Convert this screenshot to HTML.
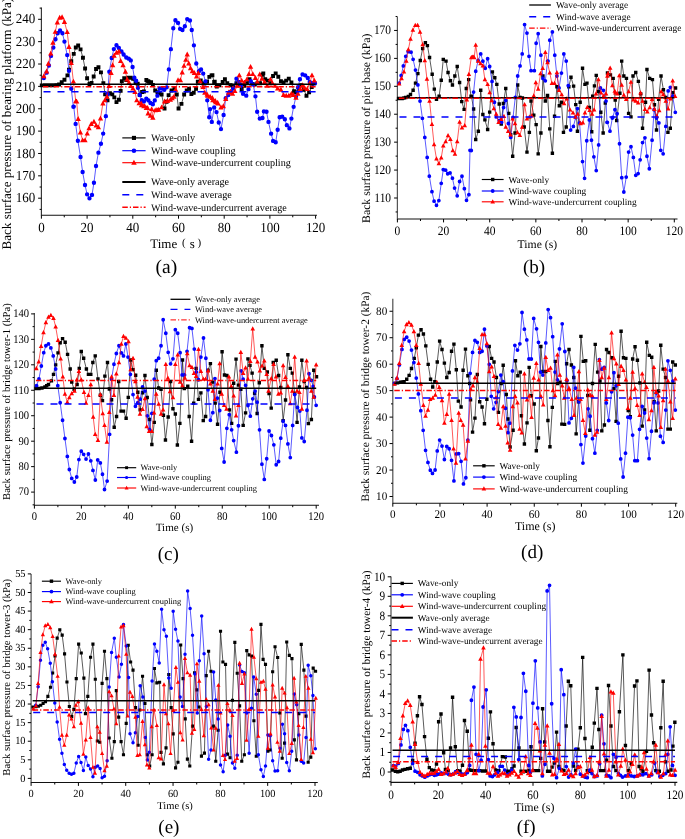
<!DOCTYPE html>
<html><head><meta charset="utf-8"><style>
html,body{margin:0;padding:0;background:#fff;overflow:hidden}
svg{display:block;filter:blur(0.35px);font-family:"Liberation Serif",serif;text-rendering:geometricPrecision}
</style></head><body>
<svg width="685" height="839" viewBox="0 0 685 839"><path d="M41.4 7.6V215.8" fill="none" stroke="#333" stroke-width="1.15"/>
<path d="M41.4 215.3H317" fill="none" stroke="#111" stroke-width="1.1"/>
<path d="M41.4 209.38H39.6M41.4 198.2H38.1M41.4 187.02H39.6M41.4 175.84H38.1M41.4 164.66H39.6M41.4 153.47H38.1M41.4 142.29H39.6M41.4 131.11H38.1M41.4 119.93H39.6M41.4 108.75H38.1M41.4 97.57H39.6M41.4 86.39H38.1M41.4 75.21H39.6M41.4 64.02H38.1M41.4 52.84H39.6M41.4 41.66H38.1M41.4 30.48H39.6M41.4 19.3H38.1M41.4 8.12H39.6M41.4 215.3V218.7M64.25 215.3V217.3M87.1 215.3V218.7M109.95 215.3V217.3M132.8 215.3V218.7M155.65 215.3V217.3M178.5 215.3V218.7M201.35 215.3V217.3M224.2 215.3V218.7M247.05 215.3V217.3M269.9 215.3V218.7M292.75 215.3V217.3M315.6 215.3V218.7" stroke="#000" stroke-width="1" fill="none"/>
<text transform="translate(35.3 202.32) scale(0.94 1)" font-size="13.8" text-anchor="end">160</text>
<text transform="translate(35.3 179.96) scale(0.94 1)" font-size="13.8" text-anchor="end">170</text>
<text transform="translate(35.3 157.6) scale(0.94 1)" font-size="13.8" text-anchor="end">180</text>
<text transform="translate(35.3 135.24) scale(0.94 1)" font-size="13.8" text-anchor="end">190</text>
<text transform="translate(35.3 112.87) scale(0.94 1)" font-size="13.8" text-anchor="end">200</text>
<text transform="translate(35.3 90.51) scale(0.94 1)" font-size="13.8" text-anchor="end">210</text>
<text transform="translate(35.3 68.15) scale(0.94 1)" font-size="13.8" text-anchor="end">220</text>
<text transform="translate(35.3 45.79) scale(0.94 1)" font-size="13.8" text-anchor="end">230</text>
<text transform="translate(35.3 23.42) scale(0.94 1)" font-size="13.8" text-anchor="end">240</text>
<text transform="translate(41.4 232.22) scale(0.94 1)" font-size="13.8" text-anchor="middle">0</text>
<text transform="translate(87.1 232.22) scale(0.94 1)" font-size="13.8" text-anchor="middle">20</text>
<text transform="translate(132.8 232.22) scale(0.94 1)" font-size="13.8" text-anchor="middle">40</text>
<text transform="translate(178.5 232.22) scale(0.94 1)" font-size="13.8" text-anchor="middle">60</text>
<text transform="translate(224.2 232.22) scale(0.94 1)" font-size="13.8" text-anchor="middle">80</text>
<text transform="translate(269.9 232.22) scale(0.94 1)" font-size="13.8" text-anchor="middle">100</text>
<text transform="translate(315.6 232.22) scale(0.94 1)" font-size="13.8" text-anchor="middle">120</text>
<text transform="translate(11.2 249.5) rotate(-90)" font-size="13.1">Back surface pressure of bearing platform (kPa)</text>
<path d="M397.4 16.8V219.5" fill="none" stroke="#555" stroke-width="1.25"/>
<path d="M397.4 219H677.5" fill="none" stroke="#111" stroke-width="1.1"/>
<path d="M397.4 211.96H395.6M397.4 198H394.1M397.4 184.04H395.6M397.4 170.07H394.1M397.4 156.11H395.6M397.4 142.15H394.1M397.4 128.19H395.6M397.4 114.23H394.1M397.4 100.26H395.6M397.4 86.3H394.1M397.4 72.34H395.6M397.4 58.38H394.1M397.4 44.41H395.6M397.4 30.45H394.1M397.4 16.49H395.6M397.4 219V222.4M420.47 219V221M443.55 219V222.4M466.62 219V221M489.7 219V222.4M512.77 219V221M535.85 219V222.4M558.92 219V221M582 219V222.4M605.07 219V221M628.15 219V222.4M651.22 219V221M674.3 219V222.4" stroke="#000" stroke-width="1" fill="none"/>
<text transform="translate(391.1 201.82) scale(0.89 1)" font-size="12.9" text-anchor="end">110</text>
<text transform="translate(391.1 173.9) scale(0.89 1)" font-size="12.9" text-anchor="end">120</text>
<text transform="translate(391.1 145.97) scale(0.89 1)" font-size="12.9" text-anchor="end">130</text>
<text transform="translate(391.1 118.05) scale(0.89 1)" font-size="12.9" text-anchor="end">140</text>
<text transform="translate(391.1 90.12) scale(0.89 1)" font-size="12.9" text-anchor="end">150</text>
<text transform="translate(391.1 62.2) scale(0.89 1)" font-size="12.9" text-anchor="end">160</text>
<text transform="translate(391.1 34.27) scale(0.89 1)" font-size="12.9" text-anchor="end">170</text>
<text transform="translate(397.4 234.72) scale(0.89 1)" font-size="12.9" text-anchor="middle">0</text>
<text transform="translate(443.55 234.72) scale(0.89 1)" font-size="12.9" text-anchor="middle">20</text>
<text transform="translate(489.7 234.72) scale(0.89 1)" font-size="12.9" text-anchor="middle">40</text>
<text transform="translate(535.85 234.72) scale(0.89 1)" font-size="12.9" text-anchor="middle">60</text>
<text transform="translate(582 234.72) scale(0.89 1)" font-size="12.9" text-anchor="middle">80</text>
<text transform="translate(628.15 234.72) scale(0.89 1)" font-size="12.9" text-anchor="middle">100</text>
<text transform="translate(674.3 234.72) scale(0.89 1)" font-size="12.9" text-anchor="middle">120</text>
<text transform="translate(369.5 222.9) rotate(-90)" font-size="11.75">Back surface pressure of pier base (kPa)</text>
<path d="M34.4 313V505.7" fill="none" stroke="#555" stroke-width="1.25"/>
<path d="M34.4 505.2H319" fill="none" stroke="#111" stroke-width="1.1"/>
<path d="M34.4 504.83H32.6M34.4 492.1H31.1M34.4 479.37H32.6M34.4 466.64H31.1M34.4 453.91H32.6M34.4 441.19H31.1M34.4 428.46H32.6M34.4 415.73H31.1M34.4 403H32.6M34.4 390.27H31.1M34.4 377.54H32.6M34.4 364.81H31.1M34.4 352.09H32.6M34.4 339.36H31.1M34.4 326.63H32.6M34.4 313.9H31.1M34.4 505.2V508.6M57.88 505.2V507.2M81.37 505.2V508.6M104.85 505.2V507.2M128.33 505.2V508.6M151.82 505.2V507.2M175.3 505.2V508.6M198.78 505.2V507.2M222.27 505.2V508.6M245.75 505.2V507.2M269.23 505.2V508.6M292.72 505.2V507.2M316.2 505.2V508.6" stroke="#000" stroke-width="1" fill="none"/>
<text transform="translate(29 495.49) scale(0.91 1)" font-size="11.6" text-anchor="end">70</text>
<text transform="translate(29 470.03) scale(0.91 1)" font-size="11.6" text-anchor="end">80</text>
<text transform="translate(29 444.57) scale(0.91 1)" font-size="11.6" text-anchor="end">90</text>
<text transform="translate(29 419.11) scale(0.91 1)" font-size="11.6" text-anchor="end">100</text>
<text transform="translate(29 393.66) scale(0.91 1)" font-size="11.6" text-anchor="end">110</text>
<text transform="translate(29 368.2) scale(0.91 1)" font-size="11.6" text-anchor="end">120</text>
<text transform="translate(29 342.74) scale(0.91 1)" font-size="11.6" text-anchor="end">130</text>
<text transform="translate(29 317.29) scale(0.91 1)" font-size="11.6" text-anchor="end">140</text>
<text transform="translate(34.4 519.89) scale(0.91 1)" font-size="11.6" text-anchor="middle">0</text>
<text transform="translate(81.37 519.89) scale(0.91 1)" font-size="11.6" text-anchor="middle">20</text>
<text transform="translate(128.33 519.89) scale(0.91 1)" font-size="11.6" text-anchor="middle">40</text>
<text transform="translate(175.3 519.89) scale(0.91 1)" font-size="11.6" text-anchor="middle">60</text>
<text transform="translate(222.27 519.89) scale(0.91 1)" font-size="11.6" text-anchor="middle">80</text>
<text transform="translate(269.23 519.89) scale(0.91 1)" font-size="11.6" text-anchor="middle">100</text>
<text transform="translate(316.2 519.89) scale(0.91 1)" font-size="11.6" text-anchor="middle">120</text>
<text transform="translate(9.6 500) rotate(-90)" font-size="10.7">Back surface pressure of bridge tower-1 (kPa)</text>
<path d="M392.8 298.75V503.8" fill="none" stroke="#555" stroke-width="1.25"/>
<path d="M392.8 503.3H677.3" fill="none" stroke="#111" stroke-width="1.1"/>
<path d="M392.8 496.5H389.5M392.8 483.27H391M392.8 470.04H389.5M392.8 456.8H391M392.8 443.57H389.5M392.8 430.34H391M392.8 417.11H389.5M392.8 403.88H391M392.8 390.64H389.5M392.8 377.41H391M392.8 364.18H389.5M392.8 350.95H391M392.8 337.71H389.5M392.8 324.48H391M392.8 311.25H389.5M392.8 503.3V506.7M416.38 503.3V505.3M439.95 503.3V506.7M463.53 503.3V505.3M487.1 503.3V506.7M510.68 503.3V505.3M534.25 503.3V506.7M557.83 503.3V505.3M581.4 503.3V506.7M604.98 503.3V505.3M628.55 503.3V506.7M652.12 503.3V505.3M675.7 503.3V506.7" stroke="#000" stroke-width="1" fill="none"/>
<text transform="translate(387.2 499.97) scale(0.94 1)" font-size="11.85" text-anchor="end">10</text>
<text transform="translate(387.2 473.51) scale(0.94 1)" font-size="11.85" text-anchor="end">20</text>
<text transform="translate(387.2 447.04) scale(0.94 1)" font-size="11.85" text-anchor="end">30</text>
<text transform="translate(387.2 420.58) scale(0.94 1)" font-size="11.85" text-anchor="end">40</text>
<text transform="translate(387.2 394.11) scale(0.94 1)" font-size="11.85" text-anchor="end">50</text>
<text transform="translate(387.2 367.65) scale(0.94 1)" font-size="11.85" text-anchor="end">60</text>
<text transform="translate(387.2 341.18) scale(0.94 1)" font-size="11.85" text-anchor="end">70</text>
<text transform="translate(387.2 314.72) scale(0.94 1)" font-size="11.85" text-anchor="end">80</text>
<text transform="translate(392.8 517.97) scale(0.94 1)" font-size="11.85" text-anchor="middle">0</text>
<text transform="translate(439.95 517.97) scale(0.94 1)" font-size="11.85" text-anchor="middle">20</text>
<text transform="translate(487.1 517.97) scale(0.94 1)" font-size="11.85" text-anchor="middle">40</text>
<text transform="translate(534.25 517.97) scale(0.94 1)" font-size="11.85" text-anchor="middle">60</text>
<text transform="translate(581.4 517.97) scale(0.94 1)" font-size="11.85" text-anchor="middle">80</text>
<text transform="translate(628.55 517.97) scale(0.94 1)" font-size="11.85" text-anchor="middle">100</text>
<text transform="translate(675.7 517.97) scale(0.94 1)" font-size="11.85" text-anchor="middle">120</text>
<text transform="translate(369.3 501.4) rotate(-90)" font-size="11.4">Back surface pressure of bridge tower-2 (kPa)</text>
<path d="M31.1 574V783" fill="none" stroke="#555" stroke-width="1.25"/>
<path d="M31.1 782.5H317.8" fill="none" stroke="#111" stroke-width="1.1"/>
<path d="M31.1 778.4H27.8M31.1 769.1H29.3M31.1 759.81H27.8M31.1 750.51H29.3M31.1 741.22H27.8M31.1 731.92H29.3M31.1 722.63H27.8M31.1 713.33H29.3M31.1 704.04H27.8M31.1 694.74H29.3M31.1 685.45H27.8M31.1 676.15H29.3M31.1 666.85H27.8M31.1 657.56H29.3M31.1 648.26H27.8M31.1 638.97H29.3M31.1 629.67H27.8M31.1 620.38H29.3M31.1 611.08H27.8M31.1 601.79H29.3M31.1 592.49H27.8M31.1 583.2H29.3M31.1 573.9H27.8M31.1 782.5V785.9M54.76 782.5V784.5M78.42 782.5V785.9M102.07 782.5V784.5M125.73 782.5V785.9M149.39 782.5V784.5M173.05 782.5V785.9M196.71 782.5V784.5M220.37 782.5V785.9M244.02 782.5V784.5M267.68 782.5V785.9M291.34 782.5V784.5M315 782.5V785.9" stroke="#000" stroke-width="1" fill="none"/>
<text transform="translate(25.5 781.55) scale(0.95 1)" font-size="10.9" text-anchor="end">0</text>
<text transform="translate(25.5 762.96) scale(0.95 1)" font-size="10.9" text-anchor="end">5</text>
<text transform="translate(25.5 744.37) scale(0.95 1)" font-size="10.9" text-anchor="end">10</text>
<text transform="translate(25.5 725.78) scale(0.95 1)" font-size="10.9" text-anchor="end">15</text>
<text transform="translate(25.5 707.19) scale(0.95 1)" font-size="10.9" text-anchor="end">20</text>
<text transform="translate(25.5 688.6) scale(0.95 1)" font-size="10.9" text-anchor="end">25</text>
<text transform="translate(25.5 670.01) scale(0.95 1)" font-size="10.9" text-anchor="end">30</text>
<text transform="translate(25.5 651.42) scale(0.95 1)" font-size="10.9" text-anchor="end">35</text>
<text transform="translate(25.5 632.82) scale(0.95 1)" font-size="10.9" text-anchor="end">40</text>
<text transform="translate(25.5 614.23) scale(0.95 1)" font-size="10.9" text-anchor="end">45</text>
<text transform="translate(25.5 595.64) scale(0.95 1)" font-size="10.9" text-anchor="end">50</text>
<text transform="translate(25.5 577.05) scale(0.95 1)" font-size="10.9" text-anchor="end">55</text>
<text transform="translate(31.1 796.85) scale(0.95 1)" font-size="10.9" text-anchor="middle">0</text>
<text transform="translate(78.42 796.85) scale(0.95 1)" font-size="10.9" text-anchor="middle">20</text>
<text transform="translate(125.73 796.85) scale(0.95 1)" font-size="10.9" text-anchor="middle">40</text>
<text transform="translate(173.05 796.85) scale(0.95 1)" font-size="10.9" text-anchor="middle">60</text>
<text transform="translate(220.37 796.85) scale(0.95 1)" font-size="10.9" text-anchor="middle">80</text>
<text transform="translate(267.68 796.85) scale(0.95 1)" font-size="10.9" text-anchor="middle">100</text>
<text transform="translate(315 796.85) scale(0.95 1)" font-size="10.9" text-anchor="middle">120</text>
<text transform="translate(10 775.7) rotate(-90)" font-size="10.7">Back surface pressure of bridge tower-3 (kPa)</text>
<path d="M391 576.5V782.9" fill="none" stroke="#555" stroke-width="1.25"/>
<path d="M391 782.4H677.3" fill="none" stroke="#111" stroke-width="1.1"/>
<path d="M391 781.76H389.2M391 772H387.7M391 762.24H389.2M391 752.48H387.7M391 742.72H389.2M391 732.96H387.7M391 723.2H389.2M391 713.44H387.7M391 703.68H389.2M391 693.92H387.7M391 684.16H389.2M391 674.4H387.7M391 664.64H389.2M391 654.88H387.7M391 645.12H389.2M391 635.36H387.7M391 625.6H389.2M391 615.84H387.7M391 606.08H389.2M391 596.32H387.7M391 586.56H389.2M391 576.8H387.7M391 782.4V785.8M414.67 782.4V784.4M438.33 782.4V785.8M462 782.4V784.4M485.67 782.4V785.8M509.33 782.4V784.4M533 782.4V785.8M556.67 782.4V784.4M580.33 782.4V785.8M604 782.4V784.4M627.67 782.4V785.8M651.33 782.4V784.4M675 782.4V785.8" stroke="#000" stroke-width="1" fill="none"/>
<text transform="translate(385.2 775.75) scale(0.89 1)" font-size="12.7" text-anchor="end">0</text>
<text transform="translate(385.2 756.23) scale(0.89 1)" font-size="12.7" text-anchor="end">1</text>
<text transform="translate(385.2 736.71) scale(0.89 1)" font-size="12.7" text-anchor="end">2</text>
<text transform="translate(385.2 717.19) scale(0.89 1)" font-size="12.7" text-anchor="end">3</text>
<text transform="translate(385.2 697.67) scale(0.89 1)" font-size="12.7" text-anchor="end">4</text>
<text transform="translate(385.2 678.15) scale(0.89 1)" font-size="12.7" text-anchor="end">5</text>
<text transform="translate(385.2 658.63) scale(0.89 1)" font-size="12.7" text-anchor="end">6</text>
<text transform="translate(385.2 639.11) scale(0.89 1)" font-size="12.7" text-anchor="end">7</text>
<text transform="translate(385.2 619.59) scale(0.89 1)" font-size="12.7" text-anchor="end">8</text>
<text transform="translate(385.2 600.07) scale(0.89 1)" font-size="12.7" text-anchor="end">9</text>
<text transform="translate(385.2 580.55) scale(0.89 1)" font-size="12.7" text-anchor="end">10</text>
<text transform="translate(391 798.65) scale(0.89 1)" font-size="12.7" text-anchor="middle">0</text>
<text transform="translate(438.33 798.65) scale(0.89 1)" font-size="12.7" text-anchor="middle">20</text>
<text transform="translate(485.67 798.65) scale(0.89 1)" font-size="12.7" text-anchor="middle">40</text>
<text transform="translate(533 798.65) scale(0.89 1)" font-size="12.7" text-anchor="middle">60</text>
<text transform="translate(580.33 798.65) scale(0.89 1)" font-size="12.7" text-anchor="middle">80</text>
<text transform="translate(627.67 798.65) scale(0.89 1)" font-size="12.7" text-anchor="middle">100</text>
<text transform="translate(675 798.65) scale(0.89 1)" font-size="12.7" text-anchor="middle">120</text>
<text transform="translate(369.8 778.6) rotate(-90)" font-size="11.3">Back surface pressure of bridge tower-4 (kPa)</text>
<path d="M122.3 137.9H145.6" stroke="#000" stroke-width="1.15"/>
<path d="M131.91 135.86h4.08v4.08h-4.08z" fill="#000"/>
<text x="150.9" y="141.25" font-size="10.15" text-anchor="start">Wave-only</text>
<path d="M122.3 150.7H145.6" stroke="#00f" stroke-width="1.15"/>
<path d="M131.67 150.7a2.28 2.28 0 1 0 4.56 0a2.28 2.28 0 1 0 -4.56 0z" fill="#00f"/>
<text x="150.9" y="154.05" font-size="10.15" text-anchor="start">Wind-wave coupling</text>
<path d="M122.3 162.7H145.6" stroke="#f00" stroke-width="1.15"/>
<path d="M133.95 159.66L136.71 164.77L131.19 164.77z" fill="#f00"/>
<text x="150.9" y="166.05" font-size="10.15" text-anchor="start">Wind-wave-undercurrent coupling</text>
<path d="M122.3 182H145.6" stroke="#000" stroke-width="2"/>
<text x="150.9" y="185.35" font-size="10.15" text-anchor="start">Wave-only average</text>
<path d="M122.3 194.7H145.6" stroke="#00f" stroke-width="1.5" stroke-dasharray="7 7"/>
<text x="150.9" y="198.05" font-size="10.15" text-anchor="start">Wind-wave average</text>
<path d="M122.3 207.2H145.6" stroke="#f00" stroke-width="1.5" stroke-dasharray="5.5 2 1.2 2"/>
<text x="150.9" y="210.55" font-size="10.15" text-anchor="start">Wind-wave-undercurrent average</text>
<path d="M529.2 5H550.9" stroke="#000" stroke-width="1.3"/>
<text x="556" y="8.09" font-size="9.35" text-anchor="start">Wave-only average</text>
<path d="M529.2 16.8H550.9" stroke="#00f" stroke-width="1.4" stroke-dasharray="7 7"/>
<text x="556" y="19.89" font-size="9.35" text-anchor="start">Wind-wave average</text>
<path d="M529.2 28.1H550.9" stroke="#f00" stroke-width="1.2" stroke-dasharray="5.5 2 1.2 2"/>
<text x="556" y="31.19" font-size="9.35" text-anchor="start">Wind-wave-undercurrent average</text>
<path d="M481.8 179.5H503.6" stroke="#000" stroke-width="1.15"/>
<path d="M491 177.8h3.4v3.4h-3.4z" fill="#000"/>
<text x="508.6" y="182.56" font-size="9.27" text-anchor="start">Wave-only</text>
<path d="M481.8 191H503.6" stroke="#00f" stroke-width="1.15"/>
<path d="M490.8 191a1.9 1.9 0 1 0 3.8 0a1.9 1.9 0 1 0 -3.8 0z" fill="#00f"/>
<text x="508.6" y="194.06" font-size="9.27" text-anchor="start">Wind-wave coupling</text>
<path d="M481.8 201.8H503.6" stroke="#f00" stroke-width="1.15"/>
<path d="M492.7 199.27L495 203.53L490.4 203.53z" fill="#f00"/>
<text x="508.6" y="204.86" font-size="9.27" text-anchor="start">Wind-wave-undercurrent coupling</text>
<path d="M170.5 299.3H190.4" stroke="#000" stroke-width="1.3"/>
<text x="195" y="302.08" font-size="8.42" text-anchor="start">Wave-only average</text>
<path d="M170.5 309.4H190.4" stroke="#00f" stroke-width="1.3" stroke-dasharray="7 7"/>
<text x="195" y="312.18" font-size="8.42" text-anchor="start">Wind-wave average</text>
<path d="M170.5 319.9H190.4" stroke="#f00" stroke-width="1" stroke-dasharray="5.5 2 1.2 2"/>
<text x="195" y="322.68" font-size="8.42" text-anchor="start">Wind-wave-undercurrent average</text>
<path d="M117 467.7H136.2" stroke="#000" stroke-width="1.15"/>
<path d="M125.16 466.25h2.89v2.89h-2.89z" fill="#000"/>
<text x="140.4" y="470.49" font-size="8.45" text-anchor="start">Wave-only</text>
<path d="M117 477.5H136.2" stroke="#00f" stroke-width="1.15"/>
<path d="M124.98 477.5a1.61 1.61 0 1 0 3.23 0a1.61 1.61 0 1 0 -3.23 0z" fill="#00f"/>
<text x="140.4" y="480.29" font-size="8.45" text-anchor="start">Wind-wave coupling</text>
<path d="M117 488H136.2" stroke="#f00" stroke-width="1.15"/>
<path d="M126.6 485.85L128.56 489.47L124.64 489.47z" fill="#f00"/>
<text x="140.4" y="490.79" font-size="8.45" text-anchor="start">Wind-wave-undercurrent coupling</text>
<path d="M473.1 465.8H494.7" stroke="#000" stroke-width="1.15"/>
<path d="M482.2 464.1h3.4v3.4h-3.4z" fill="#000"/>
<text x="499.4" y="468.87" font-size="9.3" text-anchor="start">Wave-only</text>
<path d="M473.1 477.1H494.7" stroke="#00f" stroke-width="1.15"/>
<path d="M482 477.1a1.9 1.9 0 1 0 3.8 0a1.9 1.9 0 1 0 -3.8 0z" fill="#00f"/>
<text x="499.4" y="480.17" font-size="9.3" text-anchor="start">Wind-wave coupling</text>
<path d="M473.1 488.9H494.7" stroke="#f00" stroke-width="1.15"/>
<path d="M483.9 486.37L486.2 490.62L481.6 490.62z" fill="#f00"/>
<text x="499.4" y="491.97" font-size="9.3" text-anchor="start">Wind-wave-undercurrent coupling</text>
<path d="M41.9 581.2H61" stroke="#000" stroke-width="1.15"/>
<path d="M49.75 579.5h3.4v3.4h-3.4z" fill="#000"/>
<text x="65.5" y="583.97" font-size="8.4" text-anchor="start">Wave-only</text>
<path d="M41.9 591.6H61" stroke="#00f" stroke-width="1.15"/>
<path d="M49.55 591.6a1.9 1.9 0 1 0 3.8 0a1.9 1.9 0 1 0 -3.8 0z" fill="#00f"/>
<text x="65.5" y="594.37" font-size="8.4" text-anchor="start">Wind-wave coupling</text>
<path d="M41.9 601.6H61" stroke="#f00" stroke-width="1.15"/>
<path d="M51.45 599.07L53.75 603.33L49.15 603.33z" fill="#f00"/>
<text x="65.5" y="604.37" font-size="8.4" text-anchor="start">Wind-wave-undercurrent coupling</text>
<path d="M391.5 583.4H412.9" stroke="#000" stroke-width="1.15"/>
<path d="M400.5 581.7h3.4v3.4h-3.4z" fill="#000"/>
<text x="417.8" y="586.47" font-size="9.3" text-anchor="start">Wave-only</text>
<path d="M391.5 594.8H412.9" stroke="#00f" stroke-width="1.15"/>
<path d="M400.3 594.8a1.9 1.9 0 1 0 3.8 0a1.9 1.9 0 1 0 -3.8 0z" fill="#00f"/>
<text x="417.8" y="597.87" font-size="9.3" text-anchor="start">Wind-wave coupling</text>
<path d="M391.5 606.3H412.9" stroke="#f00" stroke-width="1.15"/>
<path d="M402.2 603.77L404.5 608.02L399.9 608.02z" fill="#f00"/>
<text x="417.8" y="609.37" font-size="9.3" text-anchor="start">Wind-wave-undercurrent coupling</text>
<path d="M391.5 617.7H412.9" stroke="#000" stroke-width="2"/>
<text x="417.8" y="620.77" font-size="9.3" text-anchor="start">Wave-only average</text>
<path d="M391.5 629.8H412.9" stroke="#00f" stroke-width="1.5" stroke-dasharray="7 7"/>
<text x="417.8" y="632.87" font-size="9.3" text-anchor="start">Wind-wave average</text>
<path d="M391.5 641.1H412.9" stroke="#f00" stroke-width="1.5" stroke-dasharray="5.5 2 1.2 2"/>
<text x="417.8" y="644.17" font-size="9.3" text-anchor="start">Wind-wave-undercurrent average</text>
<text x="150.2" y="247.9" font-size="13" text-anchor="start">Time</text>
<text x="182" y="245.9" font-size="11" text-anchor="start">(</text>
<text x="189.8" y="247.9" font-size="13" text-anchor="start">s</text>
<text x="197.6" y="245.9" font-size="11" text-anchor="start">)</text>
<text x="517.6" y="247.8" font-size="11.7" text-anchor="start">Time (s)</text>
<text x="155.7" y="531.1" font-size="11.1" text-anchor="start">Time (s)</text>
<text x="514.9" y="530.2" font-size="12" text-anchor="start">Time (s)</text>
<text x="157.3" y="808.9" font-size="10.5" text-anchor="start">Time (s)</text>
<text x="514.2" y="811.3" font-size="11.9" text-anchor="start">Time (s)</text>
<text x="166.4" y="272.8" font-size="19.5" text-anchor="middle">(a)</text>
<text x="534" y="273.1" font-size="19" text-anchor="middle">(b)</text>
<text x="168.3" y="560.2" font-size="19" text-anchor="middle">(c)</text>
<text x="532.2" y="557.5" font-size="19" text-anchor="middle">(d)</text>
<text x="168.9" y="832.9" font-size="19" text-anchor="middle">(e)</text>
<text x="526.2" y="832.9" font-size="19" text-anchor="middle">(f)</text>
<path d="M41.79 85.39 44.18 85.39 46.56 85.39 48.95 85.39 51.33 85.39 53.72 85.39 56.46 85.15 59.09 84.56 61.71 82.17 64.45 79.78 67.44 75.37 68.99 69.64 71.25 61.29 73.76 53.9 75.79 47.58 78.17 45.55 80.56 49.37 82.94 57.72 85.09 68.45 87.12 78.23 89.5 83.96 91.53 83 93.68 76.56 96.07 69.05 98.45 67.26 100.96 72.35 103.35 83.08 105.14 94.42 107.53 100.38 109.91 93.22 112.3 94.42 114.32 97.4 116.47 102.17 118.86 99.78 120.65 90.84 121.84 81.29 124.23 78.31 126.25 80.1 128.4 77.72 130.79 77.72 133.17 78.91 135.56 82.49 137.71 83.68 139.73 95.01 142.12 92.03 143.91 91.43 146.36 80.01 148.08 81.29 148.76 81.68 150.47 82.49 151.09 82.26 152.85 85.02 155.18 90.44 157.52 92.19 161.61 94.53 164.53 108.54 168.61 95.11 171.53 90.44 174.45 88.69 176.79 94.53 178.54 108.54 181.46 103.87 184.15 94.53 186.72 90.44 189.05 88.69 191.39 93.94 193.72 92.77 196.06 88.69 197.81 81.68 200.73 80.51 203.65 83.43 207.06 81.8 209.34 76.85 211.55 75.37 212.41 75.26 214.17 81.92 214.74 81.68 216.79 86.51 217.66 85.18 219.41 85.2 222.69 81.92 224.91 79.3 227.27 83.23 230.55 85.2 233.17 86.51 236.44 83.23 239.72 84.54 241.68 89.13 244.3 85.85 246.92 83.23 249.54 79.3 252.16 83.89 254.78 84.54 257.4 83.23 260.02 83.23 262.59 74.72 263.3 73.41 265.21 79.3 267.83 80.61 270.45 83.23 273.07 76.03 275.69 73.41 278.31 76.68 280.93 81.27 283.55 82.58 286.17 80.61 288.79 78.65 291.41 82.58 294.03 91.09 295.99 92.4 298.61 88.47 301.23 85.2 303.85 89.78 306.47 95.68 309.09 92.4 311.71 87.16 314.33 83.23" fill="none" stroke="#000" stroke-width="0.65" stroke-linejoin="round"/>
<path d="M39.83 83.44h3.91v3.91h-3.91zM42.22 83.44h3.91v3.91h-3.91zM44.61 83.44h3.91v3.91h-3.91zM46.99 83.44h3.91v3.91h-3.91zM49.38 83.44h3.91v3.91h-3.91zM51.76 83.44h3.91v3.91h-3.91zM54.51 83.2h3.91v3.91h-3.91zM57.13 82.6h3.91v3.91h-3.91zM59.76 80.21h3.91v3.91h-3.91zM62.5 77.83h3.91v3.91h-3.91zM65.48 73.42h3.91v3.91h-3.91zM67.03 67.69h3.91v3.91h-3.91zM69.3 59.34h3.91v3.91h-3.91zM71.8 51.94h3.91v3.91h-3.91zM73.83 45.62h3.91v3.91h-3.91zM76.22 43.59h3.91v3.91h-3.91zM78.6 47.41h3.91v3.91h-3.91zM80.99 55.76h3.91v3.91h-3.91zM83.14 66.5h3.91v3.91h-3.91zM85.16 76.28h3.91v3.91h-3.91zM87.55 82h3.91v3.91h-3.91zM89.58 81.05h3.91v3.91h-3.91zM91.73 74.61h3.91v3.91h-3.91zM94.11 67.09h3.91v3.91h-3.91zM96.5 65.3h3.91v3.91h-3.91zM99.01 70.39h3.91v3.91h-3.91zM101.4 81.13h3.91v3.91h-3.91zM103.18 92.46h3.91v3.91h-3.91zM105.57 98.43h3.91v3.91h-3.91zM107.96 91.27h3.91v3.91h-3.91zM110.34 92.46h3.91v3.91h-3.91zM112.37 95.44h3.91v3.91h-3.91zM114.52 100.21h3.91v3.91h-3.91zM116.9 97.83h3.91v3.91h-3.91zM118.69 88.88h3.91v3.91h-3.91zM119.89 79.34h3.91v3.91h-3.91zM122.27 76.36h3.91v3.91h-3.91zM124.3 78.15h3.91v3.91h-3.91zM126.45 75.76h3.91v3.91h-3.91zM128.83 75.76h3.91v3.91h-3.91zM131.22 76.95h3.91v3.91h-3.91zM133.6 80.53h3.91v3.91h-3.91zM135.75 81.73h3.91v3.91h-3.91zM137.78 93.06h3.91v3.91h-3.91zM140.16 90.08h3.91v3.91h-3.91zM141.95 89.48h3.91v3.91h-3.91zM144.4 78.06h3.91v3.91h-3.91zM146.13 79.34h3.91v3.91h-3.91zM146.8 79.72h3.91v3.91h-3.91zM148.51 80.53h3.91v3.91h-3.91zM149.14 80.31h3.91v3.91h-3.91zM150.9 83.06h3.91v3.91h-3.91zM153.23 88.48h3.91v3.91h-3.91zM155.56 90.23h3.91v3.91h-3.91zM157.61 91.4h3.91v3.91h-3.91zM159.65 92.57h3.91v3.91h-3.91zM162.57 106.59h3.91v3.91h-3.91zM164.61 99.87h3.91v3.91h-3.91zM166.66 93.15h3.91v3.91h-3.91zM169.58 88.48h3.91v3.91h-3.91zM172.5 86.73h3.91v3.91h-3.91zM174.83 92.57h3.91v3.91h-3.91zM176.59 106.59h3.91v3.91h-3.91zM179.5 101.91h3.91v3.91h-3.91zM182.19 92.57h3.91v3.91h-3.91zM184.76 88.48h3.91v3.91h-3.91zM187.1 86.73h3.91v3.91h-3.91zM189.43 91.99h3.91v3.91h-3.91zM191.77 90.82h3.91v3.91h-3.91zM194.1 86.73h3.91v3.91h-3.91zM195.86 79.72h3.91v3.91h-3.91zM198.77 78.56h3.91v3.91h-3.91zM201.69 81.48h3.91v3.91h-3.91zM205.1 79.85h3.91v3.91h-3.91zM207.39 74.89h3.91v3.91h-3.91zM209.6 73.42h3.91v3.91h-3.91zM210.45 73.3h3.91v3.91h-3.91zM212.22 79.97h3.91v3.91h-3.91zM212.79 79.72h3.91v3.91h-3.91zM214.84 84.55h3.91v3.91h-3.91zM215.71 83.23h3.91v3.91h-3.91zM217.46 83.24h3.91v3.91h-3.91zM220.73 79.97h3.91v3.91h-3.91zM222.96 77.35h3.91v3.91h-3.91zM225.32 81.28h3.91v3.91h-3.91zM228.59 83.24h3.91v3.91h-3.91zM231.21 84.55h3.91v3.91h-3.91zM234.49 81.28h3.91v3.91h-3.91zM237.76 82.59h3.91v3.91h-3.91zM239.73 87.17h3.91v3.91h-3.91zM242.35 83.9h3.91v3.91h-3.91zM244.97 81.28h3.91v3.91h-3.91zM247.59 77.35h3.91v3.91h-3.91zM250.21 81.93h3.91v3.91h-3.91zM252.83 82.59h3.91v3.91h-3.91zM255.45 81.28h3.91v3.91h-3.91zM258.07 81.28h3.91v3.91h-3.91zM260.63 72.76h3.91v3.91h-3.91zM261.34 71.45h3.91v3.91h-3.91zM263.25 77.35h3.91v3.91h-3.91zM265.87 78.66h3.91v3.91h-3.91zM268.49 81.28h3.91v3.91h-3.91zM271.11 74.07h3.91v3.91h-3.91zM273.73 71.45h3.91v3.91h-3.91zM276.35 74.73h3.91v3.91h-3.91zM278.97 79.31h3.91v3.91h-3.91zM281.59 80.62h3.91v3.91h-3.91zM284.21 78.66h3.91v3.91h-3.91zM286.83 76.69h3.91v3.91h-3.91zM289.45 80.62h3.91v3.91h-3.91zM292.07 89.14h3.91v3.91h-3.91zM294.04 90.45h3.91v3.91h-3.91zM296.66 86.52h3.91v3.91h-3.91zM299.28 83.24h3.91v3.91h-3.91zM301.9 87.83h3.91v3.91h-3.91zM304.52 93.72h3.91v3.91h-3.91zM307.14 90.45h3.91v3.91h-3.91zM309.76 85.21h3.91v3.91h-3.91zM312.38 81.28h3.91v3.91h-3.91z" fill="#000"/>
<path d="M43.82 77.99 46.56 72.63 48.95 65.47 50.97 55.93 53.36 47.58 55.51 39.23 57.65 33.26 60.04 30.52 62.43 33.26 64.45 41.61 67.2 55.09 68.99 70.84 71.25 88.73 73.4 106.8 73.76 106.62 75.63 123.92 77.87 140.74 80.54 156.97 82.63 172.01 85.01 184.96 87.1 194.34 89.48 198.36 92.01 194.93 93.94 182.72 96.03 166.05 98.41 152.65 100.94 143.72 103.17 133.6 105.85 116.18 109.31 71.75 111.7 58.03 113.85 49.09 116.47 45.27 118.86 47.89 121.48 51.47 123.63 54.45 126.25 57.44 128.76 58.63 130.79 60.42 132.58 66.98 134.37 77.72 136.15 80.7 137.94 87.86 139.73 95.01 141.76 100.14 143.91 101.57 146.29 98.59 148.44 100.38 150.47 103 152.86 104.2 154.77 100.43 157.4 95.66 159.54 88.5 161.93 88.5 164.31 89.7 166.7 87.31 168.85 69.42 170.88 49.14 173.26 28.26 175.41 20.27 178.03 22.89 180.06 28.86 182.45 30.05 184.83 26.23 187.22 19.08 189.96 20.51 191.75 30.05 193.9 45.32 196.28 63.45 198.91 71.21 201.06 69.42 203.2 73.59 205.47 81.34 207.26 100.31 209.19 117.3 210.07 109.12 211.81 121.88 214.17 107.42 216.53 112.06 218.76 122.54 220.98 129.09 223.6 114.94 225.7 98.3 228.32 95.02 230.81 91.75 233.17 88.47 236.44 78.65 238.8 81.92 241.03 85.2 242.99 93.71 246.27 95.68 248.5 89.13 250.85 81.27 253.21 84.54 255.44 96.33 257.14 111.79 259.76 118.61 262.48 117.95 263.9 111.4 266.52 111.79 268.48 121.88 271.1 133.67 273.07 140.88 275.69 142.19 277.65 129.74 279.62 117.3 282.24 116.64 284.86 119.26 286.82 125.16 289.44 128.43 291.41 118.61 293.63 106.82 295.99 96.33 297.96 87.16 299.92 79.3 302.54 74.32 305.16 75.37 307.78 77.99 309.75 81.92 312.37 83.23 314.99 83.23" fill="none" stroke="#00f" stroke-width="0.65" stroke-linejoin="round"/>
<path d="M41.63 77.99a2.18 2.18 0 1 0 4.37 0a2.18 2.18 0 1 0 -4.37 0zM44.38 72.63a2.18 2.18 0 1 0 4.37 0a2.18 2.18 0 1 0 -4.37 0zM46.76 65.47a2.18 2.18 0 1 0 4.37 0a2.18 2.18 0 1 0 -4.37 0zM48.79 55.93a2.18 2.18 0 1 0 4.37 0a2.18 2.18 0 1 0 -4.37 0zM51.18 47.58a2.18 2.18 0 1 0 4.37 0a2.18 2.18 0 1 0 -4.37 0zM53.32 39.23a2.18 2.18 0 1 0 4.37 0a2.18 2.18 0 1 0 -4.37 0zM55.47 33.26a2.18 2.18 0 1 0 4.37 0a2.18 2.18 0 1 0 -4.37 0zM57.86 30.52a2.18 2.18 0 1 0 4.37 0a2.18 2.18 0 1 0 -4.37 0zM60.24 33.26a2.18 2.18 0 1 0 4.37 0a2.18 2.18 0 1 0 -4.37 0zM62.27 41.61a2.18 2.18 0 1 0 4.37 0a2.18 2.18 0 1 0 -4.37 0zM65.01 55.09a2.18 2.18 0 1 0 4.37 0a2.18 2.18 0 1 0 -4.37 0zM66.8 70.84a2.18 2.18 0 1 0 4.37 0a2.18 2.18 0 1 0 -4.37 0zM69.07 88.73a2.18 2.18 0 1 0 4.37 0a2.18 2.18 0 1 0 -4.37 0zM71.21 106.8a2.18 2.18 0 1 0 4.37 0a2.18 2.18 0 1 0 -4.37 0zM71.57 106.62a2.18 2.18 0 1 0 4.37 0a2.18 2.18 0 1 0 -4.37 0zM73.45 123.92a2.18 2.18 0 1 0 4.37 0a2.18 2.18 0 1 0 -4.37 0zM75.68 140.74a2.18 2.18 0 1 0 4.37 0a2.18 2.18 0 1 0 -4.37 0zM78.36 156.97a2.18 2.18 0 1 0 4.37 0a2.18 2.18 0 1 0 -4.37 0zM80.44 172.01a2.18 2.18 0 1 0 4.37 0a2.18 2.18 0 1 0 -4.37 0zM82.83 184.96a2.18 2.18 0 1 0 4.37 0a2.18 2.18 0 1 0 -4.37 0zM84.91 194.34a2.18 2.18 0 1 0 4.37 0a2.18 2.18 0 1 0 -4.37 0zM87.29 198.36a2.18 2.18 0 1 0 4.37 0a2.18 2.18 0 1 0 -4.37 0zM89.82 194.93a2.18 2.18 0 1 0 4.37 0a2.18 2.18 0 1 0 -4.37 0zM91.76 182.72a2.18 2.18 0 1 0 4.37 0a2.18 2.18 0 1 0 -4.37 0zM93.84 166.05a2.18 2.18 0 1 0 4.37 0a2.18 2.18 0 1 0 -4.37 0zM96.23 152.65a2.18 2.18 0 1 0 4.37 0a2.18 2.18 0 1 0 -4.37 0zM98.76 143.72a2.18 2.18 0 1 0 4.37 0a2.18 2.18 0 1 0 -4.37 0zM100.99 133.6a2.18 2.18 0 1 0 4.37 0a2.18 2.18 0 1 0 -4.37 0zM103.67 116.18a2.18 2.18 0 1 0 4.37 0a2.18 2.18 0 1 0 -4.37 0zM105.4 93.96a2.18 2.18 0 1 0 4.37 0a2.18 2.18 0 1 0 -4.37 0zM107.13 71.75a2.18 2.18 0 1 0 4.37 0a2.18 2.18 0 1 0 -4.37 0zM109.52 58.03a2.18 2.18 0 1 0 4.37 0a2.18 2.18 0 1 0 -4.37 0zM111.66 49.09a2.18 2.18 0 1 0 4.37 0a2.18 2.18 0 1 0 -4.37 0zM114.29 45.27a2.18 2.18 0 1 0 4.37 0a2.18 2.18 0 1 0 -4.37 0zM116.67 47.89a2.18 2.18 0 1 0 4.37 0a2.18 2.18 0 1 0 -4.37 0zM119.3 51.47a2.18 2.18 0 1 0 4.37 0a2.18 2.18 0 1 0 -4.37 0zM121.44 54.45a2.18 2.18 0 1 0 4.37 0a2.18 2.18 0 1 0 -4.37 0zM124.07 57.44a2.18 2.18 0 1 0 4.37 0a2.18 2.18 0 1 0 -4.37 0zM126.57 58.63a2.18 2.18 0 1 0 4.37 0a2.18 2.18 0 1 0 -4.37 0zM128.6 60.42a2.18 2.18 0 1 0 4.37 0a2.18 2.18 0 1 0 -4.37 0zM130.39 66.98a2.18 2.18 0 1 0 4.37 0a2.18 2.18 0 1 0 -4.37 0zM132.18 77.72a2.18 2.18 0 1 0 4.37 0a2.18 2.18 0 1 0 -4.37 0zM133.97 80.7a2.18 2.18 0 1 0 4.37 0a2.18 2.18 0 1 0 -4.37 0zM135.76 87.86a2.18 2.18 0 1 0 4.37 0a2.18 2.18 0 1 0 -4.37 0zM137.55 95.01a2.18 2.18 0 1 0 4.37 0a2.18 2.18 0 1 0 -4.37 0zM139.58 100.14a2.18 2.18 0 1 0 4.37 0a2.18 2.18 0 1 0 -4.37 0zM141.72 101.57a2.18 2.18 0 1 0 4.37 0a2.18 2.18 0 1 0 -4.37 0zM144.11 98.59a2.18 2.18 0 1 0 4.37 0a2.18 2.18 0 1 0 -4.37 0zM146.26 100.38a2.18 2.18 0 1 0 4.37 0a2.18 2.18 0 1 0 -4.37 0zM148.28 103a2.18 2.18 0 1 0 4.37 0a2.18 2.18 0 1 0 -4.37 0zM150.67 104.2a2.18 2.18 0 1 0 4.37 0a2.18 2.18 0 1 0 -4.37 0zM152.59 100.43a2.18 2.18 0 1 0 4.37 0a2.18 2.18 0 1 0 -4.37 0zM155.21 95.66a2.18 2.18 0 1 0 4.37 0a2.18 2.18 0 1 0 -4.37 0zM157.36 88.5a2.18 2.18 0 1 0 4.37 0a2.18 2.18 0 1 0 -4.37 0zM159.74 88.5a2.18 2.18 0 1 0 4.37 0a2.18 2.18 0 1 0 -4.37 0zM162.13 89.7a2.18 2.18 0 1 0 4.37 0a2.18 2.18 0 1 0 -4.37 0zM164.52 87.31a2.18 2.18 0 1 0 4.37 0a2.18 2.18 0 1 0 -4.37 0zM166.66 69.42a2.18 2.18 0 1 0 4.37 0a2.18 2.18 0 1 0 -4.37 0zM168.69 49.14a2.18 2.18 0 1 0 4.37 0a2.18 2.18 0 1 0 -4.37 0zM171.08 28.26a2.18 2.18 0 1 0 4.37 0a2.18 2.18 0 1 0 -4.37 0zM173.22 20.27a2.18 2.18 0 1 0 4.37 0a2.18 2.18 0 1 0 -4.37 0zM175.85 22.89a2.18 2.18 0 1 0 4.37 0a2.18 2.18 0 1 0 -4.37 0zM177.88 28.86a2.18 2.18 0 1 0 4.37 0a2.18 2.18 0 1 0 -4.37 0zM180.26 30.05a2.18 2.18 0 1 0 4.37 0a2.18 2.18 0 1 0 -4.37 0zM182.65 26.23a2.18 2.18 0 1 0 4.37 0a2.18 2.18 0 1 0 -4.37 0zM185.03 19.08a2.18 2.18 0 1 0 4.37 0a2.18 2.18 0 1 0 -4.37 0zM187.78 20.51a2.18 2.18 0 1 0 4.37 0a2.18 2.18 0 1 0 -4.37 0zM189.57 30.05a2.18 2.18 0 1 0 4.37 0a2.18 2.18 0 1 0 -4.37 0zM191.71 45.32a2.18 2.18 0 1 0 4.37 0a2.18 2.18 0 1 0 -4.37 0zM194.1 63.45a2.18 2.18 0 1 0 4.37 0a2.18 2.18 0 1 0 -4.37 0zM196.72 71.21a2.18 2.18 0 1 0 4.37 0a2.18 2.18 0 1 0 -4.37 0zM198.87 69.42a2.18 2.18 0 1 0 4.37 0a2.18 2.18 0 1 0 -4.37 0zM201.02 73.59a2.18 2.18 0 1 0 4.37 0a2.18 2.18 0 1 0 -4.37 0zM203.28 81.34a2.18 2.18 0 1 0 4.37 0a2.18 2.18 0 1 0 -4.37 0zM205.07 100.31a2.18 2.18 0 1 0 4.37 0a2.18 2.18 0 1 0 -4.37 0zM207.01 117.3a2.18 2.18 0 1 0 4.37 0a2.18 2.18 0 1 0 -4.37 0zM207.89 109.12a2.18 2.18 0 1 0 4.37 0a2.18 2.18 0 1 0 -4.37 0zM209.63 121.88a2.18 2.18 0 1 0 4.37 0a2.18 2.18 0 1 0 -4.37 0zM211.98 107.42a2.18 2.18 0 1 0 4.37 0a2.18 2.18 0 1 0 -4.37 0zM214.34 112.06a2.18 2.18 0 1 0 4.37 0a2.18 2.18 0 1 0 -4.37 0zM216.57 122.54a2.18 2.18 0 1 0 4.37 0a2.18 2.18 0 1 0 -4.37 0zM218.8 129.09a2.18 2.18 0 1 0 4.37 0a2.18 2.18 0 1 0 -4.37 0zM221.42 114.94a2.18 2.18 0 1 0 4.37 0a2.18 2.18 0 1 0 -4.37 0zM223.51 98.3a2.18 2.18 0 1 0 4.37 0a2.18 2.18 0 1 0 -4.37 0zM226.13 95.02a2.18 2.18 0 1 0 4.37 0a2.18 2.18 0 1 0 -4.37 0zM228.62 91.75a2.18 2.18 0 1 0 4.37 0a2.18 2.18 0 1 0 -4.37 0zM230.98 88.47a2.18 2.18 0 1 0 4.37 0a2.18 2.18 0 1 0 -4.37 0zM234.26 78.65a2.18 2.18 0 1 0 4.37 0a2.18 2.18 0 1 0 -4.37 0zM236.62 81.92a2.18 2.18 0 1 0 4.37 0a2.18 2.18 0 1 0 -4.37 0zM238.84 85.2a2.18 2.18 0 1 0 4.37 0a2.18 2.18 0 1 0 -4.37 0zM240.81 93.71a2.18 2.18 0 1 0 4.37 0a2.18 2.18 0 1 0 -4.37 0zM244.08 95.68a2.18 2.18 0 1 0 4.37 0a2.18 2.18 0 1 0 -4.37 0zM246.31 89.13a2.18 2.18 0 1 0 4.37 0a2.18 2.18 0 1 0 -4.37 0zM248.67 81.27a2.18 2.18 0 1 0 4.37 0a2.18 2.18 0 1 0 -4.37 0zM251.03 84.54a2.18 2.18 0 1 0 4.37 0a2.18 2.18 0 1 0 -4.37 0zM253.25 96.33a2.18 2.18 0 1 0 4.37 0a2.18 2.18 0 1 0 -4.37 0zM254.96 111.79a2.18 2.18 0 1 0 4.37 0a2.18 2.18 0 1 0 -4.37 0zM257.58 118.61a2.18 2.18 0 1 0 4.37 0a2.18 2.18 0 1 0 -4.37 0zM260.3 117.95a2.18 2.18 0 1 0 4.37 0a2.18 2.18 0 1 0 -4.37 0zM261.71 111.4a2.18 2.18 0 1 0 4.37 0a2.18 2.18 0 1 0 -4.37 0zM264.33 111.79a2.18 2.18 0 1 0 4.37 0a2.18 2.18 0 1 0 -4.37 0zM266.3 121.88a2.18 2.18 0 1 0 4.37 0a2.18 2.18 0 1 0 -4.37 0zM268.92 133.67a2.18 2.18 0 1 0 4.37 0a2.18 2.18 0 1 0 -4.37 0zM270.88 140.88a2.18 2.18 0 1 0 4.37 0a2.18 2.18 0 1 0 -4.37 0zM273.5 142.19a2.18 2.18 0 1 0 4.37 0a2.18 2.18 0 1 0 -4.37 0zM275.47 129.74a2.18 2.18 0 1 0 4.37 0a2.18 2.18 0 1 0 -4.37 0zM277.43 117.3a2.18 2.18 0 1 0 4.37 0a2.18 2.18 0 1 0 -4.37 0zM280.05 116.64a2.18 2.18 0 1 0 4.37 0a2.18 2.18 0 1 0 -4.37 0zM282.67 119.26a2.18 2.18 0 1 0 4.37 0a2.18 2.18 0 1 0 -4.37 0zM284.64 125.16a2.18 2.18 0 1 0 4.37 0a2.18 2.18 0 1 0 -4.37 0zM287.26 128.43a2.18 2.18 0 1 0 4.37 0a2.18 2.18 0 1 0 -4.37 0zM289.22 118.61a2.18 2.18 0 1 0 4.37 0a2.18 2.18 0 1 0 -4.37 0zM291.45 106.82a2.18 2.18 0 1 0 4.37 0a2.18 2.18 0 1 0 -4.37 0zM293.81 96.33a2.18 2.18 0 1 0 4.37 0a2.18 2.18 0 1 0 -4.37 0zM295.77 87.16a2.18 2.18 0 1 0 4.37 0a2.18 2.18 0 1 0 -4.37 0zM297.74 79.3a2.18 2.18 0 1 0 4.37 0a2.18 2.18 0 1 0 -4.37 0zM300.36 74.32a2.18 2.18 0 1 0 4.37 0a2.18 2.18 0 1 0 -4.37 0zM302.98 75.37a2.18 2.18 0 1 0 4.37 0a2.18 2.18 0 1 0 -4.37 0zM305.6 77.99a2.18 2.18 0 1 0 4.37 0a2.18 2.18 0 1 0 -4.37 0zM307.56 81.92a2.18 2.18 0 1 0 4.37 0a2.18 2.18 0 1 0 -4.37 0zM310.18 83.23a2.18 2.18 0 1 0 4.37 0a2.18 2.18 0 1 0 -4.37 0zM312.8 83.23a2.18 2.18 0 1 0 4.37 0a2.18 2.18 0 1 0 -4.37 0z" fill="#00f"/>
<path d="M43.82 76.21 46.56 71.43 48.35 63.68 50.74 53.54 52.88 42.8 55.27 31.83 57.3 22.53 59.68 17.75 62.07 17.16 64.45 21.93 67.2 32.07 68.99 46.98 71.25 63.08 73.4 81.57 75.79 101.26 76.67 101.59 78.16 119.01 80.4 132.4 82.63 140.29 85.01 140.29 87.24 133.6 89.03 128.38 91.26 123.92 93.94 121.69 96.18 125.41 98.41 127.34 100.49 118.41 102.88 103.52 106.93 96.8 109.08 86.07 111.1 72.94 112.65 65.19 114.09 55.65 116.47 52.66 118.86 51.47 120.65 61.02 123.03 65.19 125.42 71.75 127.21 79.5 129 82.49 130.79 86.07 132.93 88.45 134.96 92.03 136.75 100.38 139.14 103.36 141.17 103.28 141.52 105.15 143.91 106.34 144.67 106.2 146.29 108.13 147.59 107.96 148.08 113.5 150.47 115.89 151.68 109.12 152.86 117.68 155.18 110.29 158.69 109.71 161.61 107.37 164.53 101.53 167.45 100.95 170.36 99.78 173.87 96.86 175.65 89.7 178.03 80.15 180.42 80.15 182.21 72.4 184 65.84 185.79 59.87 187.22 54.5 188.77 63.45 190.56 68.22 192.35 71.21 194.38 72.99 196.52 76.57 198.31 72.99 200.1 81.34 203.07 86.93 204.82 92.77 207.15 94.53 207.62 95.68 210.16 96.67 212.41 98.03 212.86 100.26 215.33 100.95 215.74 102.23 217.66 102.7 218.1 103.54 220.98 107.47 223.34 106.16 225.7 98.95 228.58 92.4 230.55 91.75 232.51 93.71 234.87 91.09 237.1 85.85 239.32 75.37 241.68 80.61 244.3 82.58 246.92 79.3 248.89 74.06 250.59 66.86 252.82 74.06 255.44 77.99 257.4 81.92 259.76 74.32 261.96 78.65 264.55 81.92 267.17 85.85 270.45 79.3 272.41 83.23 275.03 85.85 277.65 88.47 280.93 89.78 283.55 95.02 286.17 95.68 288.79 95.68 291.41 93.71 293.37 95.02 295.99 97.64 297.96 93.71 300.19 89.13 302.54 85.2 304.51 87.82 307.13 89.13 309.75 83.23 311.98 75.37 314.33 80.61" fill="none" stroke="#f00" stroke-width="0.65" stroke-linejoin="round"/>
<path d="M43.82 73.3L46.46 78.19L41.17 78.19zM46.56 68.52L49.21 73.42L43.92 73.42zM48.35 60.77L51 65.66L45.71 65.66zM50.74 50.63L53.38 55.52L48.09 55.52zM52.88 39.89L55.53 44.79L50.24 44.79zM55.27 28.92L57.91 33.81L52.62 33.81zM57.3 19.62L59.94 24.51L54.65 24.51zM59.68 14.84L62.33 19.74L57.04 19.74zM62.07 14.25L64.71 19.14L59.42 19.14zM64.45 19.02L67.1 23.91L61.81 23.91zM67.2 29.16L69.84 34.05L64.55 34.05zM68.99 44.07L71.63 48.96L66.34 48.96zM71.25 60.17L73.9 65.07L68.61 65.07zM73.4 78.66L76.05 83.56L70.76 83.56zM75.79 98.35L78.43 103.24L73.14 103.24zM76.67 98.68L79.32 103.57L74.03 103.57zM78.16 116.1L80.81 120.99L75.52 120.99zM80.4 129.49L83.04 134.39L77.75 134.39zM82.63 137.39L85.27 142.28L79.98 142.28zM85.01 137.39L87.66 142.28L82.37 142.28zM87.24 130.69L89.89 135.58L84.6 135.58zM89.03 125.48L91.68 130.37L86.39 130.37zM91.26 121.01L93.91 125.9L88.62 125.9zM93.94 118.78L96.59 123.67L91.3 123.67zM96.18 122.5L98.82 127.39L93.53 127.39zM98.41 124.43L101.06 129.33L95.77 129.33zM100.49 115.5L103.14 120.39L97.85 120.39zM102.88 100.61L105.52 105.51L100.23 105.51zM104.9 97.25L107.55 102.15L102.26 102.15zM106.93 93.89L109.57 98.79L104.28 98.79zM109.08 83.16L111.72 88.05L106.43 88.05zM111.1 70.03L113.75 74.93L108.46 74.93zM112.65 62.28L115.3 67.17L110.01 67.17zM114.09 52.74L116.73 57.63L111.44 57.63zM116.47 49.76L119.12 54.65L113.83 54.65zM118.86 48.56L121.5 53.46L116.21 53.46zM120.65 58.11L123.29 63L118 63zM123.03 62.28L125.68 67.17L120.39 67.17zM125.42 68.84L128.06 73.73L122.77 73.73zM127.21 76.6L129.85 81.49L124.56 81.49zM129 79.58L131.64 84.47L126.35 84.47zM130.79 83.16L133.43 88.05L128.14 88.05zM132.93 85.54L135.58 90.44L130.29 90.44zM134.96 89.12L137.61 94.01L132.32 94.01zM136.75 97.47L139.4 102.36L134.11 102.36zM139.14 100.45L141.78 105.35L136.49 105.35zM141.17 100.38L143.81 105.27L138.52 105.27zM141.52 102.24L144.17 107.14L138.88 107.14zM143.91 103.44L146.55 108.33L141.26 108.33zM144.67 103.29L147.32 108.19L142.03 108.19zM146.29 105.22L148.94 110.12L143.65 110.12zM147.59 105.05L150.24 109.94L144.95 109.94zM148.08 110.59L150.73 115.49L145.44 115.49zM150.47 112.98L153.11 117.87L147.82 117.87zM151.68 106.21L154.32 111.11L149.03 111.11zM152.86 114.77L155.5 119.66L150.21 119.66zM155.18 107.38L157.83 112.28L152.54 112.28zM156.93 107.09L159.58 111.98L154.29 111.98zM158.69 106.8L161.33 111.69L156.04 111.69zM161.61 104.46L164.25 109.36L158.96 109.36zM164.53 98.62L167.17 103.52L161.88 103.52zM167.45 98.04L170.09 102.93L164.8 102.93zM170.36 96.87L173.01 101.76L167.72 101.76zM172.12 95.41L174.76 100.3L169.47 100.3zM173.87 93.95L176.51 98.85L171.22 98.85zM175.65 86.79L178.29 91.68L173 91.68zM178.03 77.24L180.68 82.14L175.39 82.14zM180.42 77.24L183.06 82.14L177.77 82.14zM182.21 69.49L184.85 74.38L179.56 74.38zM184 62.93L186.64 67.82L181.35 67.82zM185.79 56.96L188.43 61.86L183.14 61.86zM187.22 51.6L189.86 56.49L184.57 56.49zM188.77 60.54L191.41 65.44L186.12 65.44zM190.56 65.31L193.2 70.21L187.91 70.21zM192.35 68.3L194.99 73.19L189.7 73.19zM194.38 70.09L197.02 74.98L191.73 74.98zM196.52 73.66L199.17 78.56L193.88 78.56zM198.31 70.09L200.96 74.98L195.67 74.98zM200.1 78.44L202.75 83.33L197.46 83.33zM203.07 84.02L205.71 88.92L200.42 88.92zM204.82 89.86L207.46 94.76L202.17 94.76zM207.15 91.62L209.8 96.51L204.51 96.51zM207.62 92.77L210.27 97.66L204.98 97.66zM210.16 93.76L212.8 98.65L207.51 98.65zM212.41 95.12L215.05 100.01L209.76 100.01zM212.86 97.36L215.51 102.25L210.22 102.25zM215.33 98.04L217.97 102.93L212.68 102.93zM215.74 99.32L218.39 104.21L213.1 104.21zM217.66 99.79L220.31 104.68L215.02 104.68zM218.1 100.63L220.75 105.52L215.46 105.52zM220.98 104.56L223.63 109.45L218.34 109.45zM223.34 103.25L225.99 108.14L220.7 108.14zM225.7 96.05L228.34 100.94L223.05 100.94zM228.58 89.49L231.23 94.39L225.94 94.39zM230.55 88.84L233.19 93.73L227.9 93.73zM232.51 90.8L235.16 95.7L229.87 95.7zM234.87 88.18L237.52 93.08L232.23 93.08zM237.1 82.94L239.74 87.84L234.45 87.84zM239.32 72.46L241.97 77.36L236.68 77.36zM241.68 77.7L244.33 82.6L239.04 82.6zM244.3 79.67L246.95 84.56L241.66 84.56zM246.92 76.39L249.57 81.29L244.28 81.29zM248.89 71.15L251.53 76.05L246.24 76.05zM250.59 63.95L253.24 68.84L247.95 68.84zM252.82 71.15L255.46 76.05L250.17 76.05zM255.44 75.08L258.08 79.98L252.79 79.98zM257.4 79.01L260.05 83.91L254.76 83.91zM259.76 71.42L262.41 76.31L257.12 76.31zM261.96 75.74L264.6 80.63L259.31 80.63zM264.55 79.01L267.2 83.91L261.91 83.91zM267.17 82.94L269.82 87.84L264.53 87.84zM270.45 76.39L273.09 81.29L267.8 81.29zM272.41 80.32L275.06 85.22L269.77 85.22zM275.03 82.94L277.68 87.84L272.39 87.84zM277.65 85.56L280.3 90.46L275.01 90.46zM280.93 86.87L283.57 91.77L278.28 91.77zM283.55 92.11L286.19 97.01L280.9 97.01zM286.17 92.77L288.81 97.66L283.52 97.66zM288.79 92.77L291.43 97.66L286.14 97.66zM291.41 90.8L294.05 95.7L288.76 95.7zM293.37 92.11L296.02 97.01L290.73 97.01zM295.99 94.73L298.64 99.63L293.35 99.63zM297.96 90.8L300.6 95.7L295.31 95.7zM300.19 86.22L302.83 91.11L297.54 91.11zM302.54 82.29L305.19 87.18L299.9 87.18zM304.51 84.91L307.15 89.8L301.86 89.8zM307.13 86.22L309.77 91.11L304.48 91.11zM309.75 80.32L312.39 85.22L307.1 85.22zM311.98 72.46L314.62 77.36L309.33 77.36zM314.33 77.7L316.98 82.6L311.69 82.6z" fill="#f00"/>
<path d="M398.58 98.43 402.15 98.43 405.73 97.47 408.35 96.52 410.49 94.49 413.12 90.32 415.5 83.17 417.88 73.64 420.27 60.52 422.65 48.61 425.39 42.65 427.42 45.63 429.56 57.54 432.19 74.23 434.33 89.13 436.48 99.26 439.1 96.28 441.25 80.19 443.27 59.33 446.01 61.12 448.04 72.44 450.42 80.79 452.45 84.96 454.83 76.02 457.22 66.48 459.6 82.57 461.75 101.64 464.13 109.39 466.28 88.53 468.66 79.59 471.04 96.28 471.43 96.28 473.62 108.98 475.72 139.56 478.34 131.22 480.73 90.32 482.87 114.54 484.9 119.9 487.64 129.43 489.67 112.15 492.41 71.85 494.79 77.81 496.82 84.36 499.2 104.03 501.23 124.07 503.37 103.43 505.76 88.53 508.74 113.34 512.67 156.25 515.05 133.01 517.68 84.96 520.06 97.47 522.44 98.07 524.23 127.05 526.97 152.08 529.36 132.41 531.03 101.05 533.77 115.13 536.15 124.67 538.18 153.87 540.92 133.01 542.94 76.02 545.33 101.05 547.55 95.39 549.77 128.84 552.39 153.27 554.54 116.32 556.92 86.75 559.3 105.82 561.45 102.24 563.47 132.41 566.22 127.05 568.84 86.75 570.98 77.21 573.61 86.15 575.75 104.62 577.42 131.22 580.16 102.24 582.54 68.27 584.93 84.36 586.95 83.17 591.72 131.82 592.68 96.28 596.25 75.42 598.4 91.51 603.16 133.01 607.48 73.04 610.46 74.83 612.75 78.4 613.18 78.4 615.23 100.15 616.68 120.49 619.9 93.3 621.69 61.12 623.83 76.02 626.45 78.4 628.6 113.34 630.98 116.92 633.01 76.02 635.75 72.44 638.37 81.38 640.76 93.9 642.54 128.24 645.52 102.24 646.95 69.46 649.7 78.4 652.44 79.59 656.49 130.03 658.64 99.26 661.02 76.02 663.4 89.73 665.79 97.47 667.93 132.41 670.32 128.24 672.94 92.71 675.56 87.94" fill="none" stroke="#000" stroke-width="0.65" stroke-linejoin="round"/>
<path d="M396.88 96.73h3.4v3.4h-3.4zM398.66 96.73h3.4v3.4h-3.4zM400.45 96.73h3.4v3.4h-3.4zM402.24 96.25h3.4v3.4h-3.4zM404.03 95.77h3.4v3.4h-3.4zM406.65 94.82h3.4v3.4h-3.4zM408.79 92.79h3.4v3.4h-3.4zM411.42 88.62h3.4v3.4h-3.4zM413.8 81.47h3.4v3.4h-3.4zM416.18 71.94h3.4v3.4h-3.4zM418.57 58.82h3.4v3.4h-3.4zM420.95 46.91h3.4v3.4h-3.4zM423.69 40.95h3.4v3.4h-3.4zM425.72 43.93h3.4v3.4h-3.4zM427.86 55.84h3.4v3.4h-3.4zM430.49 72.53h3.4v3.4h-3.4zM432.63 87.43h3.4v3.4h-3.4zM434.78 97.56h3.4v3.4h-3.4zM437.4 94.58h3.4v3.4h-3.4zM439.55 78.49h3.4v3.4h-3.4zM441.57 57.63h3.4v3.4h-3.4zM444.31 59.42h3.4v3.4h-3.4zM446.34 70.74h3.4v3.4h-3.4zM448.72 79.09h3.4v3.4h-3.4zM450.75 83.26h3.4v3.4h-3.4zM453.13 74.32h3.4v3.4h-3.4zM455.52 64.78h3.4v3.4h-3.4zM457.9 80.87h3.4v3.4h-3.4zM460.05 99.94h3.4v3.4h-3.4zM462.43 107.69h3.4v3.4h-3.4zM464.58 86.83h3.4v3.4h-3.4zM466.96 77.89h3.4v3.4h-3.4zM469.34 94.58h3.4v3.4h-3.4zM469.73 94.58h3.4v3.4h-3.4zM471.92 107.28h3.4v3.4h-3.4zM474.02 137.86h3.4v3.4h-3.4zM476.64 129.52h3.4v3.4h-3.4zM479.03 88.62h3.4v3.4h-3.4zM481.17 112.84h3.4v3.4h-3.4zM483.2 118.2h3.4v3.4h-3.4zM485.94 127.73h3.4v3.4h-3.4zM487.97 110.45h3.4v3.4h-3.4zM490.71 70.15h3.4v3.4h-3.4zM493.09 76.11h3.4v3.4h-3.4zM495.12 82.66h3.4v3.4h-3.4zM497.5 102.33h3.4v3.4h-3.4zM499.53 122.37h3.4v3.4h-3.4zM501.67 101.73h3.4v3.4h-3.4zM504.06 86.83h3.4v3.4h-3.4zM507.04 111.64h3.4v3.4h-3.4zM509 133.1h3.4v3.4h-3.4zM510.97 154.55h3.4v3.4h-3.4zM513.35 131.31h3.4v3.4h-3.4zM515.98 83.26h3.4v3.4h-3.4zM518.36 95.77h3.4v3.4h-3.4zM520.74 96.37h3.4v3.4h-3.4zM522.53 125.35h3.4v3.4h-3.4zM525.27 150.38h3.4v3.4h-3.4zM527.66 130.71h3.4v3.4h-3.4zM529.33 99.35h3.4v3.4h-3.4zM532.07 113.43h3.4v3.4h-3.4zM534.45 122.97h3.4v3.4h-3.4zM536.48 152.17h3.4v3.4h-3.4zM539.22 131.31h3.4v3.4h-3.4zM541.24 74.32h3.4v3.4h-3.4zM543.63 99.35h3.4v3.4h-3.4zM545.85 93.69h3.4v3.4h-3.4zM548.07 127.14h3.4v3.4h-3.4zM550.69 151.57h3.4v3.4h-3.4zM552.84 114.62h3.4v3.4h-3.4zM555.22 85.05h3.4v3.4h-3.4zM557.6 104.12h3.4v3.4h-3.4zM559.75 100.54h3.4v3.4h-3.4zM561.77 130.71h3.4v3.4h-3.4zM564.52 125.35h3.4v3.4h-3.4zM567.14 85.05h3.4v3.4h-3.4zM569.28 75.51h3.4v3.4h-3.4zM571.91 84.45h3.4v3.4h-3.4zM574.05 102.92h3.4v3.4h-3.4zM575.72 129.52h3.4v3.4h-3.4zM578.46 100.54h3.4v3.4h-3.4zM580.84 66.57h3.4v3.4h-3.4zM583.23 82.66h3.4v3.4h-3.4zM585.25 81.47h3.4v3.4h-3.4zM587.64 105.79h3.4v3.4h-3.4zM590.02 130.12h3.4v3.4h-3.4zM590.98 94.58h3.4v3.4h-3.4zM592.76 84.15h3.4v3.4h-3.4zM594.55 73.72h3.4v3.4h-3.4zM596.7 89.81h3.4v3.4h-3.4zM599.08 110.56h3.4v3.4h-3.4zM601.46 131.31h3.4v3.4h-3.4zM603.62 101.32h3.4v3.4h-3.4zM605.78 71.34h3.4v3.4h-3.4zM608.76 73.13h3.4v3.4h-3.4zM611.05 76.7h3.4v3.4h-3.4zM611.48 76.7h3.4v3.4h-3.4zM613.53 98.45h3.4v3.4h-3.4zM614.98 118.79h3.4v3.4h-3.4zM618.2 91.6h3.4v3.4h-3.4zM619.99 59.42h3.4v3.4h-3.4zM622.13 74.32h3.4v3.4h-3.4zM624.75 76.7h3.4v3.4h-3.4zM626.9 111.64h3.4v3.4h-3.4zM629.28 115.22h3.4v3.4h-3.4zM631.31 74.32h3.4v3.4h-3.4zM634.05 70.74h3.4v3.4h-3.4zM636.67 79.68h3.4v3.4h-3.4zM639.06 92.2h3.4v3.4h-3.4zM640.84 126.54h3.4v3.4h-3.4zM643.82 100.54h3.4v3.4h-3.4zM645.25 67.76h3.4v3.4h-3.4zM648 76.7h3.4v3.4h-3.4zM650.74 77.89h3.4v3.4h-3.4zM652.76 103.11h3.4v3.4h-3.4zM654.79 128.33h3.4v3.4h-3.4zM656.94 97.56h3.4v3.4h-3.4zM659.32 74.32h3.4v3.4h-3.4zM661.7 88.03h3.4v3.4h-3.4zM664.09 95.77h3.4v3.4h-3.4zM666.23 130.71h3.4v3.4h-3.4zM668.62 126.54h3.4v3.4h-3.4zM671.24 91.01h3.4v3.4h-3.4zM673.86 86.24h3.4v3.4h-3.4z" fill="#000"/>
<path d="M399.17 83.17 401.2 75.42 403.34 65.89 405.73 56.35 408.11 51.59 411.09 52.18 413.12 59.33 415.5 70.06 417.88 84.96 420.03 101.05 422.41 118.34 424.8 137.41 427.18 157.44 429.33 176.15 431.95 191.64 434.09 201.18 436.48 205.35 438.86 200.58 441.25 183.3 443.27 169.59 445.66 170.19 447.68 173.77 450.07 172.93 452.45 178.18 454.59 188.07 457.22 195.82 459.6 181.51 461.98 176.15 464.37 188.67 466.51 200.35 468.9 194.62 470 150.29 471.28 150.52 473.58 92.11 475.72 71.25 478.1 60.52 480.73 53.97 482.87 61.12 485.26 68.27 487.64 58.74 489.67 66.48 492.05 81.38 494.43 102.24 496.22 116.92 499.2 120.49 501.59 122.28 503.61 107.6 505.76 100.45 508.38 123.47 510.76 137.42 515.29 97.47 517.68 76.02 520.06 65.89 522.21 53.97 524.59 24.53 526.97 33.11 529 56.35 531.03 70.66 534.36 70.66 536.15 43.24 538.18 33.71 540.92 55.16 542.94 78.4 545.33 80.79 547.62 61.12 548.07 61.12 549.77 40.26 552.39 31.92 554.77 55.16 556.92 76.02 559.06 87.94 561.45 73.04 563.83 53.97 566.22 61.12 568.24 85.55 570.63 130.03 573.37 126.45 575.75 117.51 577.42 108.58 579.56 122.88 582.54 161.62 584.57 178.3 586.72 140.76 589.34 119.9 591.48 140.16 593.87 156.85 596.25 170.55 598.64 144.93 600.42 87.94 603.4 90.32 606.03 101.05 606.98 122.28 607.38 122.28 609.98 131.22 612.34 118.11 612.75 117.51 614.93 109.65 617.13 113.76 619.52 143.74 621.78 177.71 623.83 192.01 626.22 177.11 628.6 152.08 630.98 146.72 633.37 157.44 635.75 175.32 638.13 173.53 640.16 159.83 642.54 142.54 644.93 137.78 646.95 156.25 649.34 168.77 652.08 140.16 654.11 109.77 656.49 118.11 658.87 122.88 660.78 150.29 663.16 153.87 665.79 126.45 668.17 90.92 670.32 87.34 672.7 96.28 675.32 112.37" fill="none" stroke="#00f" stroke-width="0.65" stroke-linejoin="round"/>
<path d="M397.27 83.17a1.9 1.9 0 1 0 3.8 0a1.9 1.9 0 1 0 -3.8 0zM399.3 75.42a1.9 1.9 0 1 0 3.8 0a1.9 1.9 0 1 0 -3.8 0zM401.44 65.89a1.9 1.9 0 1 0 3.8 0a1.9 1.9 0 1 0 -3.8 0zM403.83 56.35a1.9 1.9 0 1 0 3.8 0a1.9 1.9 0 1 0 -3.8 0zM406.21 51.59a1.9 1.9 0 1 0 3.8 0a1.9 1.9 0 1 0 -3.8 0zM409.19 52.18a1.9 1.9 0 1 0 3.8 0a1.9 1.9 0 1 0 -3.8 0zM411.22 59.33a1.9 1.9 0 1 0 3.8 0a1.9 1.9 0 1 0 -3.8 0zM413.6 70.06a1.9 1.9 0 1 0 3.8 0a1.9 1.9 0 1 0 -3.8 0zM415.98 84.96a1.9 1.9 0 1 0 3.8 0a1.9 1.9 0 1 0 -3.8 0zM418.13 101.05a1.9 1.9 0 1 0 3.8 0a1.9 1.9 0 1 0 -3.8 0zM420.51 118.34a1.9 1.9 0 1 0 3.8 0a1.9 1.9 0 1 0 -3.8 0zM422.9 137.41a1.9 1.9 0 1 0 3.8 0a1.9 1.9 0 1 0 -3.8 0zM425.28 157.44a1.9 1.9 0 1 0 3.8 0a1.9 1.9 0 1 0 -3.8 0zM427.43 176.15a1.9 1.9 0 1 0 3.8 0a1.9 1.9 0 1 0 -3.8 0zM430.05 191.64a1.9 1.9 0 1 0 3.8 0a1.9 1.9 0 1 0 -3.8 0zM432.19 201.18a1.9 1.9 0 1 0 3.8 0a1.9 1.9 0 1 0 -3.8 0zM434.58 205.35a1.9 1.9 0 1 0 3.8 0a1.9 1.9 0 1 0 -3.8 0zM436.96 200.58a1.9 1.9 0 1 0 3.8 0a1.9 1.9 0 1 0 -3.8 0zM439.35 183.3a1.9 1.9 0 1 0 3.8 0a1.9 1.9 0 1 0 -3.8 0zM441.37 169.59a1.9 1.9 0 1 0 3.8 0a1.9 1.9 0 1 0 -3.8 0zM443.76 170.19a1.9 1.9 0 1 0 3.8 0a1.9 1.9 0 1 0 -3.8 0zM445.78 173.77a1.9 1.9 0 1 0 3.8 0a1.9 1.9 0 1 0 -3.8 0zM448.17 172.93a1.9 1.9 0 1 0 3.8 0a1.9 1.9 0 1 0 -3.8 0zM450.55 178.18a1.9 1.9 0 1 0 3.8 0a1.9 1.9 0 1 0 -3.8 0zM452.69 188.07a1.9 1.9 0 1 0 3.8 0a1.9 1.9 0 1 0 -3.8 0zM455.32 195.82a1.9 1.9 0 1 0 3.8 0a1.9 1.9 0 1 0 -3.8 0zM457.7 181.51a1.9 1.9 0 1 0 3.8 0a1.9 1.9 0 1 0 -3.8 0zM460.08 176.15a1.9 1.9 0 1 0 3.8 0a1.9 1.9 0 1 0 -3.8 0zM462.47 188.67a1.9 1.9 0 1 0 3.8 0a1.9 1.9 0 1 0 -3.8 0zM464.61 200.35a1.9 1.9 0 1 0 3.8 0a1.9 1.9 0 1 0 -3.8 0zM467 194.62a1.9 1.9 0 1 0 3.8 0a1.9 1.9 0 1 0 -3.8 0zM468.1 150.29a1.9 1.9 0 1 0 3.8 0a1.9 1.9 0 1 0 -3.8 0zM469.38 150.52a1.9 1.9 0 1 0 3.8 0a1.9 1.9 0 1 0 -3.8 0zM471.68 92.11a1.9 1.9 0 1 0 3.8 0a1.9 1.9 0 1 0 -3.8 0zM473.82 71.25a1.9 1.9 0 1 0 3.8 0a1.9 1.9 0 1 0 -3.8 0zM476.2 60.52a1.9 1.9 0 1 0 3.8 0a1.9 1.9 0 1 0 -3.8 0zM478.83 53.97a1.9 1.9 0 1 0 3.8 0a1.9 1.9 0 1 0 -3.8 0zM480.97 61.12a1.9 1.9 0 1 0 3.8 0a1.9 1.9 0 1 0 -3.8 0zM483.36 68.27a1.9 1.9 0 1 0 3.8 0a1.9 1.9 0 1 0 -3.8 0zM485.74 58.74a1.9 1.9 0 1 0 3.8 0a1.9 1.9 0 1 0 -3.8 0zM487.77 66.48a1.9 1.9 0 1 0 3.8 0a1.9 1.9 0 1 0 -3.8 0zM490.15 81.38a1.9 1.9 0 1 0 3.8 0a1.9 1.9 0 1 0 -3.8 0zM492.53 102.24a1.9 1.9 0 1 0 3.8 0a1.9 1.9 0 1 0 -3.8 0zM494.32 116.92a1.9 1.9 0 1 0 3.8 0a1.9 1.9 0 1 0 -3.8 0zM497.3 120.49a1.9 1.9 0 1 0 3.8 0a1.9 1.9 0 1 0 -3.8 0zM499.69 122.28a1.9 1.9 0 1 0 3.8 0a1.9 1.9 0 1 0 -3.8 0zM501.71 107.6a1.9 1.9 0 1 0 3.8 0a1.9 1.9 0 1 0 -3.8 0zM503.86 100.45a1.9 1.9 0 1 0 3.8 0a1.9 1.9 0 1 0 -3.8 0zM506.48 123.47a1.9 1.9 0 1 0 3.8 0a1.9 1.9 0 1 0 -3.8 0zM508.86 137.42a1.9 1.9 0 1 0 3.8 0a1.9 1.9 0 1 0 -3.8 0zM511.13 117.45a1.9 1.9 0 1 0 3.8 0a1.9 1.9 0 1 0 -3.8 0zM513.39 97.47a1.9 1.9 0 1 0 3.8 0a1.9 1.9 0 1 0 -3.8 0zM515.78 76.02a1.9 1.9 0 1 0 3.8 0a1.9 1.9 0 1 0 -3.8 0zM518.16 65.89a1.9 1.9 0 1 0 3.8 0a1.9 1.9 0 1 0 -3.8 0zM520.31 53.97a1.9 1.9 0 1 0 3.8 0a1.9 1.9 0 1 0 -3.8 0zM522.69 24.53a1.9 1.9 0 1 0 3.8 0a1.9 1.9 0 1 0 -3.8 0zM525.07 33.11a1.9 1.9 0 1 0 3.8 0a1.9 1.9 0 1 0 -3.8 0zM527.1 56.35a1.9 1.9 0 1 0 3.8 0a1.9 1.9 0 1 0 -3.8 0zM529.13 70.66a1.9 1.9 0 1 0 3.8 0a1.9 1.9 0 1 0 -3.8 0zM532.46 70.66a1.9 1.9 0 1 0 3.8 0a1.9 1.9 0 1 0 -3.8 0zM534.25 43.24a1.9 1.9 0 1 0 3.8 0a1.9 1.9 0 1 0 -3.8 0zM536.28 33.71a1.9 1.9 0 1 0 3.8 0a1.9 1.9 0 1 0 -3.8 0zM539.02 55.16a1.9 1.9 0 1 0 3.8 0a1.9 1.9 0 1 0 -3.8 0zM541.04 78.4a1.9 1.9 0 1 0 3.8 0a1.9 1.9 0 1 0 -3.8 0zM543.43 80.79a1.9 1.9 0 1 0 3.8 0a1.9 1.9 0 1 0 -3.8 0zM545.72 61.12a1.9 1.9 0 1 0 3.8 0a1.9 1.9 0 1 0 -3.8 0zM546.17 61.12a1.9 1.9 0 1 0 3.8 0a1.9 1.9 0 1 0 -3.8 0zM547.87 40.26a1.9 1.9 0 1 0 3.8 0a1.9 1.9 0 1 0 -3.8 0zM550.49 31.92a1.9 1.9 0 1 0 3.8 0a1.9 1.9 0 1 0 -3.8 0zM552.87 55.16a1.9 1.9 0 1 0 3.8 0a1.9 1.9 0 1 0 -3.8 0zM555.02 76.02a1.9 1.9 0 1 0 3.8 0a1.9 1.9 0 1 0 -3.8 0zM557.16 87.94a1.9 1.9 0 1 0 3.8 0a1.9 1.9 0 1 0 -3.8 0zM559.55 73.04a1.9 1.9 0 1 0 3.8 0a1.9 1.9 0 1 0 -3.8 0zM561.93 53.97a1.9 1.9 0 1 0 3.8 0a1.9 1.9 0 1 0 -3.8 0zM564.32 61.12a1.9 1.9 0 1 0 3.8 0a1.9 1.9 0 1 0 -3.8 0zM566.34 85.55a1.9 1.9 0 1 0 3.8 0a1.9 1.9 0 1 0 -3.8 0zM568.73 130.03a1.9 1.9 0 1 0 3.8 0a1.9 1.9 0 1 0 -3.8 0zM571.47 126.45a1.9 1.9 0 1 0 3.8 0a1.9 1.9 0 1 0 -3.8 0zM573.85 117.51a1.9 1.9 0 1 0 3.8 0a1.9 1.9 0 1 0 -3.8 0zM575.52 108.58a1.9 1.9 0 1 0 3.8 0a1.9 1.9 0 1 0 -3.8 0zM577.66 122.88a1.9 1.9 0 1 0 3.8 0a1.9 1.9 0 1 0 -3.8 0zM580.64 161.62a1.9 1.9 0 1 0 3.8 0a1.9 1.9 0 1 0 -3.8 0zM582.67 178.3a1.9 1.9 0 1 0 3.8 0a1.9 1.9 0 1 0 -3.8 0zM584.82 140.76a1.9 1.9 0 1 0 3.8 0a1.9 1.9 0 1 0 -3.8 0zM587.44 119.9a1.9 1.9 0 1 0 3.8 0a1.9 1.9 0 1 0 -3.8 0zM589.58 140.16a1.9 1.9 0 1 0 3.8 0a1.9 1.9 0 1 0 -3.8 0zM591.97 156.85a1.9 1.9 0 1 0 3.8 0a1.9 1.9 0 1 0 -3.8 0zM594.35 170.55a1.9 1.9 0 1 0 3.8 0a1.9 1.9 0 1 0 -3.8 0zM596.74 144.93a1.9 1.9 0 1 0 3.8 0a1.9 1.9 0 1 0 -3.8 0zM598.52 87.94a1.9 1.9 0 1 0 3.8 0a1.9 1.9 0 1 0 -3.8 0zM601.5 90.32a1.9 1.9 0 1 0 3.8 0a1.9 1.9 0 1 0 -3.8 0zM604.13 101.05a1.9 1.9 0 1 0 3.8 0a1.9 1.9 0 1 0 -3.8 0zM605.08 122.28a1.9 1.9 0 1 0 3.8 0a1.9 1.9 0 1 0 -3.8 0zM605.48 122.28a1.9 1.9 0 1 0 3.8 0a1.9 1.9 0 1 0 -3.8 0zM608.08 131.22a1.9 1.9 0 1 0 3.8 0a1.9 1.9 0 1 0 -3.8 0zM610.44 118.11a1.9 1.9 0 1 0 3.8 0a1.9 1.9 0 1 0 -3.8 0zM610.85 117.51a1.9 1.9 0 1 0 3.8 0a1.9 1.9 0 1 0 -3.8 0zM613.03 109.65a1.9 1.9 0 1 0 3.8 0a1.9 1.9 0 1 0 -3.8 0zM615.23 113.76a1.9 1.9 0 1 0 3.8 0a1.9 1.9 0 1 0 -3.8 0zM617.62 143.74a1.9 1.9 0 1 0 3.8 0a1.9 1.9 0 1 0 -3.8 0zM619.88 177.71a1.9 1.9 0 1 0 3.8 0a1.9 1.9 0 1 0 -3.8 0zM621.93 192.01a1.9 1.9 0 1 0 3.8 0a1.9 1.9 0 1 0 -3.8 0zM624.32 177.11a1.9 1.9 0 1 0 3.8 0a1.9 1.9 0 1 0 -3.8 0zM626.7 152.08a1.9 1.9 0 1 0 3.8 0a1.9 1.9 0 1 0 -3.8 0zM629.08 146.72a1.9 1.9 0 1 0 3.8 0a1.9 1.9 0 1 0 -3.8 0zM631.47 157.44a1.9 1.9 0 1 0 3.8 0a1.9 1.9 0 1 0 -3.8 0zM633.85 175.32a1.9 1.9 0 1 0 3.8 0a1.9 1.9 0 1 0 -3.8 0zM636.23 173.53a1.9 1.9 0 1 0 3.8 0a1.9 1.9 0 1 0 -3.8 0zM638.26 159.83a1.9 1.9 0 1 0 3.8 0a1.9 1.9 0 1 0 -3.8 0zM640.64 142.54a1.9 1.9 0 1 0 3.8 0a1.9 1.9 0 1 0 -3.8 0zM643.03 137.78a1.9 1.9 0 1 0 3.8 0a1.9 1.9 0 1 0 -3.8 0zM645.05 156.25a1.9 1.9 0 1 0 3.8 0a1.9 1.9 0 1 0 -3.8 0zM647.44 168.77a1.9 1.9 0 1 0 3.8 0a1.9 1.9 0 1 0 -3.8 0zM650.18 140.16a1.9 1.9 0 1 0 3.8 0a1.9 1.9 0 1 0 -3.8 0zM652.21 109.77a1.9 1.9 0 1 0 3.8 0a1.9 1.9 0 1 0 -3.8 0zM654.59 118.11a1.9 1.9 0 1 0 3.8 0a1.9 1.9 0 1 0 -3.8 0zM656.97 122.88a1.9 1.9 0 1 0 3.8 0a1.9 1.9 0 1 0 -3.8 0zM658.88 150.29a1.9 1.9 0 1 0 3.8 0a1.9 1.9 0 1 0 -3.8 0zM661.26 153.87a1.9 1.9 0 1 0 3.8 0a1.9 1.9 0 1 0 -3.8 0zM663.89 126.45a1.9 1.9 0 1 0 3.8 0a1.9 1.9 0 1 0 -3.8 0zM666.27 90.92a1.9 1.9 0 1 0 3.8 0a1.9 1.9 0 1 0 -3.8 0zM668.42 87.34a1.9 1.9 0 1 0 3.8 0a1.9 1.9 0 1 0 -3.8 0zM670.8 96.28a1.9 1.9 0 1 0 3.8 0a1.9 1.9 0 1 0 -3.8 0zM673.42 112.37a1.9 1.9 0 1 0 3.8 0a1.9 1.9 0 1 0 -3.8 0z" fill="#00f"/>
<path d="M399.17 83.77 401.56 78.4 403.94 71.85 406.32 61.12 408.35 49.56 410.49 39.07 412.88 30.13 415.26 25.36 417.65 25.36 420.03 31.92 422.65 44.43 424.8 60.52 426.94 79 429.56 101.05 431.95 124.3 434.09 144.56 436.48 158.87 438.86 163.64 441.25 157.68 443.27 145.76 445.66 141.59 448.04 135.63 450.42 139.2 452.81 150.52 454.95 154.1 457.22 141.59 459.6 121.92 461.98 127.88 464.73 125.49 468.9 74.23 471.28 57.54 472.38 56.95 473.67 56.95 474.17 57.54 475.72 45.03 478.1 61.12 480.49 63.5 482.87 65.89 484.9 79.59 487.64 84.36 493.84 108.58 496.22 113.94 498.61 122.28 501.23 119.3 503.97 116.32 505.76 127.05 508.14 131.22 510.52 134.8 512.67 118.71 515.05 123.47 517.44 132.41 519.82 135.39 522.21 127.05 524.59 104.62 526.97 118.71 529.36 116.92 531.74 115.73 533.77 95.69 535.79 82.57 538.18 89.13 540.56 73.64 542.71 68.27 545.33 52.18 551.91 83.17 554.54 83.17 556.92 72.44 559.06 90.32 561.69 94.49 564.07 103.43 566.69 98.67 570.03 109.77 573.01 112.75 575.39 116.92 577.78 113.94 580.52 123.47 582.9 122.88 584.93 112.75 587.31 107.38 589.7 110.36 592.08 113.94 594.11 109.77 596.01 93.9 598.4 79.59 601.02 92.71 603.4 96.28 606.03 93.9 607.38 76.02 607.93 73.64 610.16 67.97 612.37 85.55 614.77 90.92 615.32 92.71 617.16 93.9 619.3 75.42 621.69 84.96 623.83 95.09 626.22 99.26 628.6 91.51 630.98 81.98 633.37 99.86 635.75 101.05 638.13 102.84 640.52 92.71 642.54 101.05 644.93 109.39 647.31 111.78 649.7 107.6 652.08 99.26 654.46 109.39 656.85 115.95 659.23 110.58 661.26 91.51 663.4 94.49 665.79 101.05 668.17 108.8 670.32 98.67 672.7 80.79 675.08 96.28" fill="none" stroke="#f00" stroke-width="0.65" stroke-linejoin="round"/>
<path d="M399.17 81.24L401.47 85.49L396.87 85.49zM401.56 75.87L403.86 80.13L399.26 80.13zM403.94 69.32L406.24 73.57L401.64 73.57zM406.32 58.59L408.62 62.85L404.02 62.85zM408.35 47.03L410.65 51.28L406.05 51.28zM410.49 36.54L412.79 40.8L408.19 40.8zM412.88 27.6L415.18 31.86L410.58 31.86zM415.26 22.83L417.56 27.09L412.96 27.09zM417.65 22.83L419.95 27.09L415.35 27.09zM420.03 29.39L422.33 33.64L417.73 33.64zM422.65 41.9L424.95 46.16L420.35 46.16zM424.8 57.99L427.1 62.25L422.5 62.25zM426.94 76.47L429.24 80.72L424.64 80.72zM429.56 98.52L431.86 102.77L427.26 102.77zM431.95 121.77L434.25 126.03L429.65 126.03zM434.09 142.03L436.39 146.29L431.79 146.29zM436.48 156.34L438.78 160.59L434.18 160.59zM438.86 161.11L441.16 165.36L436.56 165.36zM441.25 155.15L443.55 159.4L438.95 159.4zM443.27 143.23L445.57 147.48L440.97 147.48zM445.66 139.06L447.96 143.31L443.36 143.31zM448.04 133.1L450.34 137.35L445.74 137.35zM450.42 136.67L452.72 140.93L448.12 140.93zM452.81 147.99L455.11 152.25L450.51 152.25zM454.95 151.57L457.25 155.83L452.65 155.83zM457.22 139.06L459.52 143.31L454.92 143.31zM459.6 119.39L461.9 123.64L457.3 123.64zM461.98 125.35L464.28 129.6L459.68 129.6zM464.73 122.96L467.03 127.22L462.43 127.22zM466.81 97.33L469.11 101.59L464.51 101.59zM468.9 71.7L471.2 75.96L466.6 75.96zM471.28 55.01L473.58 59.27L468.98 59.27zM472.38 54.42L474.68 58.67L470.08 58.67zM473.67 54.42L475.97 58.67L471.37 58.67zM474.17 55.01L476.47 59.27L471.87 59.27zM475.72 42.5L478.02 46.75L473.42 46.75zM478.1 58.59L480.4 62.85L475.8 62.85zM480.49 60.97L482.79 65.23L478.19 65.23zM482.87 63.36L485.17 67.61L480.57 67.61zM484.9 77.06L487.2 81.32L482.6 81.32zM487.64 81.83L489.94 86.09L485.34 86.09zM489.71 89.9L492.01 94.16L487.41 94.16zM491.77 97.97L494.07 102.23L489.47 102.23zM493.84 106.05L496.14 110.3L491.54 110.3zM496.22 111.41L498.52 115.66L493.92 115.66zM498.61 119.75L500.91 124.01L496.31 124.01zM501.23 116.77L503.53 121.03L498.93 121.03zM503.97 113.79L506.27 118.05L501.67 118.05zM505.76 124.52L508.06 128.78L503.46 128.78zM508.14 128.69L510.44 132.95L505.84 132.95zM510.52 132.27L512.82 136.52L508.22 136.52zM512.67 116.18L514.97 120.43L510.37 120.43zM515.05 120.94L517.35 125.2L512.75 125.2zM517.44 129.88L519.74 134.14L515.14 134.14zM519.82 132.86L522.12 137.12L517.52 137.12zM522.21 124.52L524.51 128.78L519.91 128.78zM524.59 102.09L526.89 106.35L522.29 106.35zM526.97 116.18L529.27 120.43L524.67 120.43zM529.36 114.39L531.66 118.64L527.06 118.64zM531.74 113.2L534.04 117.45L529.44 117.45zM533.77 93.16L536.07 97.41L531.47 97.41zM535.79 80.04L538.09 84.3L533.49 84.3zM538.18 86.6L540.48 90.85L535.88 90.85zM540.56 71.11L542.86 75.36L538.26 75.36zM542.71 65.74L545.01 70L540.41 70zM545.33 49.65L547.63 53.91L543.03 53.91zM547.52 59.98L549.82 64.24L545.22 64.24zM549.72 70.31L552.02 74.57L547.42 74.57zM551.91 80.64L554.21 84.9L549.61 84.9zM554.54 80.64L556.84 84.9L552.24 84.9zM556.92 69.91L559.22 74.17L554.62 74.17zM559.06 87.79L561.36 92.05L556.76 92.05zM561.69 91.96L563.99 96.22L559.39 96.22zM564.07 100.9L566.37 105.16L561.77 105.16zM566.69 96.14L568.99 100.39L564.39 100.39zM570.03 107.24L572.33 111.49L567.73 111.49zM573.01 110.22L575.31 114.47L570.71 114.47zM575.39 114.39L577.69 118.64L573.09 118.64zM577.78 111.41L580.08 115.66L575.48 115.66zM580.52 120.94L582.82 125.2L578.22 125.2zM582.9 120.35L585.2 124.6L580.6 124.6zM584.93 110.22L587.23 114.47L582.63 114.47zM587.31 104.85L589.61 109.11L585.01 109.11zM589.7 107.83L592 112.09L587.4 112.09zM592.08 111.41L594.38 115.66L589.78 115.66zM594.11 107.24L596.41 111.49L591.81 111.49zM596.01 91.37L598.31 95.62L593.71 95.62zM598.4 77.06L600.7 81.32L596.1 81.32zM601.02 90.18L603.32 94.43L598.72 94.43zM603.4 93.75L605.7 98.01L601.1 98.01zM606.03 91.37L608.33 95.62L603.73 95.62zM607.38 73.49L609.68 77.74L605.08 77.74zM607.93 71.11L610.23 75.36L605.63 75.36zM610.16 65.44L612.46 69.7L607.86 69.7zM612.37 83.02L614.67 87.28L610.07 87.28zM614.77 88.39L617.07 92.64L612.47 92.64zM615.32 90.18L617.62 94.43L613.02 94.43zM617.16 91.37L619.46 95.62L614.86 95.62zM619.3 72.89L621.6 77.15L617 77.15zM621.69 82.43L623.99 86.68L619.39 86.68zM623.83 92.56L626.13 96.81L621.53 96.81zM626.22 96.73L628.52 100.99L623.92 100.99zM628.6 88.98L630.9 93.24L626.3 93.24zM630.98 79.45L633.28 83.7L628.68 83.7zM633.37 97.33L635.67 101.58L631.07 101.58zM635.75 98.52L638.05 102.77L633.45 102.77zM638.13 100.31L640.43 104.56L635.83 104.56zM640.52 90.18L642.82 94.43L638.22 94.43zM642.54 98.52L644.84 102.77L640.24 102.77zM644.93 106.86L647.23 111.12L642.63 111.12zM647.31 109.25L649.61 113.5L645.01 113.5zM649.7 105.07L652 109.33L647.4 109.33zM652.08 96.73L654.38 100.99L649.78 100.99zM654.46 106.86L656.76 111.12L652.16 111.12zM656.85 113.42L659.15 117.67L654.55 117.67zM659.23 108.05L661.53 112.31L656.93 112.31zM661.26 88.98L663.56 93.24L658.96 93.24zM663.4 91.96L665.7 96.22L661.1 96.22zM665.79 98.52L668.09 102.77L663.49 102.77zM668.17 106.27L670.47 110.52L665.87 110.52zM670.32 96.14L672.62 100.39L668.02 100.39zM672.7 78.26L675 82.51L670.4 82.51zM675.08 93.75L677.38 98.01L672.78 98.01z" fill="#f00"/>
<path d="M35.98 388.43 38.96 388.43 41.94 388.07 44.92 386.88 48.49 384.49 51.47 380.92 53.5 374.36 55.65 364.83 58.03 352.91 60.18 342.78 62.56 338.61 65.18 342.18 67.56 354.34 70.19 369 71.74 382.11 74.12 389.26 77.1 384.49 79.25 368.4 81.27 351.48 83.66 358.27 86.4 369 88.42 374.36 90.81 374.36 92.83 362.44 95.22 355.89 97.96 378.89 100.34 395.22 102.49 400.58 104.87 376.15 107.49 362.44 109.36 388.96 111.58 399.77 114.2 427.18 116.58 416.45 118.73 381.51 121.11 411.09 123.49 411.09 126.12 418.24 128.26 397.38 130.65 360.06 133.03 369.59 135.65 375.32 137.8 392.24 140.18 409.9 144.95 375.55 149.48 419.43 151.86 444.46 154.25 422.41 156.27 370.19 158.66 388.07 161.04 389.26 163.42 415.26 165.45 440.05 168.19 417.05 170.57 381.51 172.96 408.71 175.34 414.07 177.37 445.06 179.87 423.37 182.49 360.06 184.28 388.67 187.77 386.28 189.2 416.45 191.58 441.25 193.73 403.1 196.11 368.4 198.49 399.39 200.88 392.84 203.26 420.63 205.65 416.45 208.03 370.19 210.41 363.64 212.8 382.11 217.56 424.2 219.95 392.24 222.09 351.72 224.48 374.96 226.86 375.55 229.48 409.9 231.63 423.37 233.66 383.3 236.04 359.11 238.42 385.09 240.81 389.26 243.19 425.39 245.57 412.88 247.96 358.87 249.98 365.42 252.13 373.17 257.14 413.47 259.28 382.71 261.92 345.76 264.3 368.4 267.28 371.98 269.07 393.43 271.22 408.11 273.24 362.44 276.22 360.3 278.61 375.55 280.75 387.47 283.13 420.63 285.52 399.99 287.9 354.7 290.29 368.4 292.31 373.17 294.7 393.43 297.08 422.41 299.46 386.88 301.85 360.3 304.23 381.51 306.62 387.47 308.4 423.61 311.38 419.43 313.77 370.19 316.51 376.75" fill="none" stroke="#000" stroke-width="0.65" stroke-linejoin="round"/>
<path d="M34.28 386.73h3.4v3.4h-3.4zM37.26 386.73h3.4v3.4h-3.4zM40.24 386.37h3.4v3.4h-3.4zM43.22 385.18h3.4v3.4h-3.4zM45.01 383.99h3.4v3.4h-3.4zM46.79 382.79h3.4v3.4h-3.4zM49.77 379.22h3.4v3.4h-3.4zM51.8 372.66h3.4v3.4h-3.4zM53.95 363.13h3.4v3.4h-3.4zM56.33 351.21h3.4v3.4h-3.4zM58.48 341.08h3.4v3.4h-3.4zM60.86 336.91h3.4v3.4h-3.4zM63.48 340.48h3.4v3.4h-3.4zM65.86 352.64h3.4v3.4h-3.4zM68.49 367.3h3.4v3.4h-3.4zM70.04 380.41h3.4v3.4h-3.4zM72.42 387.56h3.4v3.4h-3.4zM75.4 382.79h3.4v3.4h-3.4zM77.55 366.7h3.4v3.4h-3.4zM79.57 349.78h3.4v3.4h-3.4zM81.96 356.57h3.4v3.4h-3.4zM84.7 367.3h3.4v3.4h-3.4zM86.72 372.66h3.4v3.4h-3.4zM89.11 372.66h3.4v3.4h-3.4zM91.13 360.74h3.4v3.4h-3.4zM93.52 354.19h3.4v3.4h-3.4zM96.26 377.19h3.4v3.4h-3.4zM98.64 393.52h3.4v3.4h-3.4zM100.79 398.88h3.4v3.4h-3.4zM103.17 374.45h3.4v3.4h-3.4zM105.79 360.74h3.4v3.4h-3.4zM107.66 387.26h3.4v3.4h-3.4zM109.88 398.07h3.4v3.4h-3.4zM112.5 425.48h3.4v3.4h-3.4zM114.88 414.75h3.4v3.4h-3.4zM117.03 379.81h3.4v3.4h-3.4zM119.41 409.39h3.4v3.4h-3.4zM121.79 409.39h3.4v3.4h-3.4zM124.42 416.54h3.4v3.4h-3.4zM126.56 395.68h3.4v3.4h-3.4zM128.95 358.36h3.4v3.4h-3.4zM131.33 367.89h3.4v3.4h-3.4zM133.95 373.62h3.4v3.4h-3.4zM136.1 390.54h3.4v3.4h-3.4zM138.48 408.2h3.4v3.4h-3.4zM140.86 391.03h3.4v3.4h-3.4zM143.25 373.85h3.4v3.4h-3.4zM145.51 395.79h3.4v3.4h-3.4zM147.78 417.73h3.4v3.4h-3.4zM150.16 442.76h3.4v3.4h-3.4zM152.55 420.71h3.4v3.4h-3.4zM154.57 368.49h3.4v3.4h-3.4zM156.96 386.37h3.4v3.4h-3.4zM159.34 387.56h3.4v3.4h-3.4zM161.72 413.56h3.4v3.4h-3.4zM163.75 438.35h3.4v3.4h-3.4zM166.49 415.35h3.4v3.4h-3.4zM168.87 379.81h3.4v3.4h-3.4zM171.26 407.01h3.4v3.4h-3.4zM173.64 412.37h3.4v3.4h-3.4zM175.67 443.36h3.4v3.4h-3.4zM178.17 421.67h3.4v3.4h-3.4zM180.79 358.36h3.4v3.4h-3.4zM182.58 386.97h3.4v3.4h-3.4zM186.07 384.58h3.4v3.4h-3.4zM187.5 414.75h3.4v3.4h-3.4zM189.88 439.55h3.4v3.4h-3.4zM192.03 401.4h3.4v3.4h-3.4zM194.41 366.7h3.4v3.4h-3.4zM196.79 397.69h3.4v3.4h-3.4zM199.18 391.14h3.4v3.4h-3.4zM201.56 418.93h3.4v3.4h-3.4zM203.95 414.75h3.4v3.4h-3.4zM206.33 368.49h3.4v3.4h-3.4zM208.71 361.94h3.4v3.4h-3.4zM211.1 380.41h3.4v3.4h-3.4zM213.48 401.46h3.4v3.4h-3.4zM215.86 422.5h3.4v3.4h-3.4zM218.25 390.54h3.4v3.4h-3.4zM220.39 350.02h3.4v3.4h-3.4zM222.78 373.26h3.4v3.4h-3.4zM225.16 373.85h3.4v3.4h-3.4zM227.78 408.2h3.4v3.4h-3.4zM229.93 421.67h3.4v3.4h-3.4zM231.96 381.6h3.4v3.4h-3.4zM234.34 357.41h3.4v3.4h-3.4zM236.72 383.39h3.4v3.4h-3.4zM239.11 387.56h3.4v3.4h-3.4zM241.49 423.69h3.4v3.4h-3.4zM243.87 411.18h3.4v3.4h-3.4zM246.26 357.17h3.4v3.4h-3.4zM248.28 363.72h3.4v3.4h-3.4zM250.43 371.47h3.4v3.4h-3.4zM252.93 391.62h3.4v3.4h-3.4zM255.44 411.77h3.4v3.4h-3.4zM257.58 381.01h3.4v3.4h-3.4zM260.22 344.06h3.4v3.4h-3.4zM262.6 366.7h3.4v3.4h-3.4zM265.58 370.28h3.4v3.4h-3.4zM267.37 391.73h3.4v3.4h-3.4zM269.52 406.41h3.4v3.4h-3.4zM271.54 360.74h3.4v3.4h-3.4zM274.52 358.6h3.4v3.4h-3.4zM276.91 373.85h3.4v3.4h-3.4zM279.05 385.77h3.4v3.4h-3.4zM281.43 418.93h3.4v3.4h-3.4zM283.82 398.29h3.4v3.4h-3.4zM286.2 353h3.4v3.4h-3.4zM288.59 366.7h3.4v3.4h-3.4zM290.61 371.47h3.4v3.4h-3.4zM293 391.73h3.4v3.4h-3.4zM295.38 420.71h3.4v3.4h-3.4zM297.76 385.18h3.4v3.4h-3.4zM300.15 358.6h3.4v3.4h-3.4zM302.53 379.81h3.4v3.4h-3.4zM304.92 385.77h3.4v3.4h-3.4zM306.7 421.91h3.4v3.4h-3.4zM309.68 417.73h3.4v3.4h-3.4zM312.07 368.49h3.4v3.4h-3.4zM314.81 375.05h3.4v3.4h-3.4z" fill="#000"/>
<path d="M36.58 385.69 38.96 378.89 41.34 366.02 43.73 352.67 45.87 345.76 48.49 343.97 50.88 347.9 53.26 355.89 55.65 369 57.79 385.69 60.18 402.75 62.56 420.27 64.94 438.5 67.33 456.38 69.35 469.49 71.74 478.43 74.36 482.01 76.74 477 78.89 459.6 81.27 451.26 83.66 454.36 86.04 459.12 88.42 454 90.81 460.79 92.95 470.45 95.34 479.98 97.72 459.96 100.34 462.94 102.49 474.26 104.51 489.52 107.14 481.05 109.64 434.33 111.58 379.13 113.96 364.23 116.34 353.5 118.97 345.76 121.35 352.91 123.49 355.89 125.88 343.97 128.02 357.08 130.41 374.36 133.03 394.62 135.41 406.32 137.8 402.75 140.18 399.17 142.56 386.88 144.95 391.05 147.33 415.86 149.48 429.56 151.86 413.47 154.25 379.13 156.27 360.66 158.66 358.27 161.04 345.76 163.18 319.77 165.81 333.24 168.19 352.31 170.57 363.87 172.96 358.87 175.34 329.67 177.73 333.24 180.11 352.67 182.14 374.96 184.52 374.96 189.56 327.64 191.94 328.47 194.32 349.09 196.35 371.98 198.49 379.73 200.88 357.08 203.5 338.01 205.88 358.27 208.03 389.86 210.41 420.27 212.8 412.64 214.94 378.53 217.33 398.2 219.71 410.49 221.74 448.4 224.12 461.98 226.86 428.37 229.25 414.67 231.63 429.8 233.66 440.53 236.4 452.21 238.42 425.75 241.16 370.79 243.19 379.13 245.57 385.33 247.96 405.49 250.34 416.22 252.73 398.81 255.11 391.05 257.14 402.15 259.52 429.8 261.92 464.13 264.3 479.39 266.69 458.77 269.07 431 271.45 435.52 273.84 444.82 276.22 464.73 278.61 461.51 280.75 438.15 283.13 421.22 285.52 425.39 287.9 443.87 290.29 457.57 292.67 425.39 294.7 394.62 297.44 407.51 299.82 411.09 301.85 437.91 304.23 441.48 306.97 410.26 309 373.77 311.38 380.32 313.17 386.28 314.36 397.01 316.15 405.35" fill="none" stroke="#00f" stroke-width="0.65" stroke-linejoin="round"/>
<path d="M34.68 385.69a1.9 1.9 0 1 0 3.8 0a1.9 1.9 0 1 0 -3.8 0zM37.06 378.89a1.9 1.9 0 1 0 3.8 0a1.9 1.9 0 1 0 -3.8 0zM39.44 366.02a1.9 1.9 0 1 0 3.8 0a1.9 1.9 0 1 0 -3.8 0zM41.83 352.67a1.9 1.9 0 1 0 3.8 0a1.9 1.9 0 1 0 -3.8 0zM43.97 345.76a1.9 1.9 0 1 0 3.8 0a1.9 1.9 0 1 0 -3.8 0zM46.59 343.97a1.9 1.9 0 1 0 3.8 0a1.9 1.9 0 1 0 -3.8 0zM48.98 347.9a1.9 1.9 0 1 0 3.8 0a1.9 1.9 0 1 0 -3.8 0zM51.36 355.89a1.9 1.9 0 1 0 3.8 0a1.9 1.9 0 1 0 -3.8 0zM53.75 369a1.9 1.9 0 1 0 3.8 0a1.9 1.9 0 1 0 -3.8 0zM55.89 385.69a1.9 1.9 0 1 0 3.8 0a1.9 1.9 0 1 0 -3.8 0zM58.28 402.75a1.9 1.9 0 1 0 3.8 0a1.9 1.9 0 1 0 -3.8 0zM60.66 420.27a1.9 1.9 0 1 0 3.8 0a1.9 1.9 0 1 0 -3.8 0zM63.04 438.5a1.9 1.9 0 1 0 3.8 0a1.9 1.9 0 1 0 -3.8 0zM65.43 456.38a1.9 1.9 0 1 0 3.8 0a1.9 1.9 0 1 0 -3.8 0zM67.45 469.49a1.9 1.9 0 1 0 3.8 0a1.9 1.9 0 1 0 -3.8 0zM69.84 478.43a1.9 1.9 0 1 0 3.8 0a1.9 1.9 0 1 0 -3.8 0zM72.46 482.01a1.9 1.9 0 1 0 3.8 0a1.9 1.9 0 1 0 -3.8 0zM74.84 477a1.9 1.9 0 1 0 3.8 0a1.9 1.9 0 1 0 -3.8 0zM76.99 459.6a1.9 1.9 0 1 0 3.8 0a1.9 1.9 0 1 0 -3.8 0zM79.37 451.26a1.9 1.9 0 1 0 3.8 0a1.9 1.9 0 1 0 -3.8 0zM81.76 454.36a1.9 1.9 0 1 0 3.8 0a1.9 1.9 0 1 0 -3.8 0zM84.14 459.12a1.9 1.9 0 1 0 3.8 0a1.9 1.9 0 1 0 -3.8 0zM86.52 454a1.9 1.9 0 1 0 3.8 0a1.9 1.9 0 1 0 -3.8 0zM88.91 460.79a1.9 1.9 0 1 0 3.8 0a1.9 1.9 0 1 0 -3.8 0zM91.05 470.45a1.9 1.9 0 1 0 3.8 0a1.9 1.9 0 1 0 -3.8 0zM93.44 479.98a1.9 1.9 0 1 0 3.8 0a1.9 1.9 0 1 0 -3.8 0zM95.82 459.96a1.9 1.9 0 1 0 3.8 0a1.9 1.9 0 1 0 -3.8 0zM98.44 462.94a1.9 1.9 0 1 0 3.8 0a1.9 1.9 0 1 0 -3.8 0zM100.59 474.26a1.9 1.9 0 1 0 3.8 0a1.9 1.9 0 1 0 -3.8 0zM102.61 489.52a1.9 1.9 0 1 0 3.8 0a1.9 1.9 0 1 0 -3.8 0zM105.24 481.05a1.9 1.9 0 1 0 3.8 0a1.9 1.9 0 1 0 -3.8 0zM107.74 434.33a1.9 1.9 0 1 0 3.8 0a1.9 1.9 0 1 0 -3.8 0zM109.68 379.13a1.9 1.9 0 1 0 3.8 0a1.9 1.9 0 1 0 -3.8 0zM112.06 364.23a1.9 1.9 0 1 0 3.8 0a1.9 1.9 0 1 0 -3.8 0zM114.44 353.5a1.9 1.9 0 1 0 3.8 0a1.9 1.9 0 1 0 -3.8 0zM117.07 345.76a1.9 1.9 0 1 0 3.8 0a1.9 1.9 0 1 0 -3.8 0zM119.45 352.91a1.9 1.9 0 1 0 3.8 0a1.9 1.9 0 1 0 -3.8 0zM121.59 355.89a1.9 1.9 0 1 0 3.8 0a1.9 1.9 0 1 0 -3.8 0zM123.98 343.97a1.9 1.9 0 1 0 3.8 0a1.9 1.9 0 1 0 -3.8 0zM126.12 357.08a1.9 1.9 0 1 0 3.8 0a1.9 1.9 0 1 0 -3.8 0zM128.51 374.36a1.9 1.9 0 1 0 3.8 0a1.9 1.9 0 1 0 -3.8 0zM131.13 394.62a1.9 1.9 0 1 0 3.8 0a1.9 1.9 0 1 0 -3.8 0zM133.51 406.32a1.9 1.9 0 1 0 3.8 0a1.9 1.9 0 1 0 -3.8 0zM135.9 402.75a1.9 1.9 0 1 0 3.8 0a1.9 1.9 0 1 0 -3.8 0zM138.28 399.17a1.9 1.9 0 1 0 3.8 0a1.9 1.9 0 1 0 -3.8 0zM140.66 386.88a1.9 1.9 0 1 0 3.8 0a1.9 1.9 0 1 0 -3.8 0zM143.05 391.05a1.9 1.9 0 1 0 3.8 0a1.9 1.9 0 1 0 -3.8 0zM145.43 415.86a1.9 1.9 0 1 0 3.8 0a1.9 1.9 0 1 0 -3.8 0zM147.58 429.56a1.9 1.9 0 1 0 3.8 0a1.9 1.9 0 1 0 -3.8 0zM149.96 413.47a1.9 1.9 0 1 0 3.8 0a1.9 1.9 0 1 0 -3.8 0zM152.35 379.13a1.9 1.9 0 1 0 3.8 0a1.9 1.9 0 1 0 -3.8 0zM154.37 360.66a1.9 1.9 0 1 0 3.8 0a1.9 1.9 0 1 0 -3.8 0zM156.76 358.27a1.9 1.9 0 1 0 3.8 0a1.9 1.9 0 1 0 -3.8 0zM159.14 345.76a1.9 1.9 0 1 0 3.8 0a1.9 1.9 0 1 0 -3.8 0zM161.28 319.77a1.9 1.9 0 1 0 3.8 0a1.9 1.9 0 1 0 -3.8 0zM163.91 333.24a1.9 1.9 0 1 0 3.8 0a1.9 1.9 0 1 0 -3.8 0zM166.29 352.31a1.9 1.9 0 1 0 3.8 0a1.9 1.9 0 1 0 -3.8 0zM168.67 363.87a1.9 1.9 0 1 0 3.8 0a1.9 1.9 0 1 0 -3.8 0zM171.06 358.87a1.9 1.9 0 1 0 3.8 0a1.9 1.9 0 1 0 -3.8 0zM173.44 329.67a1.9 1.9 0 1 0 3.8 0a1.9 1.9 0 1 0 -3.8 0zM175.83 333.24a1.9 1.9 0 1 0 3.8 0a1.9 1.9 0 1 0 -3.8 0zM178.21 352.67a1.9 1.9 0 1 0 3.8 0a1.9 1.9 0 1 0 -3.8 0zM180.24 374.96a1.9 1.9 0 1 0 3.8 0a1.9 1.9 0 1 0 -3.8 0zM182.62 374.96a1.9 1.9 0 1 0 3.8 0a1.9 1.9 0 1 0 -3.8 0zM185.14 351.3a1.9 1.9 0 1 0 3.8 0a1.9 1.9 0 1 0 -3.8 0zM187.66 327.64a1.9 1.9 0 1 0 3.8 0a1.9 1.9 0 1 0 -3.8 0zM190.04 328.47a1.9 1.9 0 1 0 3.8 0a1.9 1.9 0 1 0 -3.8 0zM192.42 349.09a1.9 1.9 0 1 0 3.8 0a1.9 1.9 0 1 0 -3.8 0zM194.45 371.98a1.9 1.9 0 1 0 3.8 0a1.9 1.9 0 1 0 -3.8 0zM196.59 379.73a1.9 1.9 0 1 0 3.8 0a1.9 1.9 0 1 0 -3.8 0zM198.98 357.08a1.9 1.9 0 1 0 3.8 0a1.9 1.9 0 1 0 -3.8 0zM201.6 338.01a1.9 1.9 0 1 0 3.8 0a1.9 1.9 0 1 0 -3.8 0zM203.98 358.27a1.9 1.9 0 1 0 3.8 0a1.9 1.9 0 1 0 -3.8 0zM206.13 389.86a1.9 1.9 0 1 0 3.8 0a1.9 1.9 0 1 0 -3.8 0zM208.51 420.27a1.9 1.9 0 1 0 3.8 0a1.9 1.9 0 1 0 -3.8 0zM210.9 412.64a1.9 1.9 0 1 0 3.8 0a1.9 1.9 0 1 0 -3.8 0zM213.04 378.53a1.9 1.9 0 1 0 3.8 0a1.9 1.9 0 1 0 -3.8 0zM215.43 398.2a1.9 1.9 0 1 0 3.8 0a1.9 1.9 0 1 0 -3.8 0zM217.81 410.49a1.9 1.9 0 1 0 3.8 0a1.9 1.9 0 1 0 -3.8 0zM219.84 448.4a1.9 1.9 0 1 0 3.8 0a1.9 1.9 0 1 0 -3.8 0zM222.22 461.98a1.9 1.9 0 1 0 3.8 0a1.9 1.9 0 1 0 -3.8 0zM224.96 428.37a1.9 1.9 0 1 0 3.8 0a1.9 1.9 0 1 0 -3.8 0zM227.35 414.67a1.9 1.9 0 1 0 3.8 0a1.9 1.9 0 1 0 -3.8 0zM229.73 429.8a1.9 1.9 0 1 0 3.8 0a1.9 1.9 0 1 0 -3.8 0zM231.76 440.53a1.9 1.9 0 1 0 3.8 0a1.9 1.9 0 1 0 -3.8 0zM234.5 452.21a1.9 1.9 0 1 0 3.8 0a1.9 1.9 0 1 0 -3.8 0zM236.52 425.75a1.9 1.9 0 1 0 3.8 0a1.9 1.9 0 1 0 -3.8 0zM239.26 370.79a1.9 1.9 0 1 0 3.8 0a1.9 1.9 0 1 0 -3.8 0zM241.29 379.13a1.9 1.9 0 1 0 3.8 0a1.9 1.9 0 1 0 -3.8 0zM243.67 385.33a1.9 1.9 0 1 0 3.8 0a1.9 1.9 0 1 0 -3.8 0zM246.06 405.49a1.9 1.9 0 1 0 3.8 0a1.9 1.9 0 1 0 -3.8 0zM248.44 416.22a1.9 1.9 0 1 0 3.8 0a1.9 1.9 0 1 0 -3.8 0zM250.83 398.81a1.9 1.9 0 1 0 3.8 0a1.9 1.9 0 1 0 -3.8 0zM253.21 391.05a1.9 1.9 0 1 0 3.8 0a1.9 1.9 0 1 0 -3.8 0zM255.24 402.15a1.9 1.9 0 1 0 3.8 0a1.9 1.9 0 1 0 -3.8 0zM257.62 429.8a1.9 1.9 0 1 0 3.8 0a1.9 1.9 0 1 0 -3.8 0zM260.02 464.13a1.9 1.9 0 1 0 3.8 0a1.9 1.9 0 1 0 -3.8 0zM262.4 479.39a1.9 1.9 0 1 0 3.8 0a1.9 1.9 0 1 0 -3.8 0zM264.79 458.77a1.9 1.9 0 1 0 3.8 0a1.9 1.9 0 1 0 -3.8 0zM267.17 431a1.9 1.9 0 1 0 3.8 0a1.9 1.9 0 1 0 -3.8 0zM269.55 435.52a1.9 1.9 0 1 0 3.8 0a1.9 1.9 0 1 0 -3.8 0zM271.94 444.82a1.9 1.9 0 1 0 3.8 0a1.9 1.9 0 1 0 -3.8 0zM274.32 464.73a1.9 1.9 0 1 0 3.8 0a1.9 1.9 0 1 0 -3.8 0zM276.71 461.51a1.9 1.9 0 1 0 3.8 0a1.9 1.9 0 1 0 -3.8 0zM278.85 438.15a1.9 1.9 0 1 0 3.8 0a1.9 1.9 0 1 0 -3.8 0zM281.23 421.22a1.9 1.9 0 1 0 3.8 0a1.9 1.9 0 1 0 -3.8 0zM283.62 425.39a1.9 1.9 0 1 0 3.8 0a1.9 1.9 0 1 0 -3.8 0zM286 443.87a1.9 1.9 0 1 0 3.8 0a1.9 1.9 0 1 0 -3.8 0zM288.39 457.57a1.9 1.9 0 1 0 3.8 0a1.9 1.9 0 1 0 -3.8 0zM290.77 425.39a1.9 1.9 0 1 0 3.8 0a1.9 1.9 0 1 0 -3.8 0zM292.8 394.62a1.9 1.9 0 1 0 3.8 0a1.9 1.9 0 1 0 -3.8 0zM295.54 407.51a1.9 1.9 0 1 0 3.8 0a1.9 1.9 0 1 0 -3.8 0zM297.92 411.09a1.9 1.9 0 1 0 3.8 0a1.9 1.9 0 1 0 -3.8 0zM299.95 437.91a1.9 1.9 0 1 0 3.8 0a1.9 1.9 0 1 0 -3.8 0zM302.33 441.48a1.9 1.9 0 1 0 3.8 0a1.9 1.9 0 1 0 -3.8 0zM305.07 410.26a1.9 1.9 0 1 0 3.8 0a1.9 1.9 0 1 0 -3.8 0zM307.1 373.77a1.9 1.9 0 1 0 3.8 0a1.9 1.9 0 1 0 -3.8 0zM309.48 380.32a1.9 1.9 0 1 0 3.8 0a1.9 1.9 0 1 0 -3.8 0zM311.27 386.28a1.9 1.9 0 1 0 3.8 0a1.9 1.9 0 1 0 -3.8 0zM312.46 397.01a1.9 1.9 0 1 0 3.8 0a1.9 1.9 0 1 0 -3.8 0zM314.25 405.35a1.9 1.9 0 1 0 3.8 0a1.9 1.9 0 1 0 -3.8 0z" fill="#00f"/>
<path d="M36.34 368.4 38.72 361.85 41.1 346.35 43.49 332.65 45.87 322.51 48.49 316.91 50.88 315.36 53.5 318.34 55.65 326.69 58.03 340.39 60.65 358.87 62.8 376.75 64.94 394.03 67.33 402.37 69.35 397.6 71.74 393.43 74.48 391.05 76.86 379.73 78.89 371.38 81.27 379.73 84.01 392.24 86.04 402.97 88.42 395.22 90.81 384.49 93.19 417.05 95.22 434.33 97.96 440.29 100.34 394.62 102.73 413.47 104.51 425.39 106.9 442.08 109.28 412.28 111.58 376.75 113.96 395.22 116.34 373.77 118.97 362.44 121.35 343.97 123.49 336.22 125.88 338.01 128.5 341.59 130.65 369.59 133.03 358.27 135.41 381.51 137.56 397.01 139.94 414.07 142.56 409.3 144.95 398.58 146.74 426.59 149.12 431.35 151.86 431.35 156.27 394.03 161.04 414.07 163.07 409.9 165.81 364.23 169.98 391.64 172.96 397.6 175.34 364.23 177.73 354.7 180.11 382.11 182.49 385.69 184.88 377.94 187.26 353.5 189.56 365.42 191.94 367.21 193.97 373.17 196.11 376.15 198.49 349.33 200.88 371.38 203.26 379.13 205.65 379.13 208.03 370.79 210.41 383.9 212.8 391.05 214.94 399.39 217.56 383.9 219.71 363.64 221.74 394.03 224.12 405.35 226.5 408.93 228.89 376.75 231.27 386.28 233.66 395.82 236.04 415.86 238.42 405.35 240.81 352.31 243.19 373.17 245.57 367.81 247.96 379.13 250.34 361.25 252.73 328.83 255.11 357.08 257.49 361.85 259.88 370.79 264.3 360.66 266.69 374.36 268.47 391.05 271.22 378.53 273.6 364.23 275.98 376.75 278.37 394.03 280.75 392.84 283.13 365.42 285.52 377.34 287.9 386.28 290.29 403.56 292.31 391.05 294.7 357.08 297.08 391.05 299.46 392.24 301.85 408.93 304.23 380.32 306.62 360.66 309 377.94 311.38 391.05 313.77 397.01 316.15 364.83" fill="none" stroke="#f00" stroke-width="0.65" stroke-linejoin="round"/>
<path d="M36.34 365.87L38.64 370.13L34.04 370.13zM38.72 359.32L41.02 363.57L36.42 363.57zM41.1 343.82L43.4 348.08L38.8 348.08zM43.49 330.12L45.79 334.37L41.19 334.37zM45.87 319.98L48.17 324.24L43.57 324.24zM48.49 314.38L50.79 318.64L46.19 318.64zM50.88 312.83L53.18 317.09L48.58 317.09zM53.5 315.81L55.8 320.07L51.2 320.07zM55.65 324.16L57.95 328.41L53.35 328.41zM58.03 337.86L60.33 342.12L55.73 342.12zM60.65 356.34L62.95 360.59L58.35 360.59zM62.8 374.22L65.1 378.47L60.5 378.47zM64.94 391.5L67.24 395.75L62.64 395.75zM67.33 399.84L69.63 404.1L65.03 404.1zM69.35 395.07L71.65 399.33L67.05 399.33zM71.74 390.9L74.04 395.16L69.44 395.16zM74.48 388.52L76.78 392.77L72.18 392.77zM76.86 377.2L79.16 381.45L74.56 381.45zM78.89 368.85L81.19 373.11L76.59 373.11zM81.27 377.2L83.57 381.45L78.97 381.45zM84.01 389.71L86.31 393.97L81.71 393.97zM86.04 400.44L88.34 404.69L83.74 404.69zM88.42 392.69L90.72 396.95L86.12 396.95zM90.81 381.96L93.11 386.22L88.51 386.22zM93.19 414.52L95.49 418.78L90.89 418.78zM95.22 431.8L97.52 436.06L92.92 436.06zM97.96 437.76L100.26 442.02L95.66 442.02zM100.34 392.09L102.64 396.35L98.04 396.35zM102.73 410.94L105.03 415.2L100.43 415.2zM104.51 422.86L106.81 427.12L102.21 427.12zM106.9 439.55L109.2 443.8L104.6 443.8zM109.28 409.75L111.58 414.01L106.98 414.01zM111.58 374.22L113.88 378.47L109.28 378.47zM113.96 392.69L116.26 396.95L111.66 396.95zM116.34 371.24L118.64 375.49L114.04 375.49zM118.97 359.91L121.27 364.17L116.67 364.17zM121.35 341.44L123.65 345.69L119.05 345.69zM123.49 333.69L125.79 337.95L121.19 337.95zM125.88 335.48L128.18 339.73L123.58 339.73zM128.5 339.06L130.8 343.31L126.2 343.31zM130.65 367.06L132.95 371.32L128.35 371.32zM133.03 355.74L135.33 360L130.73 360zM135.41 378.98L137.71 383.24L133.11 383.24zM137.56 394.48L139.86 398.73L135.26 398.73zM139.94 411.54L142.24 415.8L137.64 415.8zM142.56 406.77L144.86 411.03L140.26 411.03zM144.95 396.05L147.25 400.3L142.65 400.3zM146.74 424.06L149.04 428.31L144.44 428.31zM149.12 428.82L151.42 433.08L146.82 433.08zM151.86 428.82L154.16 433.08L149.56 433.08zM154.07 410.16L156.37 414.42L151.77 414.42zM156.27 391.5L158.57 395.75L153.97 395.75zM158.66 401.52L160.96 405.77L156.36 405.77zM161.04 411.54L163.34 415.8L158.74 415.8zM163.07 407.37L165.37 411.62L160.77 411.62zM165.81 361.7L168.11 365.96L163.51 365.96zM167.89 375.41L170.19 379.66L165.59 379.66zM169.98 389.11L172.28 393.37L167.68 393.37zM172.96 395.07L175.26 399.33L170.66 399.33zM175.34 361.7L177.64 365.96L173.04 365.96zM177.73 352.17L180.03 356.42L175.43 356.42zM180.11 379.58L182.41 383.83L177.81 383.83zM182.49 383.16L184.79 387.41L180.19 387.41zM184.88 375.41L187.18 379.66L182.58 379.66zM187.26 350.97L189.56 355.23L184.96 355.23zM189.56 362.89L191.86 367.15L187.26 367.15zM191.94 364.68L194.24 368.94L189.64 368.94zM193.97 370.64L196.27 374.9L191.67 374.9zM196.11 373.62L198.41 377.88L193.81 377.88zM198.49 346.8L200.79 351.06L196.19 351.06zM200.88 368.85L203.18 373.11L198.58 373.11zM203.26 376.6L205.56 380.85L200.96 380.85zM205.65 376.6L207.95 380.85L203.35 380.85zM208.03 368.26L210.33 372.51L205.73 372.51zM210.41 381.37L212.71 385.62L208.11 385.62zM212.8 388.52L215.1 392.77L210.5 392.77zM214.94 396.86L217.24 401.12L212.64 401.12zM217.56 381.37L219.86 385.62L215.26 385.62zM219.71 361.11L222.01 365.36L217.41 365.36zM221.74 391.5L224.04 395.75L219.44 395.75zM224.12 402.82L226.42 407.08L221.82 407.08zM226.5 406.4L228.8 410.65L224.2 410.65zM228.89 374.22L231.19 378.47L226.59 378.47zM231.27 383.75L233.57 388.01L228.97 388.01zM233.66 393.29L235.96 397.54L231.36 397.54zM236.04 413.33L238.34 417.58L233.74 417.58zM238.42 402.82L240.72 407.08L236.12 407.08zM240.81 349.78L243.11 354.04L238.51 354.04zM243.19 370.64L245.49 374.9L240.89 374.9zM245.57 365.28L247.87 369.53L243.27 369.53zM247.96 376.6L250.26 380.85L245.66 380.85zM250.34 358.72L252.64 362.98L248.04 362.98zM252.73 326.3L255.03 330.56L250.43 330.56zM255.11 354.55L257.41 358.8L252.81 358.8zM257.49 359.32L259.79 363.57L255.19 363.57zM259.88 368.26L262.18 372.51L257.58 372.51zM262.09 363.19L264.39 367.45L259.79 367.45zM264.3 358.13L266.6 362.38L262 362.38zM266.69 371.83L268.99 376.09L264.39 376.09zM268.47 388.52L270.77 392.77L266.17 392.77zM271.22 376L273.52 380.26L268.92 380.26zM273.6 361.7L275.9 365.96L271.3 365.96zM275.98 374.22L278.28 378.47L273.68 378.47zM278.37 391.5L280.67 395.75L276.07 395.75zM280.75 390.31L283.05 394.56L278.45 394.56zM283.13 362.89L285.43 367.15L280.83 367.15zM285.52 374.81L287.82 379.07L283.22 379.07zM287.9 383.75L290.2 388.01L285.6 388.01zM290.29 401.03L292.59 405.29L287.99 405.29zM292.31 388.52L294.61 392.77L290.01 392.77zM294.7 354.55L297 358.8L292.4 358.8zM297.08 388.52L299.38 392.77L294.78 392.77zM299.46 389.71L301.76 393.97L297.16 393.97zM301.85 406.4L304.15 410.65L299.55 410.65zM304.23 377.79L306.53 382.05L301.93 382.05zM306.62 358.13L308.92 362.38L304.32 362.38zM309 375.41L311.3 379.66L306.7 379.66zM311.38 388.52L313.68 392.77L309.08 392.77zM313.77 394.48L316.07 398.73L311.47 398.73zM316.15 362.3L318.45 366.55L313.85 366.55z" fill="#f00"/>
<path d="M394.58 383.43 397.56 382.84 400.54 382.24 404.11 381.64 406.73 379.26 409.12 375.33 411.5 368.53 414.24 358.4 416.27 347.68 418.41 335.16 421.04 329.8 423.42 333.97 425.8 345.89 428.19 364.36 430.57 379.26 432.72 387.01 434.86 381.64 437.25 361.98 439.63 341.12 442.01 349.46 444.4 363.17 446.78 377.47 449.16 372.47 451.55 351.25 453.93 344.1 456.32 369.73 458.34 401.09 461.08 407.05 463.11 370.32 465.49 349.11 467.88 375.69 469.67 383.43 470.53 399.9 472.56 432.08 474.94 418.13 477.32 374.49 479.71 401.69 482.09 407.05 484.47 423.74 486.86 399.3 489.24 346.48 491.63 358.4 494.01 361.98 496.39 377.47 498.42 412.41 501.16 383.43 503.19 365.32 506.29 394.54 507.95 418.97 510.1 446.98 513.08 430.29 515.46 360.79 517.85 375.69 520.23 372.11 521.42 415.75 524.4 444 527.03 422.9 529.17 367.34 531.32 395.73 534.18 404.07 536.32 450.79 538.47 438.04 540.85 346.48 542.88 371.51 545.77 371.51 547.91 420.52 549.94 446.74 552.32 407.41 555.3 361.38 557.69 383.43 560.07 382.24 561.86 424.09 564.6 424.33 566.63 363.77 569.01 349.46 571.39 364.96 573.78 377.47 576.16 433.87 578.54 401.69 580.93 336.35 583.31 361.38 585.7 360.79 589.87 430.29 592.49 383.43 595.23 344.34 597.62 372.11 600 381.05 601.79 430.89 604.41 424.93 606.55 349.46 608.94 352.44 611.92 357.81 613.94 388.58 616.09 421.35 621.09 331.23 623.47 357.81 625.86 358.4 628.24 410.63 630.27 416.59 632.65 359 635.04 346.72 637.42 360.19 639.8 382.84 642.19 426.12 644.57 410.03 646.72 342.31 649.34 355.42 651.72 357.21 654.11 401.69 656.25 430.89 658.64 390.96 660.78 345.29 663.16 369.13 665.55 377.47 667.93 429.1 670.32 429.1 672.7 361.98 675.32 364.96" fill="none" stroke="#000" stroke-width="0.65" stroke-linejoin="round"/>
<path d="M392.88 381.73h3.4v3.4h-3.4zM395.86 381.14h3.4v3.4h-3.4zM398.84 380.54h3.4v3.4h-3.4zM400.62 380.24h3.4v3.4h-3.4zM402.41 379.94h3.4v3.4h-3.4zM405.03 377.56h3.4v3.4h-3.4zM407.42 373.63h3.4v3.4h-3.4zM409.8 366.83h3.4v3.4h-3.4zM412.54 356.7h3.4v3.4h-3.4zM414.57 345.98h3.4v3.4h-3.4zM416.71 333.46h3.4v3.4h-3.4zM419.34 328.1h3.4v3.4h-3.4zM421.72 332.27h3.4v3.4h-3.4zM424.1 344.19h3.4v3.4h-3.4zM426.49 362.66h3.4v3.4h-3.4zM428.87 377.56h3.4v3.4h-3.4zM431.02 385.31h3.4v3.4h-3.4zM433.16 379.94h3.4v3.4h-3.4zM435.55 360.28h3.4v3.4h-3.4zM437.93 339.42h3.4v3.4h-3.4zM440.31 347.76h3.4v3.4h-3.4zM442.7 361.47h3.4v3.4h-3.4zM445.08 375.77h3.4v3.4h-3.4zM447.46 370.77h3.4v3.4h-3.4zM449.85 349.55h3.4v3.4h-3.4zM452.23 342.4h3.4v3.4h-3.4zM454.62 368.03h3.4v3.4h-3.4zM456.64 399.39h3.4v3.4h-3.4zM459.38 405.35h3.4v3.4h-3.4zM461.41 368.62h3.4v3.4h-3.4zM463.79 347.41h3.4v3.4h-3.4zM466.18 373.99h3.4v3.4h-3.4zM467.97 381.73h3.4v3.4h-3.4zM468.83 398.2h3.4v3.4h-3.4zM470.86 430.38h3.4v3.4h-3.4zM473.24 416.43h3.4v3.4h-3.4zM475.62 372.79h3.4v3.4h-3.4zM478.01 399.99h3.4v3.4h-3.4zM480.39 405.35h3.4v3.4h-3.4zM482.77 422.04h3.4v3.4h-3.4zM485.16 397.6h3.4v3.4h-3.4zM487.54 344.78h3.4v3.4h-3.4zM489.93 356.7h3.4v3.4h-3.4zM492.31 360.28h3.4v3.4h-3.4zM494.69 375.77h3.4v3.4h-3.4zM496.72 410.71h3.4v3.4h-3.4zM499.46 381.73h3.4v3.4h-3.4zM501.49 363.62h3.4v3.4h-3.4zM504.59 392.84h3.4v3.4h-3.4zM506.25 417.27h3.4v3.4h-3.4zM508.4 445.28h3.4v3.4h-3.4zM511.38 428.59h3.4v3.4h-3.4zM513.76 359.09h3.4v3.4h-3.4zM516.15 373.99h3.4v3.4h-3.4zM518.53 370.41h3.4v3.4h-3.4zM519.72 414.05h3.4v3.4h-3.4zM522.7 442.3h3.4v3.4h-3.4zM525.33 421.2h3.4v3.4h-3.4zM527.47 365.64h3.4v3.4h-3.4zM529.62 394.03h3.4v3.4h-3.4zM532.48 402.37h3.4v3.4h-3.4zM534.62 449.09h3.4v3.4h-3.4zM536.77 436.34h3.4v3.4h-3.4zM539.15 344.78h3.4v3.4h-3.4zM541.18 369.81h3.4v3.4h-3.4zM544.07 369.81h3.4v3.4h-3.4zM546.21 418.82h3.4v3.4h-3.4zM548.24 445.04h3.4v3.4h-3.4zM550.62 405.71h3.4v3.4h-3.4zM553.6 359.68h3.4v3.4h-3.4zM555.99 381.73h3.4v3.4h-3.4zM558.37 380.54h3.4v3.4h-3.4zM560.16 422.39h3.4v3.4h-3.4zM562.9 422.63h3.4v3.4h-3.4zM564.93 362.07h3.4v3.4h-3.4zM567.31 347.76h3.4v3.4h-3.4zM569.69 363.26h3.4v3.4h-3.4zM572.08 375.77h3.4v3.4h-3.4zM574.46 432.17h3.4v3.4h-3.4zM576.84 399.99h3.4v3.4h-3.4zM579.23 334.65h3.4v3.4h-3.4zM581.61 359.68h3.4v3.4h-3.4zM584 359.09h3.4v3.4h-3.4zM586.08 393.84h3.4v3.4h-3.4zM588.17 428.59h3.4v3.4h-3.4zM590.79 381.73h3.4v3.4h-3.4zM593.53 342.64h3.4v3.4h-3.4zM595.92 370.41h3.4v3.4h-3.4zM598.3 379.35h3.4v3.4h-3.4zM600.09 429.19h3.4v3.4h-3.4zM602.71 423.23h3.4v3.4h-3.4zM604.85 347.76h3.4v3.4h-3.4zM607.24 350.74h3.4v3.4h-3.4zM610.22 356.11h3.4v3.4h-3.4zM612.24 386.88h3.4v3.4h-3.4zM614.39 419.65h3.4v3.4h-3.4zM616.89 374.59h3.4v3.4h-3.4zM619.39 329.53h3.4v3.4h-3.4zM621.77 356.11h3.4v3.4h-3.4zM624.16 356.7h3.4v3.4h-3.4zM626.54 408.93h3.4v3.4h-3.4zM628.57 414.89h3.4v3.4h-3.4zM630.95 357.3h3.4v3.4h-3.4zM633.34 345.02h3.4v3.4h-3.4zM635.72 358.49h3.4v3.4h-3.4zM638.1 381.14h3.4v3.4h-3.4zM640.49 424.42h3.4v3.4h-3.4zM642.87 408.33h3.4v3.4h-3.4zM645.02 340.61h3.4v3.4h-3.4zM647.64 353.72h3.4v3.4h-3.4zM650.02 355.51h3.4v3.4h-3.4zM652.41 399.99h3.4v3.4h-3.4zM654.55 429.19h3.4v3.4h-3.4zM656.94 389.26h3.4v3.4h-3.4zM659.08 343.59h3.4v3.4h-3.4zM661.46 367.43h3.4v3.4h-3.4zM663.85 375.77h3.4v3.4h-3.4zM666.23 427.4h3.4v3.4h-3.4zM668.62 427.4h3.4v3.4h-3.4zM671 360.28h3.4v3.4h-3.4zM673.62 363.26h3.4v3.4h-3.4z" fill="#000"/>
<path d="M394.58 383.43 396.96 378.67 399.34 364.96 401.97 349.46 404.35 339.33 406.73 337.19 409.12 341.12 411.5 350.06 413.88 362.57 416.27 378.07 418.41 393.94 420.8 410.63 423.18 430.29 425.56 450.32 427.95 462.47 430.33 470.22 432.48 473.44 435.1 469.98 437.25 450.91 439.63 440.07 442.01 446.03 444.4 459.49 446.78 446.38 449.16 448.77 451.55 460.33 453.93 480.95 456.32 453.89 458.7 453.53 461.08 461.28 463.47 483.93 465.85 477.73 467.88 440.07 470.17 373.3 472.56 352.44 474.94 340.52 477.32 342.31 479.71 352.44 482.09 351.25 484.47 329.2 486.86 345.89 489.24 364.36 491.27 396.32 493.65 408.84 496.04 402.28 498.42 391.54 500.8 375.09 503.19 381.64 505.57 408.24 507.95 432.68 509.86 423.14 512.48 370.92 514.87 345.29 517.49 350.06 519.87 343.86 522.02 312.51 524.4 329.2 526.79 339.93 528.93 359 531.32 359 533.7 318.47 536.56 328.84 538.47 342.31 540.49 372.11 542.88 375.09 545.77 342.91 548.15 309.54 550.54 317.64 552.68 336.71 555.06 372.11 557.45 379.86 559.47 348.87 562.22 323.84 564.84 351.49 566.98 380.45 569.01 422.9 571.39 418.37 573.78 367.34 575.56 388.2 578.9 401.69 580.93 444.59 582.95 463.07 585.7 436.01 588.08 408.84 590.11 416.23 592.49 438.64 594.87 453.18 597.26 430.29 599.4 359.59 601.79 369.13 604.17 367.34 606.32 402.88 608.7 420.52 611.56 391.78 613.94 372.71 616.09 385.82 618.23 423.14 620.73 458.9 623.12 477.01 625.5 453.18 627.88 417.18 630.27 417.78 632.65 435.06 634.8 460.69 637.42 460.69 639.56 429.34 642.19 406.45 644.57 413.01 646.72 438.04 649.1 458.66 651.48 431.25 653.87 402.88 656.25 392.97 658.04 402.88 660.42 436.25 663.16 442.45 665.79 410.03 667.93 360.79 670.32 370.32 672.94 381.05 675.32 410.03" fill="none" stroke="#00f" stroke-width="0.65" stroke-linejoin="round"/>
<path d="M392.68 383.43a1.9 1.9 0 1 0 3.8 0a1.9 1.9 0 1 0 -3.8 0zM395.06 378.67a1.9 1.9 0 1 0 3.8 0a1.9 1.9 0 1 0 -3.8 0zM397.44 364.96a1.9 1.9 0 1 0 3.8 0a1.9 1.9 0 1 0 -3.8 0zM400.07 349.46a1.9 1.9 0 1 0 3.8 0a1.9 1.9 0 1 0 -3.8 0zM402.45 339.33a1.9 1.9 0 1 0 3.8 0a1.9 1.9 0 1 0 -3.8 0zM404.83 337.19a1.9 1.9 0 1 0 3.8 0a1.9 1.9 0 1 0 -3.8 0zM407.22 341.12a1.9 1.9 0 1 0 3.8 0a1.9 1.9 0 1 0 -3.8 0zM409.6 350.06a1.9 1.9 0 1 0 3.8 0a1.9 1.9 0 1 0 -3.8 0zM411.98 362.57a1.9 1.9 0 1 0 3.8 0a1.9 1.9 0 1 0 -3.8 0zM414.37 378.07a1.9 1.9 0 1 0 3.8 0a1.9 1.9 0 1 0 -3.8 0zM416.51 393.94a1.9 1.9 0 1 0 3.8 0a1.9 1.9 0 1 0 -3.8 0zM418.9 410.63a1.9 1.9 0 1 0 3.8 0a1.9 1.9 0 1 0 -3.8 0zM421.28 430.29a1.9 1.9 0 1 0 3.8 0a1.9 1.9 0 1 0 -3.8 0zM423.66 450.32a1.9 1.9 0 1 0 3.8 0a1.9 1.9 0 1 0 -3.8 0zM426.05 462.47a1.9 1.9 0 1 0 3.8 0a1.9 1.9 0 1 0 -3.8 0zM428.43 470.22a1.9 1.9 0 1 0 3.8 0a1.9 1.9 0 1 0 -3.8 0zM430.58 473.44a1.9 1.9 0 1 0 3.8 0a1.9 1.9 0 1 0 -3.8 0zM433.2 469.98a1.9 1.9 0 1 0 3.8 0a1.9 1.9 0 1 0 -3.8 0zM435.35 450.91a1.9 1.9 0 1 0 3.8 0a1.9 1.9 0 1 0 -3.8 0zM437.73 440.07a1.9 1.9 0 1 0 3.8 0a1.9 1.9 0 1 0 -3.8 0zM440.11 446.03a1.9 1.9 0 1 0 3.8 0a1.9 1.9 0 1 0 -3.8 0zM442.5 459.49a1.9 1.9 0 1 0 3.8 0a1.9 1.9 0 1 0 -3.8 0zM444.88 446.38a1.9 1.9 0 1 0 3.8 0a1.9 1.9 0 1 0 -3.8 0zM447.26 448.77a1.9 1.9 0 1 0 3.8 0a1.9 1.9 0 1 0 -3.8 0zM449.65 460.33a1.9 1.9 0 1 0 3.8 0a1.9 1.9 0 1 0 -3.8 0zM452.03 480.95a1.9 1.9 0 1 0 3.8 0a1.9 1.9 0 1 0 -3.8 0zM454.42 453.89a1.9 1.9 0 1 0 3.8 0a1.9 1.9 0 1 0 -3.8 0zM456.8 453.53a1.9 1.9 0 1 0 3.8 0a1.9 1.9 0 1 0 -3.8 0zM459.18 461.28a1.9 1.9 0 1 0 3.8 0a1.9 1.9 0 1 0 -3.8 0zM461.57 483.93a1.9 1.9 0 1 0 3.8 0a1.9 1.9 0 1 0 -3.8 0zM463.95 477.73a1.9 1.9 0 1 0 3.8 0a1.9 1.9 0 1 0 -3.8 0zM465.98 440.07a1.9 1.9 0 1 0 3.8 0a1.9 1.9 0 1 0 -3.8 0zM468.27 373.3a1.9 1.9 0 1 0 3.8 0a1.9 1.9 0 1 0 -3.8 0zM470.66 352.44a1.9 1.9 0 1 0 3.8 0a1.9 1.9 0 1 0 -3.8 0zM473.04 340.52a1.9 1.9 0 1 0 3.8 0a1.9 1.9 0 1 0 -3.8 0zM475.42 342.31a1.9 1.9 0 1 0 3.8 0a1.9 1.9 0 1 0 -3.8 0zM477.81 352.44a1.9 1.9 0 1 0 3.8 0a1.9 1.9 0 1 0 -3.8 0zM480.19 351.25a1.9 1.9 0 1 0 3.8 0a1.9 1.9 0 1 0 -3.8 0zM482.57 329.2a1.9 1.9 0 1 0 3.8 0a1.9 1.9 0 1 0 -3.8 0zM484.96 345.89a1.9 1.9 0 1 0 3.8 0a1.9 1.9 0 1 0 -3.8 0zM487.34 364.36a1.9 1.9 0 1 0 3.8 0a1.9 1.9 0 1 0 -3.8 0zM489.37 396.32a1.9 1.9 0 1 0 3.8 0a1.9 1.9 0 1 0 -3.8 0zM491.75 408.84a1.9 1.9 0 1 0 3.8 0a1.9 1.9 0 1 0 -3.8 0zM494.14 402.28a1.9 1.9 0 1 0 3.8 0a1.9 1.9 0 1 0 -3.8 0zM496.52 391.54a1.9 1.9 0 1 0 3.8 0a1.9 1.9 0 1 0 -3.8 0zM498.9 375.09a1.9 1.9 0 1 0 3.8 0a1.9 1.9 0 1 0 -3.8 0zM501.29 381.64a1.9 1.9 0 1 0 3.8 0a1.9 1.9 0 1 0 -3.8 0zM503.67 408.24a1.9 1.9 0 1 0 3.8 0a1.9 1.9 0 1 0 -3.8 0zM506.05 432.68a1.9 1.9 0 1 0 3.8 0a1.9 1.9 0 1 0 -3.8 0zM507.96 423.14a1.9 1.9 0 1 0 3.8 0a1.9 1.9 0 1 0 -3.8 0zM510.58 370.92a1.9 1.9 0 1 0 3.8 0a1.9 1.9 0 1 0 -3.8 0zM512.97 345.29a1.9 1.9 0 1 0 3.8 0a1.9 1.9 0 1 0 -3.8 0zM515.59 350.06a1.9 1.9 0 1 0 3.8 0a1.9 1.9 0 1 0 -3.8 0zM517.97 343.86a1.9 1.9 0 1 0 3.8 0a1.9 1.9 0 1 0 -3.8 0zM520.12 312.51a1.9 1.9 0 1 0 3.8 0a1.9 1.9 0 1 0 -3.8 0zM522.5 329.2a1.9 1.9 0 1 0 3.8 0a1.9 1.9 0 1 0 -3.8 0zM524.89 339.93a1.9 1.9 0 1 0 3.8 0a1.9 1.9 0 1 0 -3.8 0zM527.03 359a1.9 1.9 0 1 0 3.8 0a1.9 1.9 0 1 0 -3.8 0zM529.42 359a1.9 1.9 0 1 0 3.8 0a1.9 1.9 0 1 0 -3.8 0zM531.8 318.47a1.9 1.9 0 1 0 3.8 0a1.9 1.9 0 1 0 -3.8 0zM534.66 328.84a1.9 1.9 0 1 0 3.8 0a1.9 1.9 0 1 0 -3.8 0zM536.57 342.31a1.9 1.9 0 1 0 3.8 0a1.9 1.9 0 1 0 -3.8 0zM538.59 372.11a1.9 1.9 0 1 0 3.8 0a1.9 1.9 0 1 0 -3.8 0zM540.98 375.09a1.9 1.9 0 1 0 3.8 0a1.9 1.9 0 1 0 -3.8 0zM543.87 342.91a1.9 1.9 0 1 0 3.8 0a1.9 1.9 0 1 0 -3.8 0zM546.25 309.54a1.9 1.9 0 1 0 3.8 0a1.9 1.9 0 1 0 -3.8 0zM548.64 317.64a1.9 1.9 0 1 0 3.8 0a1.9 1.9 0 1 0 -3.8 0zM550.78 336.71a1.9 1.9 0 1 0 3.8 0a1.9 1.9 0 1 0 -3.8 0zM553.16 372.11a1.9 1.9 0 1 0 3.8 0a1.9 1.9 0 1 0 -3.8 0zM555.55 379.86a1.9 1.9 0 1 0 3.8 0a1.9 1.9 0 1 0 -3.8 0zM557.57 348.87a1.9 1.9 0 1 0 3.8 0a1.9 1.9 0 1 0 -3.8 0zM560.32 323.84a1.9 1.9 0 1 0 3.8 0a1.9 1.9 0 1 0 -3.8 0zM562.94 351.49a1.9 1.9 0 1 0 3.8 0a1.9 1.9 0 1 0 -3.8 0zM565.08 380.45a1.9 1.9 0 1 0 3.8 0a1.9 1.9 0 1 0 -3.8 0zM567.11 422.9a1.9 1.9 0 1 0 3.8 0a1.9 1.9 0 1 0 -3.8 0zM569.49 418.37a1.9 1.9 0 1 0 3.8 0a1.9 1.9 0 1 0 -3.8 0zM571.88 367.34a1.9 1.9 0 1 0 3.8 0a1.9 1.9 0 1 0 -3.8 0zM573.66 388.2a1.9 1.9 0 1 0 3.8 0a1.9 1.9 0 1 0 -3.8 0zM577 401.69a1.9 1.9 0 1 0 3.8 0a1.9 1.9 0 1 0 -3.8 0zM579.03 444.59a1.9 1.9 0 1 0 3.8 0a1.9 1.9 0 1 0 -3.8 0zM581.05 463.07a1.9 1.9 0 1 0 3.8 0a1.9 1.9 0 1 0 -3.8 0zM583.8 436.01a1.9 1.9 0 1 0 3.8 0a1.9 1.9 0 1 0 -3.8 0zM586.18 408.84a1.9 1.9 0 1 0 3.8 0a1.9 1.9 0 1 0 -3.8 0zM588.21 416.23a1.9 1.9 0 1 0 3.8 0a1.9 1.9 0 1 0 -3.8 0zM590.59 438.64a1.9 1.9 0 1 0 3.8 0a1.9 1.9 0 1 0 -3.8 0zM592.97 453.18a1.9 1.9 0 1 0 3.8 0a1.9 1.9 0 1 0 -3.8 0zM595.36 430.29a1.9 1.9 0 1 0 3.8 0a1.9 1.9 0 1 0 -3.8 0zM597.5 359.59a1.9 1.9 0 1 0 3.8 0a1.9 1.9 0 1 0 -3.8 0zM599.89 369.13a1.9 1.9 0 1 0 3.8 0a1.9 1.9 0 1 0 -3.8 0zM602.27 367.34a1.9 1.9 0 1 0 3.8 0a1.9 1.9 0 1 0 -3.8 0zM604.42 402.88a1.9 1.9 0 1 0 3.8 0a1.9 1.9 0 1 0 -3.8 0zM606.8 420.52a1.9 1.9 0 1 0 3.8 0a1.9 1.9 0 1 0 -3.8 0zM609.66 391.78a1.9 1.9 0 1 0 3.8 0a1.9 1.9 0 1 0 -3.8 0zM612.04 372.71a1.9 1.9 0 1 0 3.8 0a1.9 1.9 0 1 0 -3.8 0zM614.19 385.82a1.9 1.9 0 1 0 3.8 0a1.9 1.9 0 1 0 -3.8 0zM616.33 423.14a1.9 1.9 0 1 0 3.8 0a1.9 1.9 0 1 0 -3.8 0zM618.83 458.9a1.9 1.9 0 1 0 3.8 0a1.9 1.9 0 1 0 -3.8 0zM621.22 477.01a1.9 1.9 0 1 0 3.8 0a1.9 1.9 0 1 0 -3.8 0zM623.6 453.18a1.9 1.9 0 1 0 3.8 0a1.9 1.9 0 1 0 -3.8 0zM625.98 417.18a1.9 1.9 0 1 0 3.8 0a1.9 1.9 0 1 0 -3.8 0zM628.37 417.78a1.9 1.9 0 1 0 3.8 0a1.9 1.9 0 1 0 -3.8 0zM630.75 435.06a1.9 1.9 0 1 0 3.8 0a1.9 1.9 0 1 0 -3.8 0zM632.9 460.69a1.9 1.9 0 1 0 3.8 0a1.9 1.9 0 1 0 -3.8 0zM635.52 460.69a1.9 1.9 0 1 0 3.8 0a1.9 1.9 0 1 0 -3.8 0zM637.66 429.34a1.9 1.9 0 1 0 3.8 0a1.9 1.9 0 1 0 -3.8 0zM640.29 406.45a1.9 1.9 0 1 0 3.8 0a1.9 1.9 0 1 0 -3.8 0zM642.67 413.01a1.9 1.9 0 1 0 3.8 0a1.9 1.9 0 1 0 -3.8 0zM644.82 438.04a1.9 1.9 0 1 0 3.8 0a1.9 1.9 0 1 0 -3.8 0zM647.2 458.66a1.9 1.9 0 1 0 3.8 0a1.9 1.9 0 1 0 -3.8 0zM649.58 431.25a1.9 1.9 0 1 0 3.8 0a1.9 1.9 0 1 0 -3.8 0zM651.97 402.88a1.9 1.9 0 1 0 3.8 0a1.9 1.9 0 1 0 -3.8 0zM654.35 392.97a1.9 1.9 0 1 0 3.8 0a1.9 1.9 0 1 0 -3.8 0zM656.14 402.88a1.9 1.9 0 1 0 3.8 0a1.9 1.9 0 1 0 -3.8 0zM658.52 436.25a1.9 1.9 0 1 0 3.8 0a1.9 1.9 0 1 0 -3.8 0zM661.26 442.45a1.9 1.9 0 1 0 3.8 0a1.9 1.9 0 1 0 -3.8 0zM663.89 410.03a1.9 1.9 0 1 0 3.8 0a1.9 1.9 0 1 0 -3.8 0zM666.03 360.79a1.9 1.9 0 1 0 3.8 0a1.9 1.9 0 1 0 -3.8 0zM668.42 370.32a1.9 1.9 0 1 0 3.8 0a1.9 1.9 0 1 0 -3.8 0zM671.04 381.05a1.9 1.9 0 1 0 3.8 0a1.9 1.9 0 1 0 -3.8 0zM673.42 410.03a1.9 1.9 0 1 0 3.8 0a1.9 1.9 0 1 0 -3.8 0z" fill="#00f"/>
<path d="M394.58 384.03 396.96 378.07 399.34 363.17 401.73 345.29 404.11 331.59 406.49 324.43 408.88 322.41 411.5 325.03 413.88 331.59 416.27 345.29 418.65 363.17 420.8 384.03 423.42 405.26 425.56 415.99 427.95 410.03 430.09 399.3 432.72 398.11 435.34 395.13 436.89 382.24 439.27 387.38 442.01 400.49 444.4 423.14 446.78 414.2 449.16 393.94 451.55 420.16 453.57 448.77 455.96 463.07 458.7 413.01 460.73 420.16 463.11 424.93 465.49 458.9 467.88 441.02 470.77 389.39 472.91 385.82 474.94 377.47 477.32 382.24 479.71 348.27 482.09 334.56 484.47 334.56 486.86 343.5 489.24 371.51 491.63 366.75 494.01 376.28 496.04 397.51 498.18 424.33 500.8 427.91 503.19 406.45 505.57 426.12 507.72 442.81 510.1 449.96 512.72 406.45 515.11 396.32 517.49 402.88 519.64 429.1 521.78 432.68 524.4 373.9 527.03 399.9 529.41 395.73 531.55 417.18 533.7 378.07 536.32 363.17 538.71 379.86 540.85 396.32 543.23 404.67 545.77 357.21 548.15 370.32 550.54 367.94 552.92 390.58 555.06 395.49 557.45 354.83 559.83 375.09 562.22 385.82 564.24 398.11 566.63 379.26 569.01 388.2 571.75 399.3 574.13 415.39 576.52 398.11 578.9 371.51 580.57 399.3 582.95 420.16 585.34 433.27 587.72 389.77 590.46 395.35 592.49 396.32 594.87 435.06 597.02 432.08 599.4 360.19 601.79 377.47 604.17 367.94 606.32 399.3 608.94 377.47 611.56 332.78 613.94 358.4 616.33 363.77 618.71 384.22 621.09 366.15 623.47 370.32 625.86 379.86 627.88 408.24 630.27 398.11 632.65 372.11 635.04 388.58 637.18 405.26 639.56 415.39 642.19 373.9 644.57 382.24 646.48 387.38 648.86 419.56 651.48 410.63 653.87 367.34 656.25 392.15 658.64 395.73 660.78 427.31 663.16 400.49 665.55 369.13 667.93 381.05 670.32 401.69 672.7 418.37 675.32 378.67" fill="none" stroke="#f00" stroke-width="0.65" stroke-linejoin="round"/>
<path d="M394.58 381.5L396.88 385.75L392.28 385.75zM396.96 375.54L399.26 379.79L394.66 379.79zM399.34 360.64L401.64 364.9L397.04 364.9zM401.73 342.76L404.03 347.02L399.43 347.02zM404.11 329.06L406.41 333.31L401.81 333.31zM406.49 321.9L408.79 326.16L404.19 326.16zM408.88 319.88L411.18 324.13L406.58 324.13zM411.5 322.5L413.8 326.75L409.2 326.75zM413.88 329.06L416.18 333.31L411.58 333.31zM416.27 342.76L418.57 347.02L413.97 347.02zM418.65 360.64L420.95 364.9L416.35 364.9zM420.8 381.5L423.1 385.75L418.5 385.75zM423.42 402.73L425.72 406.99L421.12 406.99zM425.56 413.46L427.86 417.71L423.26 417.71zM427.95 407.5L430.25 411.75L425.65 411.75zM430.09 396.77L432.39 401.03L427.79 401.03zM432.72 395.58L435.02 399.84L430.42 399.84zM435.34 392.6L437.64 396.86L433.04 396.86zM436.89 379.71L439.19 383.97L434.59 383.97zM439.27 384.85L441.57 389.11L436.97 389.11zM442.01 397.96L444.31 402.22L439.71 402.22zM444.4 420.61L446.7 424.87L442.1 424.87zM446.78 411.67L449.08 415.93L444.48 415.93zM449.16 391.41L451.46 395.66L446.86 395.66zM451.55 417.63L453.85 421.89L449.25 421.89zM453.57 446.24L455.87 450.49L451.27 450.49zM455.96 460.54L458.26 464.79L453.66 464.79zM458.7 410.48L461 414.73L456.4 414.73zM460.73 417.63L463.03 421.89L458.43 421.89zM463.11 422.4L465.41 426.65L460.81 426.65zM465.49 456.37L467.79 460.62L463.19 460.62zM467.88 438.49L470.18 442.74L465.58 442.74zM470.77 386.86L473.07 391.12L468.47 391.12zM472.91 383.29L475.21 387.54L470.61 387.54zM474.94 374.94L477.24 379.2L472.64 379.2zM477.32 379.71L479.62 383.97L475.02 383.97zM479.71 345.74L482.01 350L477.41 350zM482.09 332.03L484.39 336.29L479.79 336.29zM484.47 332.03L486.77 336.29L482.17 336.29zM486.86 340.97L489.16 345.23L484.56 345.23zM489.24 368.98L491.54 373.24L486.94 373.24zM491.63 364.22L493.93 368.47L489.33 368.47zM494.01 373.75L496.31 378.01L491.71 378.01zM496.04 394.98L498.34 399.24L493.74 399.24zM498.18 421.8L500.48 426.06L495.88 426.06zM500.8 425.38L503.1 429.63L498.5 429.63zM503.19 403.92L505.49 408.18L500.89 408.18zM505.57 423.59L507.87 427.85L503.27 427.85zM507.72 440.28L510.02 444.53L505.42 444.53zM510.1 447.43L512.4 451.68L507.8 451.68zM512.72 403.92L515.02 408.18L510.42 408.18zM515.11 393.79L517.41 398.05L512.81 398.05zM517.49 400.35L519.79 404.6L515.19 404.6zM519.64 426.57L521.94 430.83L517.34 430.83zM521.78 430.15L524.08 434.4L519.48 434.4zM524.4 371.37L526.7 375.62L522.1 375.62zM527.03 397.37L529.33 401.62L524.73 401.62zM529.41 393.2L531.71 397.45L527.11 397.45zM531.55 414.65L533.85 418.91L529.25 418.91zM533.7 375.54L536 379.79L531.4 379.79zM536.32 360.64L538.62 364.9L534.02 364.9zM538.71 377.33L541.01 381.58L536.41 381.58zM540.85 393.79L543.15 398.05L538.55 398.05zM543.23 402.14L545.53 406.39L540.93 406.39zM545.77 354.68L548.07 358.94L543.47 358.94zM548.15 367.79L550.45 372.05L545.85 372.05zM550.54 365.41L552.84 369.66L548.24 369.66zM552.92 388.05L555.22 392.31L550.62 392.31zM555.06 392.96L557.36 397.21L552.76 397.21zM557.45 352.3L559.75 356.55L555.15 356.55zM559.83 372.56L562.13 376.81L557.53 376.81zM562.22 383.29L564.52 387.54L559.92 387.54zM564.24 395.58L566.54 399.84L561.94 399.84zM566.63 376.73L568.93 380.99L564.33 380.99zM569.01 385.67L571.31 389.93L566.71 389.93zM571.75 396.77L574.05 401.03L569.45 401.03zM574.13 412.86L576.43 417.12L571.83 417.12zM576.52 395.58L578.82 399.84L574.22 399.84zM578.9 368.98L581.2 373.24L576.6 373.24zM580.57 396.77L582.87 401.03L578.27 401.03zM582.95 417.63L585.25 421.89L580.65 421.89zM585.34 430.74L587.64 435L583.04 435zM587.72 387.24L590.02 391.49L585.42 391.49zM590.46 392.82L592.76 397.08L588.16 397.08zM592.49 393.79L594.79 398.05L590.19 398.05zM594.87 432.53L597.17 436.78L592.57 436.78zM597.02 429.55L599.32 433.8L594.72 433.8zM599.4 357.66L601.7 361.92L597.1 361.92zM601.79 374.94L604.09 379.2L599.49 379.2zM604.17 365.41L606.47 369.66L601.87 369.66zM606.32 396.77L608.62 401.03L604.02 401.03zM608.94 374.94L611.24 379.2L606.64 379.2zM611.56 330.25L613.86 334.5L609.26 334.5zM613.94 355.87L616.24 360.13L611.64 360.13zM616.33 361.24L618.63 365.49L614.03 365.49zM618.71 381.69L621.01 385.94L616.41 385.94zM621.09 363.62L623.39 367.88L618.79 367.88zM623.47 367.79L625.77 372.05L621.17 372.05zM625.86 377.33L628.16 381.58L623.56 381.58zM627.88 405.71L630.18 409.97L625.58 409.97zM630.27 395.58L632.57 399.84L627.97 399.84zM632.65 369.58L634.95 373.83L630.35 373.83zM635.04 386.05L637.34 390.3L632.74 390.3zM637.18 402.73L639.48 406.99L634.88 406.99zM639.56 412.86L641.86 417.12L637.26 417.12zM642.19 371.37L644.49 375.62L639.89 375.62zM644.57 379.71L646.87 383.97L642.27 383.97zM646.48 384.85L648.78 389.11L644.18 389.11zM648.86 417.03L651.16 421.29L646.56 421.29zM651.48 408.1L653.78 412.35L649.18 412.35zM653.87 364.81L656.17 369.07L651.57 369.07zM656.25 389.62L658.55 393.88L653.95 393.88zM658.64 393.2L660.94 397.45L656.34 397.45zM660.78 424.78L663.08 429.04L658.48 429.04zM663.16 397.96L665.46 402.22L660.86 402.22zM665.55 366.6L667.85 370.85L663.25 370.85zM667.93 378.52L670.23 382.77L665.63 382.77zM670.32 399.16L672.62 403.41L668.02 403.41zM672.7 415.84L675 420.1L670.4 420.1zM675.32 376.14L677.62 380.39L673.02 380.39z" fill="#f00"/>
<path d="M32.98 707.05 35.96 706.57 38.34 706.22 40.73 705.26 43.11 703.47 45.49 701.69 47.88 696.32 50.5 687.25 52.65 672.94 55.03 656.02 57.18 638.14 59.8 629.8 62.18 635.16 64.56 653.87 66.95 682 69.33 706.45 71.72 716.59 73.86 709.43 76.25 678.67 78.63 644.1 81.25 653.04 83.87 678.07 85.42 713.61 87.81 696.32 90.55 657.21 92.93 644.1 95.32 679.26 97.34 741.02 99.73 742.21 102.11 683.43 104.49 651.25 106.88 678.67 109.17 738.04 111.91 758.3 114.3 741.62 116.32 690.58 118.71 717.18 121.09 741.62 123.47 754.73 126.22 723.38 128.24 645.29 130.63 661.98 133.01 670.08 138.13 745.19 139.8 710.03 142.54 676.28 144.93 703.47 147.31 754.73 149.7 766.05 152.08 754.73 154.46 668.53 156.85 682.84 159.59 682.24 161.02 752.34 163.4 763.9 166.03 747.93 168.77 674.49 171.15 707.65 173.18 733.87 175.56 767.84 177.94 762.23 180.69 645.05 183.07 678.67 187.39 759.14 189.77 766.05 192.51 726.12 194.54 672.71 199.07 707.05 201.45 756.16 204.43 753.18 206.22 675.69 208.61 651.25 210.99 671.28 213.37 726.12 215.76 761.28 218.14 730.29 220.52 631.23 222.91 661.98 225.53 664.36 227.44 754.13 230.06 757.71 232.44 700.26 234.83 642.31 237.21 673.3 239.59 705.86 241.74 761.28 244.36 754.73 246.75 650.66 249.13 654.83 251.51 656.02 253.9 720.76 256.28 756.28 260.97 624.43 263.11 659.36 265.49 664.36 267.88 751.15 270.26 749.96 272.65 671.75 275.03 646.72 277.65 657.45 279.8 713.01 282.18 758.3 284.56 743.16 286.71 641.95 289.33 655.42 291.95 658.64 294.34 739.83 296.48 759.85 298.87 713.61 301.25 644.34 303.87 670.08 308.16 762.23 310.79 757.11 313.17 668.18 315.55 671.28" fill="none" stroke="#000" stroke-width="0.65" stroke-linejoin="round"/>
<path d="M31.42 705.49h3.13v3.13h-3.13zM34.4 705.01h3.13v3.13h-3.13zM36.78 704.65h3.13v3.13h-3.13zM39.16 703.7h3.13v3.13h-3.13zM41.55 701.91h3.13v3.13h-3.13zM43.93 700.12h3.13v3.13h-3.13zM46.31 694.76h3.13v3.13h-3.13zM48.94 685.68h3.13v3.13h-3.13zM51.08 671.38h3.13v3.13h-3.13zM53.47 654.46h3.13v3.13h-3.13zM55.61 636.58h3.13v3.13h-3.13zM58.23 628.23h3.13v3.13h-3.13zM60.62 633.6h3.13v3.13h-3.13zM63 652.31h3.13v3.13h-3.13zM65.38 680.44h3.13v3.13h-3.13zM67.77 704.89h3.13v3.13h-3.13zM70.15 715.02h3.13v3.13h-3.13zM72.3 707.87h3.13v3.13h-3.13zM74.68 677.1h3.13v3.13h-3.13zM77.07 642.54h3.13v3.13h-3.13zM79.69 651.48h3.13v3.13h-3.13zM82.31 676.51h3.13v3.13h-3.13zM83.86 712.04h3.13v3.13h-3.13zM86.24 694.76h3.13v3.13h-3.13zM88.98 655.65h3.13v3.13h-3.13zM91.37 642.54h3.13v3.13h-3.13zM93.75 677.7h3.13v3.13h-3.13zM95.78 739.46h3.13v3.13h-3.13zM98.16 740.65h3.13v3.13h-3.13zM100.55 681.87h3.13v3.13h-3.13zM102.93 649.69h3.13v3.13h-3.13zM105.31 677.1h3.13v3.13h-3.13zM107.61 736.48h3.13v3.13h-3.13zM110.35 756.74h3.13v3.13h-3.13zM112.73 740.05h3.13v3.13h-3.13zM114.76 689.02h3.13v3.13h-3.13zM117.14 715.62h3.13v3.13h-3.13zM119.53 740.05h3.13v3.13h-3.13zM121.91 753.16h3.13v3.13h-3.13zM124.65 721.82h3.13v3.13h-3.13zM126.68 643.73h3.13v3.13h-3.13zM129.06 660.41h3.13v3.13h-3.13zM131.45 668.52h3.13v3.13h-3.13zM134.01 706.07h3.13v3.13h-3.13zM136.57 743.63h3.13v3.13h-3.13zM138.24 708.47h3.13v3.13h-3.13zM140.98 674.72h3.13v3.13h-3.13zM143.36 701.91h3.13v3.13h-3.13zM145.75 753.16h3.13v3.13h-3.13zM148.13 764.48h3.13v3.13h-3.13zM150.52 753.16h3.13v3.13h-3.13zM152.9 666.97h3.13v3.13h-3.13zM155.28 681.27h3.13v3.13h-3.13zM158.02 680.68h3.13v3.13h-3.13zM159.46 750.78h3.13v3.13h-3.13zM161.84 762.34h3.13v3.13h-3.13zM164.46 746.37h3.13v3.13h-3.13zM167.2 672.93h3.13v3.13h-3.13zM169.59 706.08h3.13v3.13h-3.13zM171.61 732.3h3.13v3.13h-3.13zM174 766.27h3.13v3.13h-3.13zM176.38 760.67h3.13v3.13h-3.13zM179.12 643.49h3.13v3.13h-3.13zM181.51 677.1h3.13v3.13h-3.13zM183.67 717.34h3.13v3.13h-3.13zM185.83 757.57h3.13v3.13h-3.13zM188.21 764.48h3.13v3.13h-3.13zM190.95 724.56h3.13v3.13h-3.13zM192.98 671.14h3.13v3.13h-3.13zM195.24 688.31h3.13v3.13h-3.13zM197.51 705.49h3.13v3.13h-3.13zM199.89 754.59h3.13v3.13h-3.13zM202.87 751.61h3.13v3.13h-3.13zM204.66 674.12h3.13v3.13h-3.13zM207.04 649.69h3.13v3.13h-3.13zM209.43 669.71h3.13v3.13h-3.13zM211.81 724.56h3.13v3.13h-3.13zM214.19 759.72h3.13v3.13h-3.13zM216.58 728.73h3.13v3.13h-3.13zM218.96 629.66h3.13v3.13h-3.13zM221.34 660.41h3.13v3.13h-3.13zM223.97 662.8h3.13v3.13h-3.13zM225.87 752.57h3.13v3.13h-3.13zM228.5 756.14h3.13v3.13h-3.13zM230.88 698.69h3.13v3.13h-3.13zM233.26 640.75h3.13v3.13h-3.13zM235.65 671.74h3.13v3.13h-3.13zM238.03 704.29h3.13v3.13h-3.13zM240.18 759.72h3.13v3.13h-3.13zM242.8 753.16h3.13v3.13h-3.13zM245.18 649.09h3.13v3.13h-3.13zM247.57 653.26h3.13v3.13h-3.13zM249.95 654.46h3.13v3.13h-3.13zM252.33 719.19h3.13v3.13h-3.13zM254.72 754.71h3.13v3.13h-3.13zM257.06 688.79h3.13v3.13h-3.13zM259.4 622.87h3.13v3.13h-3.13zM261.55 657.79h3.13v3.13h-3.13zM263.93 662.8h3.13v3.13h-3.13zM266.31 749.59h3.13v3.13h-3.13zM268.7 748.39h3.13v3.13h-3.13zM271.08 670.19h3.13v3.13h-3.13zM273.47 645.16h3.13v3.13h-3.13zM276.09 655.89h3.13v3.13h-3.13zM278.23 711.45h3.13v3.13h-3.13zM280.62 756.74h3.13v3.13h-3.13zM283 741.6h3.13v3.13h-3.13zM285.15 640.39h3.13v3.13h-3.13zM287.77 653.86h3.13v3.13h-3.13zM290.39 657.08h3.13v3.13h-3.13zM292.77 738.26h3.13v3.13h-3.13zM294.92 758.29h3.13v3.13h-3.13zM297.3 712.04h3.13v3.13h-3.13zM299.69 642.77h3.13v3.13h-3.13zM302.31 668.52h3.13v3.13h-3.13zM304.46 714.6h3.13v3.13h-3.13zM306.6 760.67h3.13v3.13h-3.13zM309.22 755.55h3.13v3.13h-3.13zM311.61 666.61h3.13v3.13h-3.13zM313.99 669.71h3.13v3.13h-3.13z" fill="#000"/>
<path d="M35.72 705.26 38.1 686.77 40.49 660.19 42.87 645.29 45.26 642.31 47.64 648.87 50.26 663.17 52.41 681.64 54.79 702.88 57.18 721.95 59.56 739.23 61.94 753.18 64.33 764.62 66.71 770.22 69.09 773.2 71.48 774.15 73.86 773.2 76.25 763.07 78.63 756.51 81.01 762.47 83.4 770.58 85.78 757.11 88.16 765.45 90.55 769.03 92.93 776.78 95.32 767.24 97.7 766.05 100.08 768.43 102.11 777.73 104.49 776.18 107.15 760.69 109.17 687.01 111.56 652.44 114.3 638.14 116.32 657.21 119.06 676.88 121.45 664.36 123.47 624.43 126.22 645.89 128.6 677.47 130.03 733.87 133.01 742.81 135.39 732.68 137.78 716.59 140.16 685.82 142.9 696.92 145.29 737.44 147.31 760.09 149.34 752.34 152.08 681.05 154.46 644.1 156.85 651.25 159.23 662.93 161.62 609.3 164 629.8 166.38 636.35 168.77 678.07 171.15 688.2 173.18 611.32 175.56 629.2 177.94 641.12 180.09 696.92 182.47 706.45 185.01 654.23 187.63 591.06 190.13 608.58 192.51 635.16 197.28 713.01 199.31 660.79 201.69 616.09 204.08 653.64 208.61 759.14 210.99 749.96 213.61 672.11 215.76 699.9 218.14 718.97 220.52 765.1 223.15 771.77 225.29 755.32 227.68 724.93 230.06 736.25 232.44 763.07 234.83 768.19 237.21 755.32 239.59 664.96 241.98 671.51 244.36 672.71 249.13 753.18 251.51 708.24 253.66 676.88 256.28 694.16 258.34 754.73 260.97 769.86 263.35 776.54 265.49 766.05 267.88 735.06 270.26 735.66 272.65 760.69 275.03 771.05 277.65 770.82 280.04 748.17 282.42 724.33 284.56 733.87 286.71 762.47 289.33 770.82 291.72 751.15 294.34 693.94 296.72 704.67 298.87 735.06 301.25 761.28 303.64 763.07 306.02 737.44 308.16 665.32 310.79 675.69 312.93 695.49 315.32 748.77" fill="none" stroke="#00f" stroke-width="0.65" stroke-linejoin="round"/>
<path d="M33.97 705.26a1.75 1.75 0 1 0 3.5 0a1.75 1.75 0 1 0 -3.5 0zM36.36 686.77a1.75 1.75 0 1 0 3.5 0a1.75 1.75 0 1 0 -3.5 0zM38.74 660.19a1.75 1.75 0 1 0 3.5 0a1.75 1.75 0 1 0 -3.5 0zM41.12 645.29a1.75 1.75 0 1 0 3.5 0a1.75 1.75 0 1 0 -3.5 0zM43.51 642.31a1.75 1.75 0 1 0 3.5 0a1.75 1.75 0 1 0 -3.5 0zM45.89 648.87a1.75 1.75 0 1 0 3.5 0a1.75 1.75 0 1 0 -3.5 0zM48.51 663.17a1.75 1.75 0 1 0 3.5 0a1.75 1.75 0 1 0 -3.5 0zM50.66 681.64a1.75 1.75 0 1 0 3.5 0a1.75 1.75 0 1 0 -3.5 0zM53.04 702.88a1.75 1.75 0 1 0 3.5 0a1.75 1.75 0 1 0 -3.5 0zM55.43 721.95a1.75 1.75 0 1 0 3.5 0a1.75 1.75 0 1 0 -3.5 0zM57.81 739.23a1.75 1.75 0 1 0 3.5 0a1.75 1.75 0 1 0 -3.5 0zM60.19 753.18a1.75 1.75 0 1 0 3.5 0a1.75 1.75 0 1 0 -3.5 0zM62.58 764.62a1.75 1.75 0 1 0 3.5 0a1.75 1.75 0 1 0 -3.5 0zM64.96 770.22a1.75 1.75 0 1 0 3.5 0a1.75 1.75 0 1 0 -3.5 0zM67.35 773.2a1.75 1.75 0 1 0 3.5 0a1.75 1.75 0 1 0 -3.5 0zM69.73 774.15a1.75 1.75 0 1 0 3.5 0a1.75 1.75 0 1 0 -3.5 0zM72.11 773.2a1.75 1.75 0 1 0 3.5 0a1.75 1.75 0 1 0 -3.5 0zM74.5 763.07a1.75 1.75 0 1 0 3.5 0a1.75 1.75 0 1 0 -3.5 0zM76.88 756.51a1.75 1.75 0 1 0 3.5 0a1.75 1.75 0 1 0 -3.5 0zM79.27 762.47a1.75 1.75 0 1 0 3.5 0a1.75 1.75 0 1 0 -3.5 0zM81.65 770.58a1.75 1.75 0 1 0 3.5 0a1.75 1.75 0 1 0 -3.5 0zM84.03 757.11a1.75 1.75 0 1 0 3.5 0a1.75 1.75 0 1 0 -3.5 0zM86.42 765.45a1.75 1.75 0 1 0 3.5 0a1.75 1.75 0 1 0 -3.5 0zM88.8 769.03a1.75 1.75 0 1 0 3.5 0a1.75 1.75 0 1 0 -3.5 0zM91.18 776.78a1.75 1.75 0 1 0 3.5 0a1.75 1.75 0 1 0 -3.5 0zM93.57 767.24a1.75 1.75 0 1 0 3.5 0a1.75 1.75 0 1 0 -3.5 0zM95.95 766.05a1.75 1.75 0 1 0 3.5 0a1.75 1.75 0 1 0 -3.5 0zM98.34 768.43a1.75 1.75 0 1 0 3.5 0a1.75 1.75 0 1 0 -3.5 0zM100.36 777.73a1.75 1.75 0 1 0 3.5 0a1.75 1.75 0 1 0 -3.5 0zM102.75 776.18a1.75 1.75 0 1 0 3.5 0a1.75 1.75 0 1 0 -3.5 0zM105.4 760.69a1.75 1.75 0 1 0 3.5 0a1.75 1.75 0 1 0 -3.5 0zM107.42 687.01a1.75 1.75 0 1 0 3.5 0a1.75 1.75 0 1 0 -3.5 0zM109.81 652.44a1.75 1.75 0 1 0 3.5 0a1.75 1.75 0 1 0 -3.5 0zM112.55 638.14a1.75 1.75 0 1 0 3.5 0a1.75 1.75 0 1 0 -3.5 0zM114.58 657.21a1.75 1.75 0 1 0 3.5 0a1.75 1.75 0 1 0 -3.5 0zM117.32 676.88a1.75 1.75 0 1 0 3.5 0a1.75 1.75 0 1 0 -3.5 0zM119.7 664.36a1.75 1.75 0 1 0 3.5 0a1.75 1.75 0 1 0 -3.5 0zM121.73 624.43a1.75 1.75 0 1 0 3.5 0a1.75 1.75 0 1 0 -3.5 0zM124.47 645.89a1.75 1.75 0 1 0 3.5 0a1.75 1.75 0 1 0 -3.5 0zM126.85 677.47a1.75 1.75 0 1 0 3.5 0a1.75 1.75 0 1 0 -3.5 0zM128.28 733.87a1.75 1.75 0 1 0 3.5 0a1.75 1.75 0 1 0 -3.5 0zM131.26 742.81a1.75 1.75 0 1 0 3.5 0a1.75 1.75 0 1 0 -3.5 0zM133.65 732.68a1.75 1.75 0 1 0 3.5 0a1.75 1.75 0 1 0 -3.5 0zM136.03 716.59a1.75 1.75 0 1 0 3.5 0a1.75 1.75 0 1 0 -3.5 0zM138.41 685.82a1.75 1.75 0 1 0 3.5 0a1.75 1.75 0 1 0 -3.5 0zM141.15 696.92a1.75 1.75 0 1 0 3.5 0a1.75 1.75 0 1 0 -3.5 0zM143.54 737.44a1.75 1.75 0 1 0 3.5 0a1.75 1.75 0 1 0 -3.5 0zM145.56 760.09a1.75 1.75 0 1 0 3.5 0a1.75 1.75 0 1 0 -3.5 0zM147.59 752.34a1.75 1.75 0 1 0 3.5 0a1.75 1.75 0 1 0 -3.5 0zM150.33 681.05a1.75 1.75 0 1 0 3.5 0a1.75 1.75 0 1 0 -3.5 0zM152.72 644.1a1.75 1.75 0 1 0 3.5 0a1.75 1.75 0 1 0 -3.5 0zM155.1 651.25a1.75 1.75 0 1 0 3.5 0a1.75 1.75 0 1 0 -3.5 0zM157.48 662.93a1.75 1.75 0 1 0 3.5 0a1.75 1.75 0 1 0 -3.5 0zM159.87 609.3a1.75 1.75 0 1 0 3.5 0a1.75 1.75 0 1 0 -3.5 0zM162.25 629.8a1.75 1.75 0 1 0 3.5 0a1.75 1.75 0 1 0 -3.5 0zM164.63 636.35a1.75 1.75 0 1 0 3.5 0a1.75 1.75 0 1 0 -3.5 0zM167.02 678.07a1.75 1.75 0 1 0 3.5 0a1.75 1.75 0 1 0 -3.5 0zM169.4 688.2a1.75 1.75 0 1 0 3.5 0a1.75 1.75 0 1 0 -3.5 0zM171.43 611.32a1.75 1.75 0 1 0 3.5 0a1.75 1.75 0 1 0 -3.5 0zM173.81 629.2a1.75 1.75 0 1 0 3.5 0a1.75 1.75 0 1 0 -3.5 0zM176.2 641.12a1.75 1.75 0 1 0 3.5 0a1.75 1.75 0 1 0 -3.5 0zM178.34 696.92a1.75 1.75 0 1 0 3.5 0a1.75 1.75 0 1 0 -3.5 0zM180.73 706.45a1.75 1.75 0 1 0 3.5 0a1.75 1.75 0 1 0 -3.5 0zM183.26 654.23a1.75 1.75 0 1 0 3.5 0a1.75 1.75 0 1 0 -3.5 0zM185.88 591.06a1.75 1.75 0 1 0 3.5 0a1.75 1.75 0 1 0 -3.5 0zM188.38 608.58a1.75 1.75 0 1 0 3.5 0a1.75 1.75 0 1 0 -3.5 0zM190.77 635.16a1.75 1.75 0 1 0 3.5 0a1.75 1.75 0 1 0 -3.5 0zM193.15 674.09a1.75 1.75 0 1 0 3.5 0a1.75 1.75 0 1 0 -3.5 0zM195.53 713.01a1.75 1.75 0 1 0 3.5 0a1.75 1.75 0 1 0 -3.5 0zM197.56 660.79a1.75 1.75 0 1 0 3.5 0a1.75 1.75 0 1 0 -3.5 0zM199.94 616.09a1.75 1.75 0 1 0 3.5 0a1.75 1.75 0 1 0 -3.5 0zM202.33 653.64a1.75 1.75 0 1 0 3.5 0a1.75 1.75 0 1 0 -3.5 0zM204.59 706.39a1.75 1.75 0 1 0 3.5 0a1.75 1.75 0 1 0 -3.5 0zM206.86 759.14a1.75 1.75 0 1 0 3.5 0a1.75 1.75 0 1 0 -3.5 0zM209.24 749.96a1.75 1.75 0 1 0 3.5 0a1.75 1.75 0 1 0 -3.5 0zM211.86 672.11a1.75 1.75 0 1 0 3.5 0a1.75 1.75 0 1 0 -3.5 0zM214.01 699.9a1.75 1.75 0 1 0 3.5 0a1.75 1.75 0 1 0 -3.5 0zM216.39 718.97a1.75 1.75 0 1 0 3.5 0a1.75 1.75 0 1 0 -3.5 0zM218.78 765.1a1.75 1.75 0 1 0 3.5 0a1.75 1.75 0 1 0 -3.5 0zM221.4 771.77a1.75 1.75 0 1 0 3.5 0a1.75 1.75 0 1 0 -3.5 0zM223.54 755.32a1.75 1.75 0 1 0 3.5 0a1.75 1.75 0 1 0 -3.5 0zM225.93 724.93a1.75 1.75 0 1 0 3.5 0a1.75 1.75 0 1 0 -3.5 0zM228.31 736.25a1.75 1.75 0 1 0 3.5 0a1.75 1.75 0 1 0 -3.5 0zM230.7 763.07a1.75 1.75 0 1 0 3.5 0a1.75 1.75 0 1 0 -3.5 0zM233.08 768.19a1.75 1.75 0 1 0 3.5 0a1.75 1.75 0 1 0 -3.5 0zM235.46 755.32a1.75 1.75 0 1 0 3.5 0a1.75 1.75 0 1 0 -3.5 0zM237.85 664.96a1.75 1.75 0 1 0 3.5 0a1.75 1.75 0 1 0 -3.5 0zM240.23 671.51a1.75 1.75 0 1 0 3.5 0a1.75 1.75 0 1 0 -3.5 0zM242.61 672.71a1.75 1.75 0 1 0 3.5 0a1.75 1.75 0 1 0 -3.5 0zM245 712.94a1.75 1.75 0 1 0 3.5 0a1.75 1.75 0 1 0 -3.5 0zM247.38 753.18a1.75 1.75 0 1 0 3.5 0a1.75 1.75 0 1 0 -3.5 0zM249.77 708.24a1.75 1.75 0 1 0 3.5 0a1.75 1.75 0 1 0 -3.5 0zM251.91 676.88a1.75 1.75 0 1 0 3.5 0a1.75 1.75 0 1 0 -3.5 0zM254.53 694.16a1.75 1.75 0 1 0 3.5 0a1.75 1.75 0 1 0 -3.5 0zM256.6 754.73a1.75 1.75 0 1 0 3.5 0a1.75 1.75 0 1 0 -3.5 0zM259.22 769.86a1.75 1.75 0 1 0 3.5 0a1.75 1.75 0 1 0 -3.5 0zM261.6 776.54a1.75 1.75 0 1 0 3.5 0a1.75 1.75 0 1 0 -3.5 0zM263.75 766.05a1.75 1.75 0 1 0 3.5 0a1.75 1.75 0 1 0 -3.5 0zM266.13 735.06a1.75 1.75 0 1 0 3.5 0a1.75 1.75 0 1 0 -3.5 0zM268.51 735.66a1.75 1.75 0 1 0 3.5 0a1.75 1.75 0 1 0 -3.5 0zM270.9 760.69a1.75 1.75 0 1 0 3.5 0a1.75 1.75 0 1 0 -3.5 0zM273.28 771.05a1.75 1.75 0 1 0 3.5 0a1.75 1.75 0 1 0 -3.5 0zM275.9 770.82a1.75 1.75 0 1 0 3.5 0a1.75 1.75 0 1 0 -3.5 0zM278.29 748.17a1.75 1.75 0 1 0 3.5 0a1.75 1.75 0 1 0 -3.5 0zM280.67 724.33a1.75 1.75 0 1 0 3.5 0a1.75 1.75 0 1 0 -3.5 0zM282.82 733.87a1.75 1.75 0 1 0 3.5 0a1.75 1.75 0 1 0 -3.5 0zM284.96 762.47a1.75 1.75 0 1 0 3.5 0a1.75 1.75 0 1 0 -3.5 0zM287.58 770.82a1.75 1.75 0 1 0 3.5 0a1.75 1.75 0 1 0 -3.5 0zM289.97 751.15a1.75 1.75 0 1 0 3.5 0a1.75 1.75 0 1 0 -3.5 0zM292.59 693.94a1.75 1.75 0 1 0 3.5 0a1.75 1.75 0 1 0 -3.5 0zM294.97 704.67a1.75 1.75 0 1 0 3.5 0a1.75 1.75 0 1 0 -3.5 0zM297.12 735.06a1.75 1.75 0 1 0 3.5 0a1.75 1.75 0 1 0 -3.5 0zM299.5 761.28a1.75 1.75 0 1 0 3.5 0a1.75 1.75 0 1 0 -3.5 0zM301.89 763.07a1.75 1.75 0 1 0 3.5 0a1.75 1.75 0 1 0 -3.5 0zM304.27 737.44a1.75 1.75 0 1 0 3.5 0a1.75 1.75 0 1 0 -3.5 0zM306.42 665.32a1.75 1.75 0 1 0 3.5 0a1.75 1.75 0 1 0 -3.5 0zM309.04 675.69a1.75 1.75 0 1 0 3.5 0a1.75 1.75 0 1 0 -3.5 0zM311.18 695.49a1.75 1.75 0 1 0 3.5 0a1.75 1.75 0 1 0 -3.5 0zM313.57 748.77a1.75 1.75 0 1 0 3.5 0a1.75 1.75 0 1 0 -3.5 0z" fill="#00f"/>
<path d="M33.34 708.84 35.96 705.86 38.1 683.43 40.49 652.44 42.87 634.56 45.26 625.63 47.88 624.43 50.26 627.65 52.65 636.35 55.03 654.23 57.65 676.28 59.56 707.05 61.94 735.06 64.33 745.19 66.71 735.06 69.09 714.8 71.48 718.97 73.86 726.72 75.89 705.26 78.27 701.69 81.01 723.14 83.4 754.13 85.78 739.83 88.16 707.65 90.55 737.44 92.93 767.24 94.96 773.2 97.34 726.72 99.73 732.08 102.11 753.53 104.49 770.58 106.79 766.05 109.17 691.56 111.56 695.73 113.94 708.84 116.32 723.74 118.71 656.02 121.09 626.82 123.47 625.63 126.22 654.23 127.65 715.99 130.03 692.15 132.41 696.32 135.39 717.18 137.42 755.32 139.8 754.73 142.54 721.35 144.93 744.59 146.95 764.86 149.34 767.84 151.72 726.72 154.11 710.03 156.85 725.52 158.64 757.71 161.02 758.9 164 684.62 166.03 713.61 168.41 723.74 170.55 753.53 175.92 667.34 177.94 682.24 180.33 732.68 182.62 739.83 185.01 658.4 187.39 672.71 190.13 675.09 191.92 733.27 194.3 729.34 196.92 663.77 199.31 681.05 201.45 709.43 203.84 735.66 206.22 699.3 208.61 704.67 211.23 727.91 213.61 749.96 215.76 728.15 218.38 685.22 220.52 713.01 222.91 755.32 225.05 759.49 227.44 703.47 230.06 710.63 232.44 715.39 234.59 761.28 236.97 758.3 239.59 663.17 241.98 683.43 244.36 673.9 246.51 740.07 249.13 709.43 251.51 629.2 253.9 657.21 256.28 678.67 258.34 736.25 260.97 682.24 263.35 681.05 265.49 689.15 267.88 748.17 270.5 733.87 272.65 684.86 275.03 696.92 277.41 742.21 279.8 751.15 282.18 688.2 284.56 692.97 286.95 707.65 289.33 753.53 291.72 743.4 294.1 678.07 298.63 725.52 301.25 759.49 303.4 727.31 305.78 676.28 308.4 688.2 310.79 739.23 312.93 752.7 315.79 698.11" fill="none" stroke="#f00" stroke-width="0.65" stroke-linejoin="round"/>
<path d="M33.34 706.51L35.45 710.42L31.22 710.42zM35.96 703.53L38.08 707.45L33.84 707.45zM38.1 681.11L40.22 685.02L35.99 685.02zM40.49 650.12L42.6 654.03L38.37 654.03zM42.87 632.24L44.99 636.15L40.76 636.15zM45.26 623.3L47.37 627.21L43.14 627.21zM47.88 622.11L49.99 626.02L45.76 626.02zM50.26 625.32L52.38 629.24L48.15 629.24zM52.65 634.03L54.76 637.94L50.53 637.94zM55.03 651.9L57.15 655.82L52.91 655.82zM57.65 673.95L59.77 677.87L55.54 677.87zM59.56 704.72L61.67 708.64L57.44 708.64zM61.94 732.73L64.06 736.65L59.83 736.65zM64.33 742.86L66.44 746.78L62.21 746.78zM66.71 732.73L68.83 736.65L64.59 736.65zM69.09 712.47L71.21 716.38L66.98 716.38zM71.48 716.64L73.59 720.56L69.36 720.56zM73.86 724.39L75.98 728.3L71.75 728.3zM75.89 702.93L78 706.85L73.77 706.85zM78.27 699.36L80.39 703.27L76.16 703.27zM81.01 720.81L83.13 724.73L78.9 724.73zM83.4 751.8L85.51 755.72L81.28 755.72zM85.78 737.5L87.9 741.41L83.66 741.41zM88.16 705.32L90.28 709.23L86.05 709.23zM90.55 735.12L92.66 739.03L88.43 739.03zM92.93 764.91L95.05 768.83L90.82 768.83zM94.96 770.87L97.07 774.79L92.84 774.79zM97.34 724.39L99.46 728.3L95.23 728.3zM99.73 729.75L101.84 733.67L97.61 733.67zM102.11 751.21L104.23 755.12L99.99 755.12zM104.49 768.25L106.61 772.17L102.38 772.17zM106.79 763.72L108.9 767.64L104.67 767.64zM109.17 689.23L111.29 693.14L107.06 693.14zM111.56 693.4L113.67 697.31L109.44 697.31zM113.94 706.51L116.06 710.42L111.82 710.42zM116.32 721.41L118.44 725.32L114.21 725.32zM118.71 653.69L120.82 657.61L116.59 657.61zM121.09 624.49L123.21 628.4L118.97 628.4zM123.47 623.3L125.59 627.21L121.36 627.21zM126.22 651.9L128.33 655.82L124.1 655.82zM127.65 713.66L129.76 717.58L125.53 717.58zM130.03 689.82L132.15 693.74L127.91 693.74zM132.41 694L134.53 697.91L130.3 697.91zM135.39 714.85L137.51 718.77L133.28 718.77zM137.42 752.99L139.54 756.91L135.3 756.91zM139.8 752.4L141.92 756.31L137.69 756.31zM142.54 719.03L144.66 722.94L140.43 722.94zM144.93 742.27L147.04 746.18L142.81 746.18zM146.95 762.53L149.07 766.44L144.84 766.44zM149.34 765.51L151.45 769.42L147.22 769.42zM151.72 724.39L153.84 728.3L149.61 728.3zM154.11 707.7L156.22 711.62L151.99 711.62zM156.85 723.2L158.96 727.11L154.73 727.11zM158.64 755.38L160.75 759.29L156.52 759.29zM161.02 756.57L163.14 760.48L158.9 760.48zM164 682.3L166.11 686.21L161.88 686.21zM166.03 711.28L168.14 715.19L163.91 715.19zM168.41 721.41L170.52 725.32L166.29 725.32zM170.55 751.21L172.67 755.12L168.44 755.12zM173.24 708.11L175.35 712.03L171.12 712.03zM175.92 665.01L178.03 668.93L173.8 668.93zM177.94 679.91L180.06 683.83L175.83 683.83zM180.33 730.35L182.44 734.26L178.21 734.26zM182.62 737.5L184.74 741.41L180.51 741.41zM185.01 656.08L187.12 659.99L182.89 659.99zM187.39 670.38L189.51 674.29L185.27 674.29zM190.13 672.76L192.25 676.68L188.02 676.68zM191.92 730.94L194.03 734.86L189.8 734.86zM194.3 727.01L196.42 730.93L192.19 730.93zM196.92 661.44L199.04 665.35L194.81 665.35zM199.31 678.72L201.42 682.64L197.19 682.64zM201.45 707.11L203.57 711.02L199.34 711.02zM203.84 733.33L205.95 737.24L201.72 737.24zM206.22 696.98L208.34 700.89L204.11 700.89zM208.61 702.34L210.72 706.25L206.49 706.25zM211.23 725.58L213.34 729.5L209.11 729.5zM213.61 747.63L215.73 751.55L211.5 751.55zM215.76 725.82L217.87 729.73L213.64 729.73zM218.38 682.89L220.5 686.81L216.26 686.81zM220.52 710.68L222.64 714.6L218.41 714.6zM222.91 752.99L225.02 756.91L220.79 756.91zM225.05 757.17L227.17 761.08L222.94 761.08zM227.44 701.15L229.55 705.06L225.32 705.06zM230.06 708.3L232.18 712.21L227.94 712.21zM232.44 713.07L234.56 716.98L230.33 716.98zM234.59 758.95L236.7 762.87L232.47 762.87zM236.97 755.97L239.09 759.89L234.86 759.89zM239.59 660.84L241.71 664.76L237.48 664.76zM241.98 681.11L244.09 685.02L239.86 685.02zM244.36 671.57L246.48 675.48L242.25 675.48zM246.51 737.74L248.62 741.65L244.39 741.65zM249.13 707.11L251.25 711.02L247.01 711.02zM251.51 626.87L253.63 630.79L249.4 630.79zM253.9 654.88L256.01 658.8L251.78 658.8zM256.28 676.34L258.4 680.25L254.17 680.25zM258.34 733.92L260.46 737.84L256.23 737.84zM260.97 679.91L263.08 683.83L258.85 683.83zM263.35 678.72L265.47 682.64L261.23 682.64zM265.49 686.83L267.61 690.74L263.38 690.74zM267.88 745.84L269.99 749.76L265.76 749.76zM270.5 731.54L272.62 735.45L268.38 735.45zM272.65 682.54L274.76 686.45L270.53 686.45zM275.03 694.59L277.15 698.51L272.91 698.51zM277.41 739.88L279.53 743.8L275.3 743.8zM279.8 748.82L281.91 752.74L277.68 752.74zM282.18 685.87L284.3 689.79L280.07 689.79zM284.56 690.64L286.68 694.55L282.45 694.55zM286.95 705.32L289.06 709.23L284.83 709.23zM289.33 751.21L291.45 755.12L287.22 755.12zM291.72 741.08L293.83 744.99L289.6 744.99zM294.1 675.74L296.22 679.66L291.98 679.66zM296.36 699.47L298.48 703.38L294.25 703.38zM298.63 723.2L300.75 727.11L296.51 727.11zM301.25 757.17L303.37 761.08L299.14 761.08zM303.4 724.98L305.51 728.9L301.28 728.9zM305.78 673.95L307.9 677.87L303.66 677.87zM308.4 685.87L310.52 689.79L306.29 689.79zM310.79 736.9L312.9 740.82L308.67 740.82zM312.93 750.37L315.05 754.29L310.82 754.29zM315.79 695.78L317.91 699.7L313.68 699.7z" fill="#f00"/>
<path d="M392.38 769.99 395.36 771.18 397.75 771.78 400.13 771.18 402.51 769.99 404.9 769.39 407.64 768.8 410.26 768.2 412.65 760.45 415.03 743.17 417.41 715.76 419.56 696.69 421.94 704.43 424.56 736.62 426.95 759.26 429.33 767.6 431.72 769.99 434.1 770.58 436.48 764.03 438.63 721.72 441.01 713.97 443.64 752.71 445.42 769.39 448.16 770.58 450.55 747.94 452.57 697.28 455.32 746.75 457.7 770.58 460.08 771.18 462.47 765.22 464.49 720.52 467.23 731.25 469.67 770.07 473.76 770.66 476.68 770.66 479.6 770.66 482.52 771.01 485.44 771.01 488.36 738.31 490.46 711.91 493.03 743.8 495.6 770.07 498.87 770.66 502.37 756.64 505.29 756.99 507.63 771.24 509.96 771.24 514.05 765.99 516.15 727.45 518.96 747.88 521.06 771.24 523.39 771.82 525.73 771.24 528.65 770.66 530.99 746.72 533.32 770.66 536.24 770.66 538.58 770.66 540.68 758.39 542.57 708.76 544.67 742.04 547.59 771.24 549.93 771.24 554.25 763.07 556.58 732.12 558.92 766.57 561.61 770.07 563.94 770.66 568.37 681.23 570.75 685.76 573.28 765.99 575.62 770.66 580.29 727.8 582.67 657.39 584.96 738.54 587.3 770.66 590.22 771.24 594.31 723.12 596.97 688.38 600.73 770.66 604 770.66 606.57 760.15 608.53 685.52 613.34 766.57 615.91 770.66 619.42 711.68 622.88 654.87 625.44 745.55 628.36 770.66 631.28 763.65 634.56 685.98 636.94 680.86 639.1 766.57 642.96 771.24 646.46 751.39 649.1 670.13 651.48 714.95 655.8 770.66 659.31 771.24 660.82 727.8 663.16 681.22 665.5 761.9 668.07 771.24 670.99 770.07 674.84 722.19" fill="none" stroke="#000" stroke-width="0.65" stroke-linejoin="round"/>
<path d="M390.68 768.29h3.4v3.4h-3.4zM393.66 769.48h3.4v3.4h-3.4zM396.05 770.08h3.4v3.4h-3.4zM398.43 769.48h3.4v3.4h-3.4zM400.81 768.29h3.4v3.4h-3.4zM403.2 767.69h3.4v3.4h-3.4zM405.94 767.1h3.4v3.4h-3.4zM408.56 766.5h3.4v3.4h-3.4zM410.95 758.75h3.4v3.4h-3.4zM413.33 741.47h3.4v3.4h-3.4zM415.71 714.06h3.4v3.4h-3.4zM417.86 694.99h3.4v3.4h-3.4zM420.24 702.73h3.4v3.4h-3.4zM422.86 734.92h3.4v3.4h-3.4zM425.25 757.56h3.4v3.4h-3.4zM427.63 765.9h3.4v3.4h-3.4zM430.02 768.29h3.4v3.4h-3.4zM432.4 768.88h3.4v3.4h-3.4zM434.78 762.33h3.4v3.4h-3.4zM436.93 720.02h3.4v3.4h-3.4zM439.31 712.27h3.4v3.4h-3.4zM441.94 751.01h3.4v3.4h-3.4zM443.72 767.69h3.4v3.4h-3.4zM446.46 768.88h3.4v3.4h-3.4zM448.85 746.24h3.4v3.4h-3.4zM450.87 695.58h3.4v3.4h-3.4zM453.62 745.05h3.4v3.4h-3.4zM456 768.88h3.4v3.4h-3.4zM458.38 769.48h3.4v3.4h-3.4zM460.77 763.52h3.4v3.4h-3.4zM462.79 718.82h3.4v3.4h-3.4zM465.53 729.55h3.4v3.4h-3.4zM467.97 768.37h3.4v3.4h-3.4zM470.02 768.66h3.4v3.4h-3.4zM472.06 768.96h3.4v3.4h-3.4zM474.98 768.96h3.4v3.4h-3.4zM477.9 768.96h3.4v3.4h-3.4zM480.82 769.31h3.4v3.4h-3.4zM483.74 769.31h3.4v3.4h-3.4zM486.66 736.61h3.4v3.4h-3.4zM488.76 710.21h3.4v3.4h-3.4zM491.33 742.1h3.4v3.4h-3.4zM493.9 768.37h3.4v3.4h-3.4zM497.17 768.96h3.4v3.4h-3.4zM500.67 754.94h3.4v3.4h-3.4zM503.59 755.29h3.4v3.4h-3.4zM505.93 769.54h3.4v3.4h-3.4zM508.26 769.54h3.4v3.4h-3.4zM510.31 766.91h3.4v3.4h-3.4zM512.35 764.29h3.4v3.4h-3.4zM514.45 725.75h3.4v3.4h-3.4zM517.26 746.18h3.4v3.4h-3.4zM519.36 769.54h3.4v3.4h-3.4zM521.69 770.12h3.4v3.4h-3.4zM524.03 769.54h3.4v3.4h-3.4zM526.95 768.96h3.4v3.4h-3.4zM529.29 745.02h3.4v3.4h-3.4zM531.62 768.96h3.4v3.4h-3.4zM534.54 768.96h3.4v3.4h-3.4zM536.88 768.96h3.4v3.4h-3.4zM538.98 756.69h3.4v3.4h-3.4zM540.87 707.06h3.4v3.4h-3.4zM542.97 740.34h3.4v3.4h-3.4zM545.89 769.54h3.4v3.4h-3.4zM548.23 769.54h3.4v3.4h-3.4zM550.39 765.45h3.4v3.4h-3.4zM552.55 761.37h3.4v3.4h-3.4zM554.88 730.42h3.4v3.4h-3.4zM557.22 764.87h3.4v3.4h-3.4zM559.91 768.37h3.4v3.4h-3.4zM562.24 768.96h3.4v3.4h-3.4zM564.45 724.24h3.4v3.4h-3.4zM566.67 679.53h3.4v3.4h-3.4zM569.05 684.06h3.4v3.4h-3.4zM571.58 764.29h3.4v3.4h-3.4zM573.92 768.96h3.4v3.4h-3.4zM576.26 747.53h3.4v3.4h-3.4zM578.59 726.1h3.4v3.4h-3.4zM580.97 655.69h3.4v3.4h-3.4zM583.26 736.84h3.4v3.4h-3.4zM585.6 768.96h3.4v3.4h-3.4zM588.52 769.54h3.4v3.4h-3.4zM590.56 745.48h3.4v3.4h-3.4zM592.61 721.42h3.4v3.4h-3.4zM595.27 686.68h3.4v3.4h-3.4zM597.15 727.82h3.4v3.4h-3.4zM599.03 768.96h3.4v3.4h-3.4zM602.3 768.96h3.4v3.4h-3.4zM604.87 758.45h3.4v3.4h-3.4zM606.83 683.82h3.4v3.4h-3.4zM609.24 724.34h3.4v3.4h-3.4zM611.64 764.87h3.4v3.4h-3.4zM614.21 768.96h3.4v3.4h-3.4zM617.72 709.98h3.4v3.4h-3.4zM621.18 653.17h3.4v3.4h-3.4zM623.74 743.85h3.4v3.4h-3.4zM626.66 768.96h3.4v3.4h-3.4zM629.58 761.95h3.4v3.4h-3.4zM632.86 684.28h3.4v3.4h-3.4zM635.24 679.16h3.4v3.4h-3.4zM637.4 764.87h3.4v3.4h-3.4zM639.33 767.21h3.4v3.4h-3.4zM641.26 769.54h3.4v3.4h-3.4zM644.76 749.69h3.4v3.4h-3.4zM647.4 668.43h3.4v3.4h-3.4zM649.78 713.25h3.4v3.4h-3.4zM651.94 741.1h3.4v3.4h-3.4zM654.1 768.96h3.4v3.4h-3.4zM657.61 769.54h3.4v3.4h-3.4zM659.12 726.1h3.4v3.4h-3.4zM661.46 679.52h3.4v3.4h-3.4zM663.8 760.2h3.4v3.4h-3.4zM666.37 769.54h3.4v3.4h-3.4zM669.29 768.37h3.4v3.4h-3.4zM671.21 744.43h3.4v3.4h-3.4zM673.14 720.49h3.4v3.4h-3.4z" fill="#000"/>
<path d="M393.34 765.58 395.72 766.05 398.34 763.43 400.97 744.96 403.35 729.46 405.49 725.29 407.88 730.66 410.26 747.34 412.65 763.43 415.03 771.18 417.65 772.37 420.04 774.76 422.42 775.95 424.8 777.14 427.19 775.95 429.57 774.76 431.95 774.16 434.34 775.35 436.48 774.76 438.87 774.16 441.25 772.97 443.64 773.56 446.02 772.97 448.4 774.16 450.79 774.76 453.17 774.16 455.55 771.78 457.94 772.37 460.32 773.56 462.71 774.16 465.09 774.16 467.4 772.5 469.67 765.4 471.42 700.23 473.94 687.08 476.09 754.31 478.78 770.66 481.12 760.15 483.1 707.01 486.22 689.82 488.36 759.56 490.11 775.91 492.45 776.5 494.78 774.74 497.7 772.41 500.04 766.34 502.37 766.34 504.71 770.07 507.04 774.74 509.38 773.58 511.72 770.07 513.87 707.34 516.25 716.88 518.72 759.56 521.02 717.47 523.4 673.37 525.79 691.25 528.65 765.4 530.4 772.41 532.94 703.17 535.32 660.86 537.71 707.94 542.34 775.91 544.91 764.23 547.15 590.97 549.54 585.36 551.68 703.74 554.01 758.39 556.58 777.66 559.27 768.32 561.22 669.67 563.84 694.7 566.28 766.57 568.61 777.08 570.95 774.74 573.28 763.07 575.62 749.05 577.96 766.57 580.29 774.16 582.63 775.91 584.96 777.08 587.3 777.66 589.64 770.07 591.97 773.58 594.31 776.5 597.23 775.91 599.56 763.65 601.66 715.18 604 743.8 606.34 775.33 608.91 775.91 611.01 777.66 613.38 754.31 616 757.23 618.43 773.58 622.52 777.08 625.44 775.91 628.36 774.74 631.28 775.91 634.2 776.5 637.12 775.91 640.04 774.74 642.96 774.74 645.88 773.58 648.8 775.91 651.72 774.74 654.64 763.07 657.32 772.41 659.89 776.5 662.81 775.33 665.73 773.58 667.83 754.31 670.17 726.86 672.5 765.4 675.07 775.33" fill="none" stroke="#00f" stroke-width="0.65" stroke-linejoin="round"/>
<path d="M391.44 765.58a1.9 1.9 0 1 0 3.8 0a1.9 1.9 0 1 0 -3.8 0zM393.82 766.05a1.9 1.9 0 1 0 3.8 0a1.9 1.9 0 1 0 -3.8 0zM396.44 763.43a1.9 1.9 0 1 0 3.8 0a1.9 1.9 0 1 0 -3.8 0zM399.07 744.96a1.9 1.9 0 1 0 3.8 0a1.9 1.9 0 1 0 -3.8 0zM401.45 729.46a1.9 1.9 0 1 0 3.8 0a1.9 1.9 0 1 0 -3.8 0zM403.59 725.29a1.9 1.9 0 1 0 3.8 0a1.9 1.9 0 1 0 -3.8 0zM405.98 730.66a1.9 1.9 0 1 0 3.8 0a1.9 1.9 0 1 0 -3.8 0zM408.36 747.34a1.9 1.9 0 1 0 3.8 0a1.9 1.9 0 1 0 -3.8 0zM410.75 763.43a1.9 1.9 0 1 0 3.8 0a1.9 1.9 0 1 0 -3.8 0zM413.13 771.18a1.9 1.9 0 1 0 3.8 0a1.9 1.9 0 1 0 -3.8 0zM415.75 772.37a1.9 1.9 0 1 0 3.8 0a1.9 1.9 0 1 0 -3.8 0zM418.14 774.76a1.9 1.9 0 1 0 3.8 0a1.9 1.9 0 1 0 -3.8 0zM420.52 775.95a1.9 1.9 0 1 0 3.8 0a1.9 1.9 0 1 0 -3.8 0zM422.9 777.14a1.9 1.9 0 1 0 3.8 0a1.9 1.9 0 1 0 -3.8 0zM425.29 775.95a1.9 1.9 0 1 0 3.8 0a1.9 1.9 0 1 0 -3.8 0zM427.67 774.76a1.9 1.9 0 1 0 3.8 0a1.9 1.9 0 1 0 -3.8 0zM430.05 774.16a1.9 1.9 0 1 0 3.8 0a1.9 1.9 0 1 0 -3.8 0zM432.44 775.35a1.9 1.9 0 1 0 3.8 0a1.9 1.9 0 1 0 -3.8 0zM434.58 774.76a1.9 1.9 0 1 0 3.8 0a1.9 1.9 0 1 0 -3.8 0zM436.97 774.16a1.9 1.9 0 1 0 3.8 0a1.9 1.9 0 1 0 -3.8 0zM439.35 772.97a1.9 1.9 0 1 0 3.8 0a1.9 1.9 0 1 0 -3.8 0zM441.74 773.56a1.9 1.9 0 1 0 3.8 0a1.9 1.9 0 1 0 -3.8 0zM444.12 772.97a1.9 1.9 0 1 0 3.8 0a1.9 1.9 0 1 0 -3.8 0zM446.5 774.16a1.9 1.9 0 1 0 3.8 0a1.9 1.9 0 1 0 -3.8 0zM448.89 774.76a1.9 1.9 0 1 0 3.8 0a1.9 1.9 0 1 0 -3.8 0zM451.27 774.16a1.9 1.9 0 1 0 3.8 0a1.9 1.9 0 1 0 -3.8 0zM453.65 771.78a1.9 1.9 0 1 0 3.8 0a1.9 1.9 0 1 0 -3.8 0zM456.04 772.37a1.9 1.9 0 1 0 3.8 0a1.9 1.9 0 1 0 -3.8 0zM458.42 773.56a1.9 1.9 0 1 0 3.8 0a1.9 1.9 0 1 0 -3.8 0zM460.81 774.16a1.9 1.9 0 1 0 3.8 0a1.9 1.9 0 1 0 -3.8 0zM463.19 774.16a1.9 1.9 0 1 0 3.8 0a1.9 1.9 0 1 0 -3.8 0zM465.5 772.5a1.9 1.9 0 1 0 3.8 0a1.9 1.9 0 1 0 -3.8 0zM467.77 765.4a1.9 1.9 0 1 0 3.8 0a1.9 1.9 0 1 0 -3.8 0zM469.52 700.23a1.9 1.9 0 1 0 3.8 0a1.9 1.9 0 1 0 -3.8 0zM472.04 687.08a1.9 1.9 0 1 0 3.8 0a1.9 1.9 0 1 0 -3.8 0zM474.19 754.31a1.9 1.9 0 1 0 3.8 0a1.9 1.9 0 1 0 -3.8 0zM476.88 770.66a1.9 1.9 0 1 0 3.8 0a1.9 1.9 0 1 0 -3.8 0zM479.22 760.15a1.9 1.9 0 1 0 3.8 0a1.9 1.9 0 1 0 -3.8 0zM481.2 707.01a1.9 1.9 0 1 0 3.8 0a1.9 1.9 0 1 0 -3.8 0zM484.32 689.82a1.9 1.9 0 1 0 3.8 0a1.9 1.9 0 1 0 -3.8 0zM486.46 759.56a1.9 1.9 0 1 0 3.8 0a1.9 1.9 0 1 0 -3.8 0zM488.21 775.91a1.9 1.9 0 1 0 3.8 0a1.9 1.9 0 1 0 -3.8 0zM490.55 776.5a1.9 1.9 0 1 0 3.8 0a1.9 1.9 0 1 0 -3.8 0zM492.88 774.74a1.9 1.9 0 1 0 3.8 0a1.9 1.9 0 1 0 -3.8 0zM495.8 772.41a1.9 1.9 0 1 0 3.8 0a1.9 1.9 0 1 0 -3.8 0zM498.14 766.34a1.9 1.9 0 1 0 3.8 0a1.9 1.9 0 1 0 -3.8 0zM500.47 766.34a1.9 1.9 0 1 0 3.8 0a1.9 1.9 0 1 0 -3.8 0zM502.81 770.07a1.9 1.9 0 1 0 3.8 0a1.9 1.9 0 1 0 -3.8 0zM505.14 774.74a1.9 1.9 0 1 0 3.8 0a1.9 1.9 0 1 0 -3.8 0zM507.48 773.58a1.9 1.9 0 1 0 3.8 0a1.9 1.9 0 1 0 -3.8 0zM509.82 770.07a1.9 1.9 0 1 0 3.8 0a1.9 1.9 0 1 0 -3.8 0zM511.97 707.34a1.9 1.9 0 1 0 3.8 0a1.9 1.9 0 1 0 -3.8 0zM514.35 716.88a1.9 1.9 0 1 0 3.8 0a1.9 1.9 0 1 0 -3.8 0zM516.82 759.56a1.9 1.9 0 1 0 3.8 0a1.9 1.9 0 1 0 -3.8 0zM519.12 717.47a1.9 1.9 0 1 0 3.8 0a1.9 1.9 0 1 0 -3.8 0zM521.5 673.37a1.9 1.9 0 1 0 3.8 0a1.9 1.9 0 1 0 -3.8 0zM523.89 691.25a1.9 1.9 0 1 0 3.8 0a1.9 1.9 0 1 0 -3.8 0zM526.75 765.4a1.9 1.9 0 1 0 3.8 0a1.9 1.9 0 1 0 -3.8 0zM528.5 772.41a1.9 1.9 0 1 0 3.8 0a1.9 1.9 0 1 0 -3.8 0zM531.04 703.17a1.9 1.9 0 1 0 3.8 0a1.9 1.9 0 1 0 -3.8 0zM533.42 660.86a1.9 1.9 0 1 0 3.8 0a1.9 1.9 0 1 0 -3.8 0zM535.81 707.94a1.9 1.9 0 1 0 3.8 0a1.9 1.9 0 1 0 -3.8 0zM538.12 741.93a1.9 1.9 0 1 0 3.8 0a1.9 1.9 0 1 0 -3.8 0zM540.44 775.91a1.9 1.9 0 1 0 3.8 0a1.9 1.9 0 1 0 -3.8 0zM543.01 764.23a1.9 1.9 0 1 0 3.8 0a1.9 1.9 0 1 0 -3.8 0zM545.25 590.97a1.9 1.9 0 1 0 3.8 0a1.9 1.9 0 1 0 -3.8 0zM547.64 585.36a1.9 1.9 0 1 0 3.8 0a1.9 1.9 0 1 0 -3.8 0zM549.78 703.74a1.9 1.9 0 1 0 3.8 0a1.9 1.9 0 1 0 -3.8 0zM552.11 758.39a1.9 1.9 0 1 0 3.8 0a1.9 1.9 0 1 0 -3.8 0zM554.68 777.66a1.9 1.9 0 1 0 3.8 0a1.9 1.9 0 1 0 -3.8 0zM557.37 768.32a1.9 1.9 0 1 0 3.8 0a1.9 1.9 0 1 0 -3.8 0zM559.32 669.67a1.9 1.9 0 1 0 3.8 0a1.9 1.9 0 1 0 -3.8 0zM561.94 694.7a1.9 1.9 0 1 0 3.8 0a1.9 1.9 0 1 0 -3.8 0zM564.38 766.57a1.9 1.9 0 1 0 3.8 0a1.9 1.9 0 1 0 -3.8 0zM566.71 777.08a1.9 1.9 0 1 0 3.8 0a1.9 1.9 0 1 0 -3.8 0zM569.05 774.74a1.9 1.9 0 1 0 3.8 0a1.9 1.9 0 1 0 -3.8 0zM571.38 763.07a1.9 1.9 0 1 0 3.8 0a1.9 1.9 0 1 0 -3.8 0zM573.72 749.05a1.9 1.9 0 1 0 3.8 0a1.9 1.9 0 1 0 -3.8 0zM576.06 766.57a1.9 1.9 0 1 0 3.8 0a1.9 1.9 0 1 0 -3.8 0zM578.39 774.16a1.9 1.9 0 1 0 3.8 0a1.9 1.9 0 1 0 -3.8 0zM580.73 775.91a1.9 1.9 0 1 0 3.8 0a1.9 1.9 0 1 0 -3.8 0zM583.06 777.08a1.9 1.9 0 1 0 3.8 0a1.9 1.9 0 1 0 -3.8 0zM585.4 777.66a1.9 1.9 0 1 0 3.8 0a1.9 1.9 0 1 0 -3.8 0zM587.74 770.07a1.9 1.9 0 1 0 3.8 0a1.9 1.9 0 1 0 -3.8 0zM590.07 773.58a1.9 1.9 0 1 0 3.8 0a1.9 1.9 0 1 0 -3.8 0zM592.41 776.5a1.9 1.9 0 1 0 3.8 0a1.9 1.9 0 1 0 -3.8 0zM595.33 775.91a1.9 1.9 0 1 0 3.8 0a1.9 1.9 0 1 0 -3.8 0zM597.66 763.65a1.9 1.9 0 1 0 3.8 0a1.9 1.9 0 1 0 -3.8 0zM599.76 715.18a1.9 1.9 0 1 0 3.8 0a1.9 1.9 0 1 0 -3.8 0zM602.1 743.8a1.9 1.9 0 1 0 3.8 0a1.9 1.9 0 1 0 -3.8 0zM604.44 775.33a1.9 1.9 0 1 0 3.8 0a1.9 1.9 0 1 0 -3.8 0zM607.01 775.91a1.9 1.9 0 1 0 3.8 0a1.9 1.9 0 1 0 -3.8 0zM609.11 777.66a1.9 1.9 0 1 0 3.8 0a1.9 1.9 0 1 0 -3.8 0zM611.48 754.31a1.9 1.9 0 1 0 3.8 0a1.9 1.9 0 1 0 -3.8 0zM614.1 757.23a1.9 1.9 0 1 0 3.8 0a1.9 1.9 0 1 0 -3.8 0zM616.53 773.58a1.9 1.9 0 1 0 3.8 0a1.9 1.9 0 1 0 -3.8 0zM618.57 775.33a1.9 1.9 0 1 0 3.8 0a1.9 1.9 0 1 0 -3.8 0zM620.62 777.08a1.9 1.9 0 1 0 3.8 0a1.9 1.9 0 1 0 -3.8 0zM623.54 775.91a1.9 1.9 0 1 0 3.8 0a1.9 1.9 0 1 0 -3.8 0zM626.46 774.74a1.9 1.9 0 1 0 3.8 0a1.9 1.9 0 1 0 -3.8 0zM629.38 775.91a1.9 1.9 0 1 0 3.8 0a1.9 1.9 0 1 0 -3.8 0zM632.3 776.5a1.9 1.9 0 1 0 3.8 0a1.9 1.9 0 1 0 -3.8 0zM635.22 775.91a1.9 1.9 0 1 0 3.8 0a1.9 1.9 0 1 0 -3.8 0zM638.14 774.74a1.9 1.9 0 1 0 3.8 0a1.9 1.9 0 1 0 -3.8 0zM641.06 774.74a1.9 1.9 0 1 0 3.8 0a1.9 1.9 0 1 0 -3.8 0zM643.98 773.58a1.9 1.9 0 1 0 3.8 0a1.9 1.9 0 1 0 -3.8 0zM646.9 775.91a1.9 1.9 0 1 0 3.8 0a1.9 1.9 0 1 0 -3.8 0zM649.82 774.74a1.9 1.9 0 1 0 3.8 0a1.9 1.9 0 1 0 -3.8 0zM652.74 763.07a1.9 1.9 0 1 0 3.8 0a1.9 1.9 0 1 0 -3.8 0zM655.42 772.41a1.9 1.9 0 1 0 3.8 0a1.9 1.9 0 1 0 -3.8 0zM657.99 776.5a1.9 1.9 0 1 0 3.8 0a1.9 1.9 0 1 0 -3.8 0zM660.91 775.33a1.9 1.9 0 1 0 3.8 0a1.9 1.9 0 1 0 -3.8 0zM663.83 773.58a1.9 1.9 0 1 0 3.8 0a1.9 1.9 0 1 0 -3.8 0zM665.93 754.31a1.9 1.9 0 1 0 3.8 0a1.9 1.9 0 1 0 -3.8 0zM668.27 726.86a1.9 1.9 0 1 0 3.8 0a1.9 1.9 0 1 0 -3.8 0zM670.6 765.4a1.9 1.9 0 1 0 3.8 0a1.9 1.9 0 1 0 -3.8 0zM673.17 775.33a1.9 1.9 0 1 0 3.8 0a1.9 1.9 0 1 0 -3.8 0z" fill="#00f"/>
<path d="M393.34 765.82 395.72 767.6 398.1 762.24 400.49 738.16 402.87 715.76 405.26 703.24 407.64 700.86 410.26 705.27 412.65 721.72 415.03 744.36 417.65 762.24 420.04 772.37 422.42 774.76 424.8 775.95 427.19 774.16 429.57 772.97 431.95 773.56 434.34 772.97 436.48 771.18 438.63 769.39 441.01 774.16 443.4 773.56 445.78 771.78 447.81 768.2 450.19 774.76 452.57 774.16 454.96 772.97 457.34 771.18 459.73 774.16 462.11 775.35 464.49 774.16 466.88 770.58 467.34 770.07 471.42 744.96 473.76 773.58 476.09 773.58 478.78 754.31 480.49 659.07 483.47 647.75 485.44 746.13 487.77 772.99 490.11 773.58 493.03 766.57 495.6 772.99 497.93 775.91 500.04 774.74 502.37 772.99 504.71 773.58 507.04 775.91 509.38 774.74 511.72 772.99 514.05 771.24 516.39 774.74 518.72 777.08 521.06 773.58 523.39 771.24 525.73 756.64 528.07 773.58 530.4 775.33 532.74 770.07 535.07 723.36 537.41 728.03 542.34 773.58 544.91 744.96 547.24 725.69 549.58 753.14 552.26 774.74 554.6 774.16 556.93 758.98 558.92 744.38 561.61 770.66 563.94 774.16 566.28 773.58 568.61 770.07 570.95 775.33 573.28 776.5 575.62 773.58 577.96 767.15 580.29 766.57 582.63 775.91 584.96 774.74 587.3 772.41 589.99 757.23 591.97 770.07 594.31 776.5 596.99 775.33 599.33 761.9 601.66 716.35 604 753.72 606.34 775.91 608.91 770.07 610.92 691.72 613.3 692.91 615.91 761.9 618.25 774.74 620.77 765.99 622.75 749.05 625.44 760.15 627.77 775.91 630.11 771.82 632.45 764.23 634.78 754.89 637.12 775.91 639.45 774.74 641.79 767.15 644.12 752.55 646.46 768.91 648.8 775.91 651.13 773.58 653.47 761.9 655.8 744.96 658.14 772.41 660.82 777.08 663.39 773.58 665.5 754.89 667.83 740.88 670.17 774.74 672.5 775.33 675.07 770.07" fill="none" stroke="#f00" stroke-width="0.65" stroke-linejoin="round"/>
<path d="M393.34 763.29L395.64 767.54L391.04 767.54zM395.72 765.07L398.02 769.33L393.42 769.33zM398.1 759.71L400.4 763.97L395.8 763.97zM400.49 735.63L402.79 739.89L398.19 739.89zM402.87 713.23L405.17 717.48L400.57 717.48zM405.26 700.71L407.56 704.97L402.96 704.97zM407.64 698.33L409.94 702.58L405.34 702.58zM410.26 702.74L412.56 706.99L407.96 706.99zM412.65 719.19L414.95 723.44L410.35 723.44zM415.03 741.83L417.33 746.09L412.73 746.09zM417.65 759.71L419.95 763.97L415.35 763.97zM420.04 769.84L422.34 774.1L417.74 774.1zM422.42 772.23L424.72 776.48L420.12 776.48zM424.8 773.42L427.1 777.67L422.5 777.67zM427.19 771.63L429.49 775.88L424.89 775.88zM429.57 770.44L431.87 774.69L427.27 774.69zM431.95 771.03L434.25 775.29L429.65 775.29zM434.34 770.44L436.64 774.69L432.04 774.69zM436.48 768.65L438.78 772.9L434.18 772.9zM438.63 766.86L440.93 771.12L436.33 771.12zM441.01 771.63L443.31 775.88L438.71 775.88zM443.4 771.03L445.7 775.29L441.1 775.29zM445.78 769.25L448.08 773.5L443.48 773.5zM447.81 765.67L450.11 769.93L445.51 769.93zM450.19 772.23L452.49 776.48L447.89 776.48zM452.57 771.63L454.87 775.88L450.27 775.88zM454.96 770.44L457.26 774.69L452.66 774.69zM457.34 768.65L459.64 772.9L455.04 772.9zM459.73 771.63L462.03 775.88L457.43 775.88zM462.11 772.82L464.41 777.08L459.81 777.08zM464.49 771.63L466.79 775.88L462.19 775.88zM466.88 768.05L469.18 772.31L464.58 772.31zM467.34 767.54L469.64 771.8L465.04 771.8zM469.38 754.99L471.68 759.24L467.08 759.24zM471.42 742.43L473.72 746.69L469.12 746.69zM473.76 771.05L476.06 775.3L471.46 775.3zM476.09 771.05L478.39 775.3L473.79 775.3zM478.78 751.78L481.08 756.03L476.48 756.03zM480.49 656.54L482.79 660.8L478.19 660.8zM483.47 645.22L485.77 649.47L481.17 649.47zM485.44 743.6L487.74 747.86L483.14 747.86zM487.77 770.46L490.07 774.72L485.47 774.72zM490.11 771.05L492.41 775.3L487.81 775.3zM493.03 764.04L495.33 768.29L490.73 768.29zM495.6 770.46L497.9 774.72L493.3 774.72zM497.93 773.38L500.23 777.64L495.63 777.64zM500.04 772.21L502.34 776.47L497.74 776.47zM502.37 770.46L504.67 774.72L500.07 774.72zM504.71 771.05L507.01 775.3L502.41 775.3zM507.04 773.38L509.34 777.64L504.74 777.64zM509.38 772.21L511.68 776.47L507.08 776.47zM511.72 770.46L514.02 774.72L509.42 774.72zM514.05 768.71L516.35 772.97L511.75 772.97zM516.39 772.21L518.69 776.47L514.09 776.47zM518.72 774.55L521.02 778.81L516.42 778.81zM521.06 771.05L523.36 775.3L518.76 775.3zM523.39 768.71L525.69 772.97L521.09 772.97zM525.73 754.11L528.03 758.37L523.43 758.37zM528.07 771.05L530.37 775.3L525.77 775.3zM530.4 772.8L532.7 777.05L528.1 777.05zM532.74 767.54L535.04 771.8L530.44 771.8zM535.07 720.83L537.37 725.08L532.77 725.08zM537.41 725.5L539.71 729.75L535.11 729.75zM539.87 748.27L542.17 752.53L537.57 752.53zM542.34 771.05L544.64 775.3L540.04 775.3zM544.91 742.43L547.21 746.69L542.61 746.69zM547.24 723.16L549.54 727.42L544.94 727.42zM549.58 750.61L551.88 754.86L547.28 754.86zM552.26 772.21L554.56 776.47L549.96 776.47zM554.6 771.63L556.9 775.89L552.3 775.89zM556.93 756.45L559.23 760.7L554.63 760.7zM558.92 741.85L561.22 746.1L556.62 746.1zM561.61 768.13L563.91 772.38L559.31 772.38zM563.94 771.63L566.24 775.89L561.64 775.89zM566.28 771.05L568.58 775.3L563.98 775.3zM568.61 767.54L570.91 771.8L566.31 771.8zM570.95 772.8L573.25 777.05L568.65 777.05zM573.28 773.97L575.58 778.22L570.98 778.22zM575.62 771.05L577.92 775.3L573.32 775.3zM577.96 764.62L580.26 768.88L575.66 768.88zM580.29 764.04L582.59 768.29L577.99 768.29zM582.63 773.38L584.93 777.64L580.33 777.64zM584.96 772.21L587.26 776.47L582.66 776.47zM587.3 769.88L589.6 774.13L585 774.13zM589.99 754.7L592.29 758.95L587.69 758.95zM591.97 767.54L594.27 771.8L589.67 771.8zM594.31 773.97L596.61 778.22L592.01 778.22zM596.99 772.8L599.29 777.05L594.69 777.05zM599.33 759.37L601.63 763.62L597.03 763.62zM601.66 713.82L603.96 718.08L599.36 718.08zM604 751.19L606.3 755.45L601.7 755.45zM606.34 773.38L608.64 777.64L604.04 777.64zM608.91 767.54L611.21 771.8L606.61 771.8zM610.92 689.19L613.22 693.44L608.62 693.44zM613.3 690.38L615.6 694.63L611 694.63zM615.91 759.37L618.21 763.62L613.61 763.62zM618.25 772.21L620.55 776.47L615.95 776.47zM620.77 763.46L623.07 767.71L618.47 767.71zM622.75 746.52L625.05 750.78L620.45 750.78zM625.44 757.62L627.74 761.87L623.14 761.87zM627.77 773.38L630.07 777.64L625.47 777.64zM630.11 769.29L632.41 773.55L627.81 773.55zM632.45 761.7L634.75 765.96L630.15 765.96zM634.78 752.36L637.08 756.62L632.48 756.62zM637.12 773.38L639.42 777.64L634.82 777.64zM639.45 772.21L641.75 776.47L637.15 776.47zM641.79 764.62L644.09 768.88L639.49 768.88zM644.12 750.02L646.42 754.28L641.82 754.28zM646.46 766.38L648.76 770.63L644.16 770.63zM648.8 773.38L651.1 777.64L646.5 777.64zM651.13 771.05L653.43 775.3L648.83 775.3zM653.47 759.37L655.77 763.62L651.17 763.62zM655.8 742.43L658.1 746.69L653.5 746.69zM658.14 769.88L660.44 774.13L655.84 774.13zM660.82 774.55L663.12 778.81L658.52 778.81zM663.39 771.05L665.69 775.3L661.09 775.3zM665.5 752.36L667.8 756.62L663.2 756.62zM667.83 738.35L670.13 742.6L665.53 742.6zM670.17 772.21L672.47 776.47L667.87 776.47zM672.5 772.8L674.8 777.05L670.2 777.05zM675.07 767.54L677.37 771.8L672.77 771.8z" fill="#f00"/>
<path d="M42.9 84.37H315.6" stroke="#000" stroke-width="1.5"/>
<path d="M42.9 91.64H315.6" stroke="#00f" stroke-width="1.5" stroke-dasharray="7 7" stroke-dashoffset="-0.6"/>
<path d="M42.9 86.83H315.6" stroke="#f00" stroke-width="1.5" stroke-dasharray="5.5 2 1.2 2"/>
<path d="M398.9 97.75H674.3" stroke="#000" stroke-width="1.5"/>
<path d="M398.9 117.02H674.3" stroke="#00f" stroke-width="1.5" stroke-dasharray="7 7" stroke-dashoffset="-0.6"/>
<path d="M398.9 98.31H674.3" stroke="#f00" stroke-width="1.5" stroke-dasharray="5.5 2 1.2 2"/>
<path d="M35.9 388.23H316.2" stroke="#000" stroke-width="1.5"/>
<path d="M35.9 404.02H316.2" stroke="#00f" stroke-width="1.5" stroke-dasharray="7 7" stroke-dashoffset="-0.6"/>
<path d="M35.9 380.6H316.2" stroke="#f00" stroke-width="1.5" stroke-dasharray="5.5 2 1.2 2"/>
<path d="M394.3 383.23H675.7" stroke="#000" stroke-width="1.5"/>
<path d="M394.3 398.05H675.7" stroke="#00f" stroke-width="1.5" stroke-dasharray="7 7" stroke-dashoffset="-0.6"/>
<path d="M394.3 390.51H675.7" stroke="#f00" stroke-width="1.5" stroke-dasharray="5.5 2 1.2 2"/>
<path d="M32.6 700.69H315" stroke="#000" stroke-width="1.5"/>
<path d="M32.6 712.59H315" stroke="#00f" stroke-width="1.5" stroke-dasharray="7 7" stroke-dashoffset="-0.6"/>
<path d="M32.6 709.99H315" stroke="#f00" stroke-width="1.5" stroke-dasharray="5.5 2 1.2 2"/>
<path d="M392.5 750.14H675" stroke="#000" stroke-width="1.5"/>
<path d="M392.5 756.58H675" stroke="#00f" stroke-width="1.5" stroke-dasharray="7 7" stroke-dashoffset="-0.6"/>
<path d="M392.5 761.85H675" stroke="#f00" stroke-width="1.5" stroke-dasharray="5.5 2 1.2 2"/></svg>
</body></html>
